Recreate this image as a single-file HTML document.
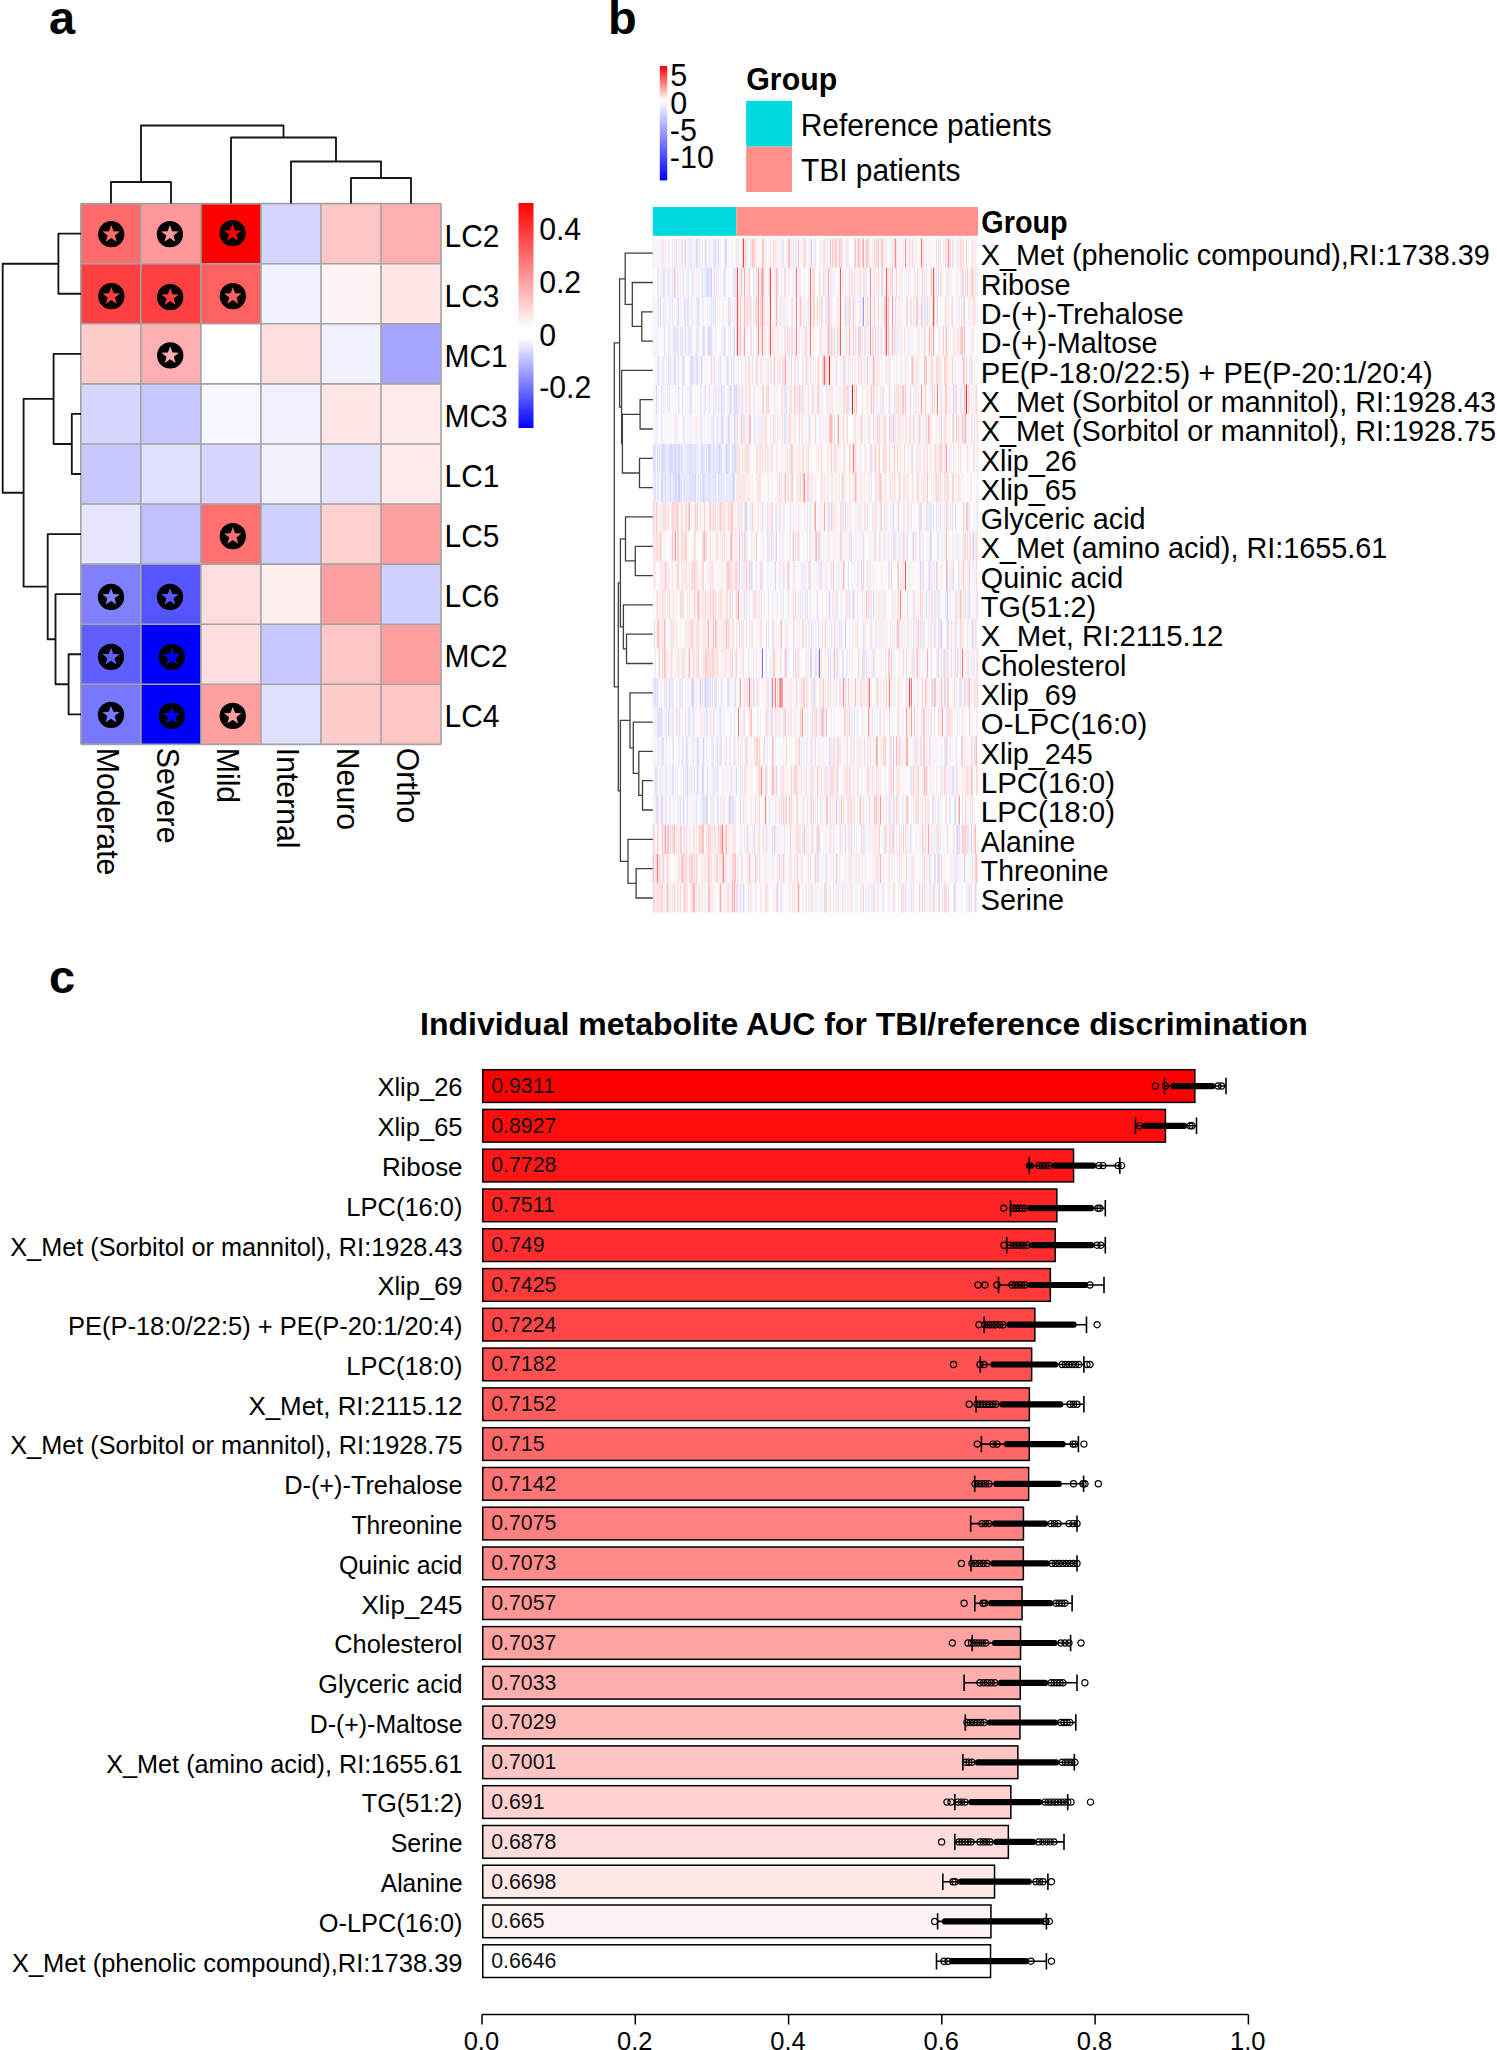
<!DOCTYPE html>
<html><head><meta charset="utf-8"><style>
html,body{margin:0;padding:0;background:#fff;width:1497px;height:2050px;overflow:hidden}
svg{display:block}
text{font-family:"Liberation Sans",sans-serif}
</style></head><body>
<svg width="1497" height="2050" viewBox="0 0 1497 2050">
<rect width="1497" height="2050" fill="#fff"/>
<rect x="80.85" y="203.65" width="60.03" height="60.08" fill="#FF6B6B"/>
<rect x="140.88" y="203.65" width="60.03" height="60.08" fill="#FF9999"/>
<rect x="200.91" y="203.65" width="60.03" height="60.08" fill="#FF0000"/>
<rect x="260.94" y="203.65" width="60.03" height="60.08" fill="#D5D5FF"/>
<rect x="320.97" y="203.65" width="60.03" height="60.08" fill="#FFC6C6"/>
<rect x="381.00" y="203.65" width="60.03" height="60.08" fill="#FFAFAF"/>
<rect x="80.85" y="263.73" width="60.03" height="60.08" fill="#FF4040"/>
<rect x="140.88" y="263.73" width="60.03" height="60.08" fill="#FF4040"/>
<rect x="200.91" y="263.73" width="60.03" height="60.08" fill="#FF6060"/>
<rect x="260.94" y="263.73" width="60.03" height="60.08" fill="#F0F0FF"/>
<rect x="320.97" y="263.73" width="60.03" height="60.08" fill="#FFF3F3"/>
<rect x="381.00" y="263.73" width="60.03" height="60.08" fill="#FFE5E5"/>
<rect x="80.85" y="323.81" width="60.03" height="60.08" fill="#FFCCCC"/>
<rect x="140.88" y="323.81" width="60.03" height="60.08" fill="#FFAFAF"/>
<rect x="200.91" y="323.81" width="60.03" height="60.08" fill="#FFFFFF"/>
<rect x="260.94" y="323.81" width="60.03" height="60.08" fill="#FFE0E0"/>
<rect x="320.97" y="323.81" width="60.03" height="60.08" fill="#F0F0FF"/>
<rect x="381.00" y="323.81" width="60.03" height="60.08" fill="#A5A5FF"/>
<rect x="80.85" y="383.89" width="60.03" height="60.08" fill="#D6D6FF"/>
<rect x="140.88" y="383.89" width="60.03" height="60.08" fill="#C8C8FF"/>
<rect x="200.91" y="383.89" width="60.03" height="60.08" fill="#F7F7FF"/>
<rect x="260.94" y="383.89" width="60.03" height="60.08" fill="#F0F0FF"/>
<rect x="320.97" y="383.89" width="60.03" height="60.08" fill="#FFE6E6"/>
<rect x="381.00" y="383.89" width="60.03" height="60.08" fill="#FFEBEB"/>
<rect x="80.85" y="443.97" width="60.03" height="60.08" fill="#C8C8FF"/>
<rect x="140.88" y="443.97" width="60.03" height="60.08" fill="#E0E0FF"/>
<rect x="200.91" y="443.97" width="60.03" height="60.08" fill="#D6D6FF"/>
<rect x="260.94" y="443.97" width="60.03" height="60.08" fill="#F2F2FF"/>
<rect x="320.97" y="443.97" width="60.03" height="60.08" fill="#E4E4FF"/>
<rect x="381.00" y="443.97" width="60.03" height="60.08" fill="#FFEBEB"/>
<rect x="80.85" y="504.05" width="60.03" height="60.08" fill="#E6E6FF"/>
<rect x="140.88" y="504.05" width="60.03" height="60.08" fill="#C0C0FF"/>
<rect x="200.91" y="504.05" width="60.03" height="60.08" fill="#FF7070"/>
<rect x="260.94" y="504.05" width="60.03" height="60.08" fill="#D0D0FF"/>
<rect x="320.97" y="504.05" width="60.03" height="60.08" fill="#FFD0D0"/>
<rect x="381.00" y="504.05" width="60.03" height="60.08" fill="#FFA0A0"/>
<rect x="80.85" y="564.13" width="60.03" height="60.08" fill="#8080FF"/>
<rect x="140.88" y="564.13" width="60.03" height="60.08" fill="#5555FF"/>
<rect x="200.91" y="564.13" width="60.03" height="60.08" fill="#FFDEDE"/>
<rect x="260.94" y="564.13" width="60.03" height="60.08" fill="#FFF0F0"/>
<rect x="320.97" y="564.13" width="60.03" height="60.08" fill="#FFA0A0"/>
<rect x="381.00" y="564.13" width="60.03" height="60.08" fill="#D0D0FF"/>
<rect x="80.85" y="624.21" width="60.03" height="60.08" fill="#5F5FFF"/>
<rect x="140.88" y="624.21" width="60.03" height="60.08" fill="#0000FF"/>
<rect x="200.91" y="624.21" width="60.03" height="60.08" fill="#FFDEDE"/>
<rect x="260.94" y="624.21" width="60.03" height="60.08" fill="#C8C8FF"/>
<rect x="320.97" y="624.21" width="60.03" height="60.08" fill="#FFC6C6"/>
<rect x="381.00" y="624.21" width="60.03" height="60.08" fill="#FFA0A0"/>
<rect x="80.85" y="684.29" width="60.03" height="60.08" fill="#7878FF"/>
<rect x="140.88" y="684.29" width="60.03" height="60.08" fill="#0000FF"/>
<rect x="200.91" y="684.29" width="60.03" height="60.08" fill="#FFA0A0"/>
<rect x="260.94" y="684.29" width="60.03" height="60.08" fill="#E0E0FF"/>
<rect x="320.97" y="684.29" width="60.03" height="60.08" fill="#FFCCCC"/>
<rect x="381.00" y="684.29" width="60.03" height="60.08" fill="#FFC6C6"/>
<path d="M80.85 203.65V744.37M140.88 203.65V744.37M200.91 203.65V744.37M260.94 203.65V744.37M320.97 203.65V744.37M381.00 203.65V744.37M441.03 203.65V744.37M80.85 203.65H441.03M80.85 263.73H441.03M80.85 323.81H441.03M80.85 383.89H441.03M80.85 443.97H441.03M80.85 504.05H441.03M80.85 564.13H441.03M80.85 624.21H441.03M80.85 684.29H441.03M80.85 744.37H441.03" stroke="#a3a3a3" stroke-width="1.6" fill="none"/>
<circle cx="111.25" cy="234.20" r="13.15" fill="#000"/>
<polygon points="111.25,225.10 113.48,231.23 120.00,231.46 114.86,235.47 116.66,241.74 111.25,238.10 105.84,241.74 107.64,235.47 102.50,231.46 109.02,231.23" fill="#FF6B6B"/>
<circle cx="169.88" cy="234.15" r="13.15" fill="#000"/>
<polygon points="169.88,225.05 172.11,231.18 178.63,231.41 173.49,235.42 175.29,241.69 169.88,238.05 164.47,241.69 166.27,235.42 161.13,231.41 167.65,231.18" fill="#FF9999"/>
<circle cx="232.61" cy="233.15" r="13.15" fill="#000"/>
<polygon points="232.61,224.05 234.84,230.18 241.36,230.41 236.22,234.42 238.02,240.69 232.61,237.05 227.20,240.69 229.00,234.42 223.86,230.41 230.38,230.18" fill="#FF0000"/>
<circle cx="111.35" cy="296.13" r="13.15" fill="#000"/>
<polygon points="111.35,287.03 113.58,293.16 120.10,293.39 114.96,297.40 116.76,303.67 111.35,300.03 105.94,303.67 107.74,297.40 102.60,293.39 109.12,293.16" fill="#FF4040"/>
<circle cx="170.18" cy="297.13" r="13.15" fill="#000"/>
<polygon points="170.18,288.03 172.41,294.16 178.93,294.39 173.79,298.40 175.59,304.67 170.18,301.03 164.77,304.67 166.57,298.40 161.43,294.39 167.95,294.16" fill="#FF4040"/>
<circle cx="232.86" cy="296.13" r="13.15" fill="#000"/>
<polygon points="232.86,287.03 235.09,293.16 241.61,293.39 236.47,297.40 238.27,303.67 232.86,300.03 227.45,303.67 229.25,297.40 224.11,293.39 230.63,293.16" fill="#FF6060"/>
<circle cx="170.18" cy="355.41" r="13.15" fill="#000"/>
<polygon points="170.18,346.31 172.41,352.44 178.93,352.67 173.79,356.68 175.59,362.95 170.18,359.31 164.77,362.95 166.57,356.68 161.43,352.67 167.95,352.44" fill="#FFAFAF"/>
<circle cx="232.81" cy="536.15" r="13.15" fill="#000"/>
<polygon points="232.81,527.05 235.04,533.18 241.56,533.41 236.42,537.42 238.22,543.69 232.81,540.05 227.40,543.69 229.20,537.42 224.06,533.41 230.58,533.18" fill="#FF7070"/>
<circle cx="111.00" cy="596.98" r="13.15" fill="#000"/>
<polygon points="111.00,587.88 113.23,594.01 119.75,594.24 114.61,598.25 116.41,604.52 111.00,600.88 105.59,604.52 107.39,598.25 102.25,594.24 108.77,594.01" fill="#8080FF"/>
<circle cx="169.98" cy="596.98" r="13.15" fill="#000"/>
<polygon points="169.98,587.88 172.21,594.01 178.73,594.24 173.59,598.25 175.39,604.52 169.98,600.88 164.57,604.52 166.37,598.25 161.23,594.24 167.75,594.01" fill="#5555FF"/>
<circle cx="111.00" cy="656.86" r="13.15" fill="#000"/>
<polygon points="111.00,647.76 113.23,653.89 119.75,654.12 114.61,658.13 116.41,664.40 111.00,660.76 105.59,664.40 107.39,658.13 102.25,654.12 108.77,653.89" fill="#5F5FFF"/>
<circle cx="171.78" cy="656.86" r="13.15" fill="#000"/>
<polygon points="171.78,647.76 174.01,653.89 180.53,654.12 175.39,658.13 177.19,664.40 171.78,660.76 166.37,664.40 168.17,658.13 163.03,654.12 169.55,653.89" fill="#0000FF"/>
<circle cx="111.00" cy="714.84" r="13.15" fill="#000"/>
<polygon points="111.00,705.74 113.23,711.87 119.75,712.10 114.61,716.11 116.41,722.38 111.00,718.74 105.59,722.38 107.39,716.11 102.25,712.10 108.77,711.87" fill="#7878FF"/>
<circle cx="171.78" cy="715.89" r="13.15" fill="#000"/>
<polygon points="171.78,706.79 174.01,712.92 180.53,713.15 175.39,717.16 177.19,723.43 171.78,719.79 166.37,723.43 168.17,717.16 163.03,713.15 169.55,712.92" fill="#0000FF"/>
<circle cx="232.76" cy="715.89" r="13.15" fill="#000"/>
<polygon points="232.76,706.79 234.99,712.92 241.51,713.15 236.37,717.16 238.17,723.43 232.76,719.79 227.35,723.43 229.15,717.16 224.01,713.15 230.53,712.92" fill="#FFA0A0"/>
<path d="M111 203.6V182H171V203.6M351 203.6V178H411V203.6M291 203.6V161.5H381V178M231 203.6V137.5H336V161.5M141 182V125.5H283.5V137.5" stroke="#151515" stroke-width="1.85" stroke-linejoin="round" fill="none"/>
<path d="M81 233.69H58.4V293.77H81M81 413.93H71.8V474.01H81M81 353.85H53.6V443.97H71.8M81 654.25H68.6V714.3299999999999H81M81 594.1700000000001H55.5V684.29H68.6M81 534.0899999999999H47.7V639.23H55.5M53.6 398.91H23.6V586.66H47.7M58.4 263.73H2.7V492.78499999999997H23.6" stroke="#151515" stroke-width="1.85" stroke-linejoin="round" fill="none"/>
<text transform="translate(444.60,246.79) scale(1.0,1.075)" font-size="29.9">LC2</text>
<text transform="translate(444.60,306.87) scale(1.0,1.075)" font-size="29.9">LC3</text>
<text transform="translate(444.60,366.95) scale(1.0,1.075)" font-size="29.9">MC1</text>
<text transform="translate(444.60,427.03) scale(1.0,1.075)" font-size="29.9">MC3</text>
<text transform="translate(444.60,487.11) scale(1.0,1.075)" font-size="29.9">LC1</text>
<text transform="translate(444.60,547.19) scale(1.0,1.075)" font-size="29.9">LC5</text>
<text transform="translate(444.60,607.27) scale(1.0,1.075)" font-size="29.9">LC6</text>
<text transform="translate(444.60,667.35) scale(1.0,1.075)" font-size="29.9">MC2</text>
<text transform="translate(444.60,727.43) scale(1.0,1.075)" font-size="29.9">LC4</text>
<text transform="translate(96.80,747.80) rotate(90) scale(1.0,1.06)" font-size="30.2">Moderate</text>
<text transform="translate(156.80,747.80) rotate(90) scale(1.0,1.06)" font-size="30.2">Severe</text>
<text transform="translate(216.80,747.80) rotate(90) scale(1.0,1.06)" font-size="30.2">Mild</text>
<text transform="translate(276.80,747.80) rotate(90) scale(1.0,1.06)" font-size="30.2">Internal</text>
<text transform="translate(336.80,747.80) rotate(90) scale(1.0,1.06)" font-size="30.2">Neuro</text>
<text transform="translate(396.80,747.80) rotate(90) scale(1.0,1.06)" font-size="30.2">Ortho</text>
<defs><linearGradient id="cba" x1="0" y1="0" x2="0" y2="1"><stop offset="0" stop-color="#FF0000"/><stop offset="0.555" stop-color="#FFFFFF"/><stop offset="0.6" stop-color="#FFFFFF"/><stop offset="1" stop-color="#0000FF"/></linearGradient><linearGradient id="cbb" x1="0" y1="0" x2="0" y2="1"><stop offset="0" stop-color="#FF0000"/><stop offset="0.3" stop-color="#FFFFFF"/><stop offset="1" stop-color="#0000FF"/></linearGradient></defs>
<rect x="518.5" y="203" width="15" height="225" fill="url(#cba)"/>
<text transform="translate(539.20,240.00) scale(1.0,1.03)" font-size="30.2">0.4</text>
<text transform="translate(539.20,293.00) scale(1.0,1.03)" font-size="30.2">0.2</text>
<text transform="translate(539.20,345.60) scale(1.0,1.03)" font-size="30.2">0</text>
<text transform="translate(539.20,398.00) scale(1.0,1.03)" font-size="30.2">-0.2</text>
<text x="49" y="34.3" font-size="47" font-weight="bold" font-family="Liberation Sans, sans-serif">a</text>
<text x="608" y="34.3" font-size="47" font-weight="bold" font-family="Liberation Sans, sans-serif">b</text>
<text x="49" y="993.3" font-size="47" font-weight="bold" font-family="Liberation Sans, sans-serif">c</text>
<rect x="659.8" y="66" width="7.4" height="114.4" fill="url(#cbb)"/>
<text x="670.2" y="86" font-size="30.5" font-family="Liberation Sans, sans-serif">5</text>
<text x="670.2" y="113.6" font-size="30.5" font-family="Liberation Sans, sans-serif">0</text>
<text x="669.8" y="140.8" font-size="30.5" font-family="Liberation Sans, sans-serif">-5</text>
<text x="669.8" y="168.2" font-size="30.5" font-family="Liberation Sans, sans-serif">-10</text>
<text transform="translate(746.30,89.90) scale(1.0,1.03)" font-size="30.3" font-weight="bold">Group</text>
<rect x="746.2" y="100.8" width="45.8" height="45.8" fill="#00D9E0"/>
<rect x="746.2" y="146.6" width="45.8" height="45.4" fill="#FF918A"/>
<text transform="translate(800.70,135.90) scale(1.0,1.06)" font-size="29.9">Reference patients</text>
<text transform="translate(801.00,181.30) scale(1.0,1.06)" font-size="29.9">TBI patients</text>
<rect x="652.8" y="207" width="83.5" height="28.8" fill="#00D9E0"/>
<rect x="736.3" y="207" width="241.70000000000005" height="28.8" fill="#FF918A"/>
<text transform="translate(981.30,233.30) scale(1.0,1.06)" font-size="28.8" font-weight="bold">Group</text>
<rect x="652.8" y="238.5" width="325.20000000000005" height="674.13" fill="#FFFFFF"/>
<path fill="#EBEBFF" d="M652.8 238.5h1.00v29.31h-1.00zM656.8 238.5h1.00v29.31h-1.00zM664.8 238.5h1.00v29.31h-1.00zM667.8 238.5h1.00v29.31h-1.00zM668.8 238.5h1.00v29.31h-1.00zM673.8 238.5h1.00v29.31h-1.00zM674.8 238.5h1.00v29.31h-1.00zM678.8 238.5h1.00v29.31h-1.00zM683.8 238.5h1.00v29.31h-1.00zM685.8 238.5h1.00v29.31h-1.00zM688.8 238.5h1.00v29.31h-1.00zM690.8 238.5h1.00v29.31h-1.00zM691.8 238.5h1.00v29.31h-1.00zM693.8 238.5h1.00v29.31h-1.00zM708.8 238.5h1.00v29.31h-1.00zM709.8 238.5h1.00v29.31h-1.00zM712.8 238.5h1.00v29.31h-1.00zM715.8 238.5h1.00v29.31h-1.00zM719.8 238.5h1.00v29.31h-1.00zM723.8 238.5h1.00v29.31h-1.00zM727.8 238.5h1.00v29.31h-1.00zM738.9 238.5h1.00v29.31h-1.00zM745.9 238.5h1.00v29.31h-1.00zM764.9 238.5h1.00v29.31h-1.00zM779.9 238.5h1.00v29.31h-1.00zM808.9 238.5h1.00v29.31h-1.00zM809.9 238.5h1.00v29.31h-1.00zM818.9 238.5h1.00v29.31h-1.00zM846.9 238.5h1.00v29.31h-1.00zM847.9 238.5h1.00v29.31h-1.00zM871.9 238.5h1.00v29.31h-1.00zM882.9 238.5h1.00v29.31h-1.00zM884.9 238.5h1.00v29.31h-1.00zM899.0 238.5h1.00v29.31h-1.00zM903.0 238.5h1.00v29.31h-1.00zM913.0 238.5h1.00v29.31h-1.00zM923.0 238.5h1.00v29.31h-1.00zM943.0 238.5h1.00v29.31h-1.00zM973.0 238.5h1.00v29.31h-1.00zM656.8 267.8h1.00v29.31h-1.00zM659.8 267.8h1.00v29.31h-1.00zM661.8 267.8h1.00v29.31h-1.00zM664.8 267.8h1.00v29.31h-1.00zM667.8 267.8h1.00v29.31h-1.00zM677.8 267.8h1.00v29.31h-1.00zM679.8 267.8h1.00v29.31h-1.00zM686.8 267.8h1.00v29.31h-1.00zM695.8 267.8h1.00v29.31h-1.00zM697.8 267.8h1.00v29.31h-1.00zM699.8 267.8h1.00v29.31h-1.00zM703.8 267.8h1.00v29.31h-1.00zM704.8 267.8h1.00v29.31h-1.00zM708.8 267.8h1.00v29.31h-1.00zM712.8 267.8h1.00v29.31h-1.00zM717.8 267.8h1.00v29.31h-1.00zM719.8 267.8h1.00v29.31h-1.00zM722.8 267.8h1.00v29.31h-1.00zM733.8 267.8h1.00v29.31h-1.00zM735.9 267.8h1.00v29.31h-1.00zM738.9 267.8h1.00v29.31h-1.00zM745.9 267.8h1.00v29.31h-1.00zM752.9 267.8h1.00v29.31h-1.00zM753.9 267.8h1.00v29.31h-1.00zM774.9 267.8h1.00v29.31h-1.00zM777.9 267.8h1.00v29.31h-1.00zM780.9 267.8h1.00v29.31h-1.00zM792.9 267.8h1.00v29.31h-1.00zM798.9 267.8h1.00v29.31h-1.00zM799.9 267.8h1.00v29.31h-1.00zM807.9 267.8h1.00v29.31h-1.00zM826.9 267.8h1.00v29.31h-1.00zM829.9 267.8h1.00v29.31h-1.00zM830.9 267.8h1.00v29.31h-1.00zM832.9 267.8h1.00v29.31h-1.00zM870.9 267.8h1.00v29.31h-1.00zM872.9 267.8h1.00v29.31h-1.00zM914.0 267.8h1.00v29.31h-1.00zM926.0 267.8h1.00v29.31h-1.00zM947.0 267.8h1.00v29.31h-1.00zM977.0 267.8h1.00v29.31h-1.00zM652.8 297.1h1.00v29.31h-1.00zM656.8 297.1h1.00v29.31h-1.00zM662.8 297.1h1.00v29.31h-1.00zM663.8 297.1h1.00v29.31h-1.00zM664.8 297.1h1.00v29.31h-1.00zM675.8 297.1h1.00v29.31h-1.00zM679.8 297.1h1.00v29.31h-1.00zM681.8 297.1h1.00v29.31h-1.00zM683.8 297.1h1.00v29.31h-1.00zM690.8 297.1h1.00v29.31h-1.00zM693.8 297.1h1.00v29.31h-1.00zM695.8 297.1h1.00v29.31h-1.00zM698.8 297.1h1.00v29.31h-1.00zM701.8 297.1h1.00v29.31h-1.00zM702.8 297.1h1.00v29.31h-1.00zM706.8 297.1h1.00v29.31h-1.00zM708.8 297.1h1.00v29.31h-1.00zM713.8 297.1h1.00v29.31h-1.00zM722.8 297.1h1.00v29.31h-1.00zM731.8 297.1h1.00v29.31h-1.00zM733.8 297.1h1.00v29.31h-1.00zM734.9 297.1h1.00v29.31h-1.00zM735.9 297.1h1.00v29.31h-1.00zM750.9 297.1h1.00v29.31h-1.00zM756.9 297.1h1.00v29.31h-1.00zM764.9 297.1h1.00v29.31h-1.00zM781.9 297.1h1.00v29.31h-1.00zM783.9 297.1h1.00v29.31h-1.00zM790.9 297.1h1.00v29.31h-1.00zM798.9 297.1h1.00v29.31h-1.00zM802.9 297.1h1.00v29.31h-1.00zM805.9 297.1h1.00v29.31h-1.00zM819.9 297.1h1.00v29.31h-1.00zM825.9 297.1h1.00v29.31h-1.00zM826.9 297.1h1.00v29.31h-1.00zM829.9 297.1h1.00v29.31h-1.00zM830.9 297.1h1.00v29.31h-1.00zM846.9 297.1h1.00v29.31h-1.00zM847.9 297.1h1.00v29.31h-1.00zM854.9 297.1h1.00v29.31h-1.00zM861.9 297.1h1.00v29.31h-1.00zM865.9 297.1h1.00v29.31h-1.00zM867.9 297.1h1.00v29.31h-1.00zM880.9 297.1h1.00v29.31h-1.00zM892.9 297.1h1.00v29.31h-1.00zM914.0 297.1h1.00v29.31h-1.00zM925.0 297.1h1.00v29.31h-1.00zM926.0 297.1h1.00v29.31h-1.00zM936.0 297.1h1.00v29.31h-1.00zM951.0 297.1h1.00v29.31h-1.00zM957.0 297.1h1.00v29.31h-1.00zM969.0 297.1h1.00v29.31h-1.00zM652.8 326.4h1.00v29.31h-1.00zM668.8 326.4h1.00v29.31h-1.00zM675.8 326.4h1.00v29.31h-1.00zM676.8 326.4h1.00v29.31h-1.00zM680.8 326.4h1.00v29.31h-1.00zM683.8 326.4h1.00v29.31h-1.00zM684.8 326.4h1.00v29.31h-1.00zM685.8 326.4h1.00v29.31h-1.00zM688.8 326.4h1.00v29.31h-1.00zM689.8 326.4h1.00v29.31h-1.00zM697.8 326.4h1.00v29.31h-1.00zM706.8 326.4h1.00v29.31h-1.00zM712.8 326.4h1.00v29.31h-1.00zM714.8 326.4h1.00v29.31h-1.00zM721.8 326.4h1.00v29.31h-1.00zM722.8 326.4h1.00v29.31h-1.00zM732.8 326.4h1.00v29.31h-1.00zM735.9 326.4h1.00v29.31h-1.00zM752.9 326.4h1.00v29.31h-1.00zM756.9 326.4h1.00v29.31h-1.00zM762.9 326.4h1.00v29.31h-1.00zM764.9 326.4h1.00v29.31h-1.00zM783.9 326.4h1.00v29.31h-1.00zM797.9 326.4h1.00v29.31h-1.00zM798.9 326.4h1.00v29.31h-1.00zM801.9 326.4h1.00v29.31h-1.00zM819.9 326.4h1.00v29.31h-1.00zM829.9 326.4h1.00v29.31h-1.00zM865.9 326.4h1.00v29.31h-1.00zM867.9 326.4h1.00v29.31h-1.00zM876.9 326.4h1.00v29.31h-1.00zM888.9 326.4h1.00v29.31h-1.00zM894.9 326.4h1.00v29.31h-1.00zM895.9 326.4h1.00v29.31h-1.00zM897.0 326.4h1.00v29.31h-1.00zM898.0 326.4h1.00v29.31h-1.00zM908.0 326.4h1.00v29.31h-1.00zM919.0 326.4h1.00v29.31h-1.00zM939.0 326.4h1.00v29.31h-1.00zM947.0 326.4h1.00v29.31h-1.00zM963.0 326.4h1.00v29.31h-1.00zM970.0 326.4h1.00v29.31h-1.00zM656.8 355.7h1.00v29.31h-1.00zM658.8 355.7h1.00v29.31h-1.00zM663.8 355.7h1.00v29.31h-1.00zM665.8 355.7h1.00v29.31h-1.00zM668.8 355.7h1.00v29.31h-1.00zM669.8 355.7h1.00v29.31h-1.00zM670.8 355.7h1.00v29.31h-1.00zM672.8 355.7h1.00v29.31h-1.00zM675.8 355.7h1.00v29.31h-1.00zM692.8 355.7h1.00v29.31h-1.00zM693.8 355.7h1.00v29.31h-1.00zM694.8 355.7h1.00v29.31h-1.00zM698.8 355.7h1.00v29.31h-1.00zM704.8 355.7h1.00v29.31h-1.00zM711.8 355.7h1.00v29.31h-1.00zM717.8 355.7h1.00v29.31h-1.00zM722.8 355.7h1.00v29.31h-1.00zM733.8 355.7h1.00v29.31h-1.00zM735.9 355.7h1.00v29.31h-1.00zM740.9 355.7h1.00v29.31h-1.00zM787.9 355.7h1.00v29.31h-1.00zM793.9 355.7h1.00v29.31h-1.00zM797.9 355.7h1.00v29.31h-1.00zM804.9 355.7h1.00v29.31h-1.00zM851.9 355.7h1.00v29.31h-1.00zM863.9 355.7h1.00v29.31h-1.00zM895.9 355.7h1.00v29.31h-1.00zM901.0 355.7h1.00v29.31h-1.00zM918.0 355.7h1.00v29.31h-1.00zM969.0 355.7h1.00v29.31h-1.00zM652.8 385.0h1.00v29.31h-1.00zM657.8 385.0h1.00v29.31h-1.00zM660.8 385.0h1.00v29.31h-1.00zM661.8 385.0h1.00v29.31h-1.00zM662.8 385.0h1.00v29.31h-1.00zM664.8 385.0h1.00v29.31h-1.00zM666.8 385.0h1.00v29.31h-1.00zM674.8 385.0h1.00v29.31h-1.00zM678.8 385.0h1.00v29.31h-1.00zM684.8 385.0h1.00v29.31h-1.00zM686.8 385.0h1.00v29.31h-1.00zM699.8 385.0h1.00v29.31h-1.00zM700.8 385.0h1.00v29.31h-1.00zM703.8 385.0h1.00v29.31h-1.00zM709.8 385.0h1.00v29.31h-1.00zM715.8 385.0h1.00v29.31h-1.00zM718.8 385.0h1.00v29.31h-1.00zM722.8 385.0h1.00v29.31h-1.00zM726.8 385.0h1.00v29.31h-1.00zM732.8 385.0h1.00v29.31h-1.00zM738.9 385.0h1.00v29.31h-1.00zM741.9 385.0h1.00v29.31h-1.00zM742.9 385.0h1.00v29.31h-1.00zM752.9 385.0h1.00v29.31h-1.00zM784.9 385.0h1.00v29.31h-1.00zM803.9 385.0h1.00v29.31h-1.00zM810.9 385.0h1.00v29.31h-1.00zM818.9 385.0h1.00v29.31h-1.00zM820.9 385.0h1.00v29.31h-1.00zM827.9 385.0h1.00v29.31h-1.00zM835.9 385.0h1.00v29.31h-1.00zM875.9 385.0h1.00v29.31h-1.00zM881.9 385.0h1.00v29.31h-1.00zM887.9 385.0h1.00v29.31h-1.00zM889.9 385.0h1.00v29.31h-1.00zM913.0 385.0h1.00v29.31h-1.00zM930.0 385.0h1.00v29.31h-1.00zM954.0 385.0h1.00v29.31h-1.00zM955.0 385.0h1.00v29.31h-1.00zM660.8 414.4h1.00v29.31h-1.00zM661.8 414.4h1.00v29.31h-1.00zM665.8 414.4h1.00v29.31h-1.00zM674.8 414.4h1.00v29.31h-1.00zM675.8 414.4h1.00v29.31h-1.00zM681.8 414.4h1.00v29.31h-1.00zM689.8 414.4h1.00v29.31h-1.00zM691.8 414.4h1.00v29.31h-1.00zM695.8 414.4h1.00v29.31h-1.00zM699.8 414.4h1.00v29.31h-1.00zM703.8 414.4h1.00v29.31h-1.00zM706.8 414.4h1.00v29.31h-1.00zM709.8 414.4h1.00v29.31h-1.00zM712.8 414.4h1.00v29.31h-1.00zM713.8 414.4h1.00v29.31h-1.00zM715.8 414.4h1.00v29.31h-1.00zM717.8 414.4h1.00v29.31h-1.00zM726.8 414.4h1.00v29.31h-1.00zM735.9 414.4h1.00v29.31h-1.00zM745.9 414.4h1.00v29.31h-1.00zM754.9 414.4h1.00v29.31h-1.00zM757.9 414.4h1.00v29.31h-1.00zM758.9 414.4h1.00v29.31h-1.00zM760.9 414.4h1.00v29.31h-1.00zM761.9 414.4h1.00v29.31h-1.00zM786.9 414.4h1.00v29.31h-1.00zM809.9 414.4h1.00v29.31h-1.00zM818.9 414.4h1.00v29.31h-1.00zM826.9 414.4h1.00v29.31h-1.00zM827.9 414.4h1.00v29.31h-1.00zM845.9 414.4h1.00v29.31h-1.00zM863.9 414.4h1.00v29.31h-1.00zM889.9 414.4h1.00v29.31h-1.00zM893.9 414.4h1.00v29.31h-1.00zM894.9 414.4h1.00v29.31h-1.00zM918.0 414.4h1.00v29.31h-1.00zM939.0 414.4h1.00v29.31h-1.00zM961.0 414.4h1.00v29.31h-1.00zM966.0 414.4h1.00v29.31h-1.00zM657.8 443.7h1.00v29.31h-1.00zM659.8 443.7h1.00v29.31h-1.00zM673.8 443.7h1.00v29.31h-1.00zM675.8 443.7h1.00v29.31h-1.00zM679.8 443.7h1.00v29.31h-1.00zM682.8 443.7h1.00v29.31h-1.00zM692.8 443.7h1.00v29.31h-1.00zM695.8 443.7h1.00v29.31h-1.00zM697.8 443.7h1.00v29.31h-1.00zM699.8 443.7h1.00v29.31h-1.00zM710.8 443.7h1.00v29.31h-1.00zM711.8 443.7h1.00v29.31h-1.00zM714.8 443.7h1.00v29.31h-1.00zM716.8 443.7h1.00v29.31h-1.00zM722.8 443.7h1.00v29.31h-1.00zM724.8 443.7h1.00v29.31h-1.00zM732.8 443.7h1.00v29.31h-1.00zM789.9 443.7h1.00v29.31h-1.00zM917.0 443.7h1.00v29.31h-1.00zM949.0 443.7h1.00v29.31h-1.00zM954.0 443.7h1.00v29.31h-1.00zM663.8 473.0h1.00v29.31h-1.00zM668.8 473.0h1.00v29.31h-1.00zM670.8 473.0h1.00v29.31h-1.00zM671.8 473.0h1.00v29.31h-1.00zM679.8 473.0h1.00v29.31h-1.00zM682.8 473.0h1.00v29.31h-1.00zM685.8 473.0h1.00v29.31h-1.00zM687.8 473.0h1.00v29.31h-1.00zM700.8 473.0h1.00v29.31h-1.00zM704.8 473.0h1.00v29.31h-1.00zM706.8 473.0h1.00v29.31h-1.00zM710.8 473.0h1.00v29.31h-1.00zM711.8 473.0h1.00v29.31h-1.00zM713.8 473.0h1.00v29.31h-1.00zM715.8 473.0h1.00v29.31h-1.00zM719.8 473.0h1.00v29.31h-1.00zM721.8 473.0h1.00v29.31h-1.00zM722.8 473.0h1.00v29.31h-1.00zM723.8 473.0h1.00v29.31h-1.00zM726.8 473.0h1.00v29.31h-1.00zM727.8 473.0h1.00v29.31h-1.00zM729.8 473.0h1.00v29.31h-1.00zM730.8 473.0h1.00v29.31h-1.00zM735.9 473.0h1.00v29.31h-1.00zM767.9 473.0h1.00v29.31h-1.00zM789.9 473.0h1.00v29.31h-1.00zM809.9 473.0h1.00v29.31h-1.00zM824.9 473.0h1.00v29.31h-1.00zM970.0 473.0h1.00v29.31h-1.00zM977.0 473.0h1.00v29.31h-1.00zM692.8 502.3h1.00v29.31h-1.00zM736.9 502.3h1.00v29.31h-1.00zM741.9 502.3h1.00v29.31h-1.00zM749.9 502.3h1.00v29.31h-1.00zM774.9 502.3h1.00v29.31h-1.00zM782.9 502.3h1.00v29.31h-1.00zM783.9 502.3h1.00v29.31h-1.00zM789.9 502.3h1.00v29.31h-1.00zM803.9 502.3h1.00v29.31h-1.00zM816.9 502.3h1.00v29.31h-1.00zM820.9 502.3h1.00v29.31h-1.00zM826.9 502.3h1.00v29.31h-1.00zM828.9 502.3h1.00v29.31h-1.00zM829.9 502.3h1.00v29.31h-1.00zM841.9 502.3h1.00v29.31h-1.00zM846.9 502.3h1.00v29.31h-1.00zM850.9 502.3h1.00v29.31h-1.00zM854.9 502.3h1.00v29.31h-1.00zM857.9 502.3h1.00v29.31h-1.00zM858.9 502.3h1.00v29.31h-1.00zM891.9 502.3h1.00v29.31h-1.00zM907.0 502.3h1.00v29.31h-1.00zM923.0 502.3h1.00v29.31h-1.00zM927.0 502.3h1.00v29.31h-1.00zM928.0 502.3h1.00v29.31h-1.00zM929.0 502.3h1.00v29.31h-1.00zM931.0 502.3h1.00v29.31h-1.00zM944.0 502.3h1.00v29.31h-1.00zM950.0 502.3h1.00v29.31h-1.00zM673.8 531.6h1.00v29.31h-1.00zM675.8 531.6h1.00v29.31h-1.00zM717.8 531.6h1.00v29.31h-1.00zM736.9 531.6h1.00v29.31h-1.00zM750.9 531.6h1.00v29.31h-1.00zM767.9 531.6h1.00v29.31h-1.00zM768.9 531.6h1.00v29.31h-1.00zM772.9 531.6h1.00v29.31h-1.00zM780.9 531.6h1.00v29.31h-1.00zM782.9 531.6h1.00v29.31h-1.00zM788.9 531.6h1.00v29.31h-1.00zM791.9 531.6h1.00v29.31h-1.00zM816.9 531.6h1.00v29.31h-1.00zM822.9 531.6h1.00v29.31h-1.00zM849.9 531.6h1.00v29.31h-1.00zM852.9 531.6h1.00v29.31h-1.00zM854.9 531.6h1.00v29.31h-1.00zM882.9 531.6h1.00v29.31h-1.00zM883.9 531.6h1.00v29.31h-1.00zM887.9 531.6h1.00v29.31h-1.00zM890.9 531.6h1.00v29.31h-1.00zM898.0 531.6h1.00v29.31h-1.00zM899.0 531.6h1.00v29.31h-1.00zM906.0 531.6h1.00v29.31h-1.00zM916.0 531.6h1.00v29.31h-1.00zM920.0 531.6h1.00v29.31h-1.00zM923.0 531.6h1.00v29.31h-1.00zM937.0 531.6h1.00v29.31h-1.00zM945.0 531.6h1.00v29.31h-1.00zM957.0 531.6h1.00v29.31h-1.00zM964.0 531.6h1.00v29.31h-1.00zM970.0 531.6h1.00v29.31h-1.00zM972.0 531.6h1.00v29.31h-1.00zM975.0 531.6h1.00v29.31h-1.00zM660.8 560.9h1.00v29.31h-1.00zM662.8 560.9h1.00v29.31h-1.00zM710.8 560.9h1.00v29.31h-1.00zM736.9 560.9h1.00v29.31h-1.00zM737.9 560.9h1.00v29.31h-1.00zM741.9 560.9h1.00v29.31h-1.00zM742.9 560.9h1.00v29.31h-1.00zM766.9 560.9h1.00v29.31h-1.00zM783.9 560.9h1.00v29.31h-1.00zM792.9 560.9h1.00v29.31h-1.00zM800.9 560.9h1.00v29.31h-1.00zM802.9 560.9h1.00v29.31h-1.00zM804.9 560.9h1.00v29.31h-1.00zM819.9 560.9h1.00v29.31h-1.00zM826.9 560.9h1.00v29.31h-1.00zM835.9 560.9h1.00v29.31h-1.00zM850.9 560.9h1.00v29.31h-1.00zM856.9 560.9h1.00v29.31h-1.00zM868.9 560.9h1.00v29.31h-1.00zM901.0 560.9h1.00v29.31h-1.00zM909.0 560.9h1.00v29.31h-1.00zM922.0 560.9h1.00v29.31h-1.00zM930.0 560.9h1.00v29.31h-1.00zM931.0 560.9h1.00v29.31h-1.00zM934.0 560.9h1.00v29.31h-1.00zM951.0 560.9h1.00v29.31h-1.00zM952.0 560.9h1.00v29.31h-1.00zM658.8 590.2h1.00v29.31h-1.00zM666.8 590.2h1.00v29.31h-1.00zM734.9 590.2h1.00v29.31h-1.00zM740.9 590.2h1.00v29.31h-1.00zM744.9 590.2h1.00v29.31h-1.00zM748.9 590.2h1.00v29.31h-1.00zM758.9 590.2h1.00v29.31h-1.00zM772.9 590.2h1.00v29.31h-1.00zM776.9 590.2h1.00v29.31h-1.00zM780.9 590.2h1.00v29.31h-1.00zM797.9 590.2h1.00v29.31h-1.00zM809.9 590.2h1.00v29.31h-1.00zM827.9 590.2h1.00v29.31h-1.00zM829.9 590.2h1.00v29.31h-1.00zM832.9 590.2h1.00v29.31h-1.00zM834.9 590.2h1.00v29.31h-1.00zM836.9 590.2h1.00v29.31h-1.00zM840.9 590.2h1.00v29.31h-1.00zM844.9 590.2h1.00v29.31h-1.00zM856.9 590.2h1.00v29.31h-1.00zM875.9 590.2h1.00v29.31h-1.00zM892.9 590.2h1.00v29.31h-1.00zM913.0 590.2h1.00v29.31h-1.00zM928.0 590.2h1.00v29.31h-1.00zM932.0 590.2h1.00v29.31h-1.00zM934.0 590.2h1.00v29.31h-1.00zM936.0 590.2h1.00v29.31h-1.00zM946.0 590.2h1.00v29.31h-1.00zM964.0 590.2h1.00v29.31h-1.00zM967.0 590.2h1.00v29.31h-1.00zM970.0 590.2h1.00v29.31h-1.00zM976.0 590.2h1.00v29.31h-1.00zM668.8 619.5h1.00v29.31h-1.00zM703.8 619.5h1.00v29.31h-1.00zM748.9 619.5h1.00v29.31h-1.00zM750.9 619.5h1.00v29.31h-1.00zM786.9 619.5h1.00v29.31h-1.00zM796.9 619.5h1.00v29.31h-1.00zM807.9 619.5h1.00v29.31h-1.00zM808.9 619.5h1.00v29.31h-1.00zM812.9 619.5h1.00v29.31h-1.00zM814.9 619.5h1.00v29.31h-1.00zM828.9 619.5h1.00v29.31h-1.00zM834.9 619.5h1.00v29.31h-1.00zM836.9 619.5h1.00v29.31h-1.00zM848.9 619.5h1.00v29.31h-1.00zM869.9 619.5h1.00v29.31h-1.00zM874.9 619.5h1.00v29.31h-1.00zM875.9 619.5h1.00v29.31h-1.00zM879.9 619.5h1.00v29.31h-1.00zM883.9 619.5h1.00v29.31h-1.00zM891.9 619.5h1.00v29.31h-1.00zM895.9 619.5h1.00v29.31h-1.00zM902.0 619.5h1.00v29.31h-1.00zM907.0 619.5h1.00v29.31h-1.00zM913.0 619.5h1.00v29.31h-1.00zM921.0 619.5h1.00v29.31h-1.00zM922.0 619.5h1.00v29.31h-1.00zM924.0 619.5h1.00v29.31h-1.00zM928.0 619.5h1.00v29.31h-1.00zM935.0 619.5h1.00v29.31h-1.00zM942.0 619.5h1.00v29.31h-1.00zM946.0 619.5h1.00v29.31h-1.00zM956.0 619.5h1.00v29.31h-1.00zM967.0 619.5h1.00v29.31h-1.00zM971.0 619.5h1.00v29.31h-1.00zM976.0 619.5h1.00v29.31h-1.00zM678.8 648.8h1.00v29.31h-1.00zM734.9 648.8h1.00v29.31h-1.00zM769.9 648.8h1.00v29.31h-1.00zM783.9 648.8h1.00v29.31h-1.00zM786.9 648.8h1.00v29.31h-1.00zM798.9 648.8h1.00v29.31h-1.00zM807.9 648.8h1.00v29.31h-1.00zM817.9 648.8h1.00v29.31h-1.00zM832.9 648.8h1.00v29.31h-1.00zM837.9 648.8h1.00v29.31h-1.00zM842.9 648.8h1.00v29.31h-1.00zM845.9 648.8h1.00v29.31h-1.00zM846.9 648.8h1.00v29.31h-1.00zM848.9 648.8h1.00v29.31h-1.00zM871.9 648.8h1.00v29.31h-1.00zM893.9 648.8h1.00v29.31h-1.00zM922.0 648.8h1.00v29.31h-1.00zM946.0 648.8h1.00v29.31h-1.00zM948.0 648.8h1.00v29.31h-1.00zM954.0 648.8h1.00v29.31h-1.00zM963.0 648.8h1.00v29.31h-1.00zM966.0 648.8h1.00v29.31h-1.00zM971.0 648.8h1.00v29.31h-1.00zM976.0 648.8h1.00v29.31h-1.00zM653.8 678.1h1.00v29.31h-1.00zM655.8 678.1h1.00v29.31h-1.00zM663.8 678.1h1.00v29.31h-1.00zM664.8 678.1h1.00v29.31h-1.00zM669.8 678.1h1.00v29.31h-1.00zM670.8 678.1h1.00v29.31h-1.00zM672.8 678.1h1.00v29.31h-1.00zM675.8 678.1h1.00v29.31h-1.00zM680.8 678.1h1.00v29.31h-1.00zM684.8 678.1h1.00v29.31h-1.00zM686.8 678.1h1.00v29.31h-1.00zM690.8 678.1h1.00v29.31h-1.00zM693.8 678.1h1.00v29.31h-1.00zM695.8 678.1h1.00v29.31h-1.00zM703.8 678.1h1.00v29.31h-1.00zM707.8 678.1h1.00v29.31h-1.00zM717.8 678.1h1.00v29.31h-1.00zM731.8 678.1h1.00v29.31h-1.00zM733.8 678.1h1.00v29.31h-1.00zM755.9 678.1h1.00v29.31h-1.00zM772.9 678.1h1.00v29.31h-1.00zM799.9 678.1h1.00v29.31h-1.00zM810.9 678.1h1.00v29.31h-1.00zM843.9 678.1h1.00v29.31h-1.00zM850.9 678.1h1.00v29.31h-1.00zM859.9 678.1h1.00v29.31h-1.00zM892.9 678.1h1.00v29.31h-1.00zM894.9 678.1h1.00v29.31h-1.00zM906.0 678.1h1.00v29.31h-1.00zM908.0 678.1h1.00v29.31h-1.00zM914.0 678.1h1.00v29.31h-1.00zM942.0 678.1h1.00v29.31h-1.00zM971.0 678.1h1.00v29.31h-1.00zM652.8 707.5h1.00v29.31h-1.00zM654.8 707.5h1.00v29.31h-1.00zM655.8 707.5h1.00v29.31h-1.00zM656.8 707.5h1.00v29.31h-1.00zM657.8 707.5h1.00v29.31h-1.00zM659.8 707.5h1.00v29.31h-1.00zM663.8 707.5h1.00v29.31h-1.00zM670.8 707.5h1.00v29.31h-1.00zM675.8 707.5h1.00v29.31h-1.00zM676.8 707.5h1.00v29.31h-1.00zM677.8 707.5h1.00v29.31h-1.00zM681.8 707.5h1.00v29.31h-1.00zM684.8 707.5h1.00v29.31h-1.00zM687.8 707.5h1.00v29.31h-1.00zM691.8 707.5h1.00v29.31h-1.00zM693.8 707.5h1.00v29.31h-1.00zM708.8 707.5h1.00v29.31h-1.00zM712.8 707.5h1.00v29.31h-1.00zM718.8 707.5h1.00v29.31h-1.00zM721.8 707.5h1.00v29.31h-1.00zM723.8 707.5h1.00v29.31h-1.00zM729.8 707.5h1.00v29.31h-1.00zM739.9 707.5h1.00v29.31h-1.00zM742.9 707.5h1.00v29.31h-1.00zM757.9 707.5h1.00v29.31h-1.00zM769.9 707.5h1.00v29.31h-1.00zM770.9 707.5h1.00v29.31h-1.00zM777.9 707.5h1.00v29.31h-1.00zM783.9 707.5h1.00v29.31h-1.00zM804.9 707.5h1.00v29.31h-1.00zM806.9 707.5h1.00v29.31h-1.00zM817.9 707.5h1.00v29.31h-1.00zM827.9 707.5h1.00v29.31h-1.00zM833.9 707.5h1.00v29.31h-1.00zM850.9 707.5h1.00v29.31h-1.00zM856.9 707.5h1.00v29.31h-1.00zM873.9 707.5h1.00v29.31h-1.00zM875.9 707.5h1.00v29.31h-1.00zM878.9 707.5h1.00v29.31h-1.00zM902.0 707.5h1.00v29.31h-1.00zM922.0 707.5h1.00v29.31h-1.00zM928.0 707.5h1.00v29.31h-1.00zM939.0 707.5h1.00v29.31h-1.00zM946.0 707.5h1.00v29.31h-1.00zM977.0 707.5h1.00v29.31h-1.00zM652.8 736.8h1.00v29.31h-1.00zM654.8 736.8h1.00v29.31h-1.00zM656.8 736.8h1.00v29.31h-1.00zM659.8 736.8h1.00v29.31h-1.00zM677.8 736.8h1.00v29.31h-1.00zM678.8 736.8h1.00v29.31h-1.00zM682.8 736.8h1.00v29.31h-1.00zM690.8 736.8h1.00v29.31h-1.00zM694.8 736.8h1.00v29.31h-1.00zM698.8 736.8h1.00v29.31h-1.00zM703.8 736.8h1.00v29.31h-1.00zM705.8 736.8h1.00v29.31h-1.00zM710.8 736.8h1.00v29.31h-1.00zM711.8 736.8h1.00v29.31h-1.00zM718.8 736.8h1.00v29.31h-1.00zM724.8 736.8h1.00v29.31h-1.00zM728.8 736.8h1.00v29.31h-1.00zM732.8 736.8h1.00v29.31h-1.00zM734.9 736.8h1.00v29.31h-1.00zM739.9 736.8h1.00v29.31h-1.00zM766.9 736.8h1.00v29.31h-1.00zM774.9 736.8h1.00v29.31h-1.00zM802.9 736.8h1.00v29.31h-1.00zM805.9 736.8h1.00v29.31h-1.00zM806.9 736.8h1.00v29.31h-1.00zM810.9 736.8h1.00v29.31h-1.00zM811.9 736.8h1.00v29.31h-1.00zM818.9 736.8h1.00v29.31h-1.00zM822.9 736.8h1.00v29.31h-1.00zM830.9 736.8h1.00v29.31h-1.00zM838.9 736.8h1.00v29.31h-1.00zM843.9 736.8h1.00v29.31h-1.00zM852.9 736.8h1.00v29.31h-1.00zM867.9 736.8h1.00v29.31h-1.00zM900.0 736.8h1.00v29.31h-1.00zM914.0 736.8h1.00v29.31h-1.00zM930.0 736.8h1.00v29.31h-1.00zM941.0 736.8h1.00v29.31h-1.00zM944.0 736.8h1.00v29.31h-1.00zM950.0 736.8h1.00v29.31h-1.00zM656.8 766.1h1.00v29.31h-1.00zM661.8 766.1h1.00v29.31h-1.00zM664.8 766.1h1.00v29.31h-1.00zM665.8 766.1h1.00v29.31h-1.00zM666.8 766.1h1.00v29.31h-1.00zM669.8 766.1h1.00v29.31h-1.00zM674.8 766.1h1.00v29.31h-1.00zM688.8 766.1h1.00v29.31h-1.00zM695.8 766.1h1.00v29.31h-1.00zM717.8 766.1h1.00v29.31h-1.00zM721.8 766.1h1.00v29.31h-1.00zM726.8 766.1h1.00v29.31h-1.00zM741.9 766.1h1.00v29.31h-1.00zM746.9 766.1h1.00v29.31h-1.00zM766.9 766.1h1.00v29.31h-1.00zM810.9 766.1h1.00v29.31h-1.00zM826.9 766.1h1.00v29.31h-1.00zM888.9 766.1h1.00v29.31h-1.00zM889.9 766.1h1.00v29.31h-1.00zM910.0 766.1h1.00v29.31h-1.00zM914.0 766.1h1.00v29.31h-1.00zM922.0 766.1h1.00v29.31h-1.00zM927.0 766.1h1.00v29.31h-1.00zM936.0 766.1h1.00v29.31h-1.00zM945.0 766.1h1.00v29.31h-1.00zM949.0 766.1h1.00v29.31h-1.00zM951.0 766.1h1.00v29.31h-1.00zM955.0 766.1h1.00v29.31h-1.00zM652.8 795.4h1.00v29.31h-1.00zM654.8 795.4h1.00v29.31h-1.00zM662.8 795.4h1.00v29.31h-1.00zM664.8 795.4h1.00v29.31h-1.00zM668.8 795.4h1.00v29.31h-1.00zM669.8 795.4h1.00v29.31h-1.00zM672.8 795.4h1.00v29.31h-1.00zM676.8 795.4h1.00v29.31h-1.00zM677.8 795.4h1.00v29.31h-1.00zM693.8 795.4h1.00v29.31h-1.00zM713.8 795.4h1.00v29.31h-1.00zM721.8 795.4h1.00v29.31h-1.00zM733.8 795.4h1.00v29.31h-1.00zM734.9 795.4h1.00v29.31h-1.00zM783.9 795.4h1.00v29.31h-1.00zM820.9 795.4h1.00v29.31h-1.00zM838.9 795.4h1.00v29.31h-1.00zM852.9 795.4h1.00v29.31h-1.00zM865.9 795.4h1.00v29.31h-1.00zM889.9 795.4h1.00v29.31h-1.00zM893.9 795.4h1.00v29.31h-1.00zM903.0 795.4h1.00v29.31h-1.00zM911.0 795.4h1.00v29.31h-1.00zM914.0 795.4h1.00v29.31h-1.00zM933.0 795.4h1.00v29.31h-1.00zM935.0 795.4h1.00v29.31h-1.00zM937.0 795.4h1.00v29.31h-1.00zM938.0 795.4h1.00v29.31h-1.00zM940.0 795.4h1.00v29.31h-1.00zM971.0 795.4h1.00v29.31h-1.00zM662.8 824.7h1.00v29.31h-1.00zM663.8 824.7h1.00v29.31h-1.00zM686.8 824.7h1.00v29.31h-1.00zM745.9 824.7h1.00v29.31h-1.00zM747.9 824.7h1.00v29.31h-1.00zM751.9 824.7h1.00v29.31h-1.00zM766.9 824.7h1.00v29.31h-1.00zM772.9 824.7h1.00v29.31h-1.00zM774.9 824.7h1.00v29.31h-1.00zM775.9 824.7h1.00v29.31h-1.00zM777.9 824.7h1.00v29.31h-1.00zM799.9 824.7h1.00v29.31h-1.00zM802.9 824.7h1.00v29.31h-1.00zM808.9 824.7h1.00v29.31h-1.00zM815.9 824.7h1.00v29.31h-1.00zM825.9 824.7h1.00v29.31h-1.00zM841.9 824.7h1.00v29.31h-1.00zM847.9 824.7h1.00v29.31h-1.00zM848.9 824.7h1.00v29.31h-1.00zM853.9 824.7h1.00v29.31h-1.00zM855.9 824.7h1.00v29.31h-1.00zM863.9 824.7h1.00v29.31h-1.00zM864.9 824.7h1.00v29.31h-1.00zM866.9 824.7h1.00v29.31h-1.00zM871.9 824.7h1.00v29.31h-1.00zM908.0 824.7h1.00v29.31h-1.00zM911.0 824.7h1.00v29.31h-1.00zM920.0 824.7h1.00v29.31h-1.00zM932.0 824.7h1.00v29.31h-1.00zM934.0 824.7h1.00v29.31h-1.00zM937.0 824.7h1.00v29.31h-1.00zM954.0 824.7h1.00v29.31h-1.00zM973.0 824.7h1.00v29.31h-1.00zM977.0 824.7h1.00v29.31h-1.00zM653.8 854.0h1.00v29.31h-1.00zM663.8 854.0h1.00v29.31h-1.00zM686.8 854.0h1.00v29.31h-1.00zM694.8 854.0h1.00v29.31h-1.00zM709.8 854.0h1.00v29.31h-1.00zM729.8 854.0h1.00v29.31h-1.00zM736.9 854.0h1.00v29.31h-1.00zM747.9 854.0h1.00v29.31h-1.00zM771.9 854.0h1.00v29.31h-1.00zM780.9 854.0h1.00v29.31h-1.00zM790.9 854.0h1.00v29.31h-1.00zM795.9 854.0h1.00v29.31h-1.00zM801.9 854.0h1.00v29.31h-1.00zM813.9 854.0h1.00v29.31h-1.00zM815.9 854.0h1.00v29.31h-1.00zM821.9 854.0h1.00v29.31h-1.00zM824.9 854.0h1.00v29.31h-1.00zM836.9 854.0h1.00v29.31h-1.00zM838.9 854.0h1.00v29.31h-1.00zM852.9 854.0h1.00v29.31h-1.00zM855.9 854.0h1.00v29.31h-1.00zM857.9 854.0h1.00v29.31h-1.00zM858.9 854.0h1.00v29.31h-1.00zM869.9 854.0h1.00v29.31h-1.00zM877.9 854.0h1.00v29.31h-1.00zM887.9 854.0h1.00v29.31h-1.00zM897.0 854.0h1.00v29.31h-1.00zM911.0 854.0h1.00v29.31h-1.00zM923.0 854.0h1.00v29.31h-1.00zM951.0 854.0h1.00v29.31h-1.00zM956.0 854.0h1.00v29.31h-1.00zM957.0 854.0h1.00v29.31h-1.00zM663.8 883.3h1.00v29.31h-1.00zM697.8 883.3h1.00v29.31h-1.00zM703.8 883.3h1.00v29.31h-1.00zM712.8 883.3h1.00v29.31h-1.00zM726.8 883.3h1.00v29.31h-1.00zM777.9 883.3h1.00v29.31h-1.00zM802.9 883.3h1.00v29.31h-1.00zM805.9 883.3h1.00v29.31h-1.00zM807.9 883.3h1.00v29.31h-1.00zM808.9 883.3h1.00v29.31h-1.00zM814.9 883.3h1.00v29.31h-1.00zM836.9 883.3h1.00v29.31h-1.00zM846.9 883.3h1.00v29.31h-1.00zM851.9 883.3h1.00v29.31h-1.00zM859.9 883.3h1.00v29.31h-1.00zM860.9 883.3h1.00v29.31h-1.00zM864.9 883.3h1.00v29.31h-1.00zM869.9 883.3h1.00v29.31h-1.00zM870.9 883.3h1.00v29.31h-1.00zM888.9 883.3h1.00v29.31h-1.00zM925.0 883.3h1.00v29.31h-1.00zM929.0 883.3h1.00v29.31h-1.00zM938.0 883.3h1.00v29.31h-1.00zM946.0 883.3h1.00v29.31h-1.00zM953.0 883.3h1.00v29.31h-1.00zM955.0 883.3h1.00v29.31h-1.00zM961.0 883.3h1.00v29.31h-1.00zM968.0 883.3h1.00v29.31h-1.00zM974.0 883.3h1.00v29.31h-1.00zM976.0 883.3h1.00v29.31h-1.00z"/>
<path fill="#F5F5FF" d="M653.8 238.5h1.00v29.31h-1.00zM654.8 238.5h1.00v29.31h-1.00zM657.8 238.5h1.00v29.31h-1.00zM658.8 238.5h1.00v29.31h-1.00zM659.8 238.5h1.00v29.31h-1.00zM663.8 238.5h1.00v29.31h-1.00zM665.8 238.5h1.00v29.31h-1.00zM669.8 238.5h1.00v29.31h-1.00zM679.8 238.5h1.00v29.31h-1.00zM680.8 238.5h1.00v29.31h-1.00zM692.8 238.5h1.00v29.31h-1.00zM700.8 238.5h1.00v29.31h-1.00zM710.8 238.5h1.00v29.31h-1.00zM711.8 238.5h1.00v29.31h-1.00zM716.8 238.5h1.00v29.31h-1.00zM718.8 238.5h1.00v29.31h-1.00zM726.8 238.5h1.00v29.31h-1.00zM730.8 238.5h1.00v29.31h-1.00zM734.9 238.5h1.00v29.31h-1.00zM736.9 238.5h1.00v29.31h-1.00zM756.9 238.5h1.00v29.31h-1.00zM757.9 238.5h1.00v29.31h-1.00zM765.9 238.5h1.00v29.31h-1.00zM780.9 238.5h1.00v29.31h-1.00zM791.9 238.5h1.00v29.31h-1.00zM806.9 238.5h1.00v29.31h-1.00zM813.9 238.5h1.00v29.31h-1.00zM825.9 238.5h1.00v29.31h-1.00zM827.9 238.5h1.00v29.31h-1.00zM830.9 238.5h1.00v29.31h-1.00zM836.9 238.5h1.00v29.31h-1.00zM842.9 238.5h1.00v29.31h-1.00zM851.9 238.5h1.00v29.31h-1.00zM855.9 238.5h1.00v29.31h-1.00zM860.9 238.5h1.00v29.31h-1.00zM863.9 238.5h1.00v29.31h-1.00zM888.9 238.5h1.00v29.31h-1.00zM892.9 238.5h1.00v29.31h-1.00zM897.0 238.5h1.00v29.31h-1.00zM906.0 238.5h1.00v29.31h-1.00zM907.0 238.5h1.00v29.31h-1.00zM910.0 238.5h1.00v29.31h-1.00zM911.0 238.5h1.00v29.31h-1.00zM914.0 238.5h1.00v29.31h-1.00zM924.0 238.5h1.00v29.31h-1.00zM925.0 238.5h1.00v29.31h-1.00zM929.0 238.5h1.00v29.31h-1.00zM934.0 238.5h1.00v29.31h-1.00zM944.0 238.5h1.00v29.31h-1.00zM946.0 238.5h1.00v29.31h-1.00zM958.0 238.5h1.00v29.31h-1.00zM968.0 238.5h1.00v29.31h-1.00zM976.0 238.5h1.00v29.31h-1.00zM652.8 267.8h1.00v29.31h-1.00zM658.8 267.8h1.00v29.31h-1.00zM665.8 267.8h1.00v29.31h-1.00zM669.8 267.8h1.00v29.31h-1.00zM670.8 267.8h1.00v29.31h-1.00zM672.8 267.8h1.00v29.31h-1.00zM675.8 267.8h1.00v29.31h-1.00zM683.8 267.8h1.00v29.31h-1.00zM685.8 267.8h1.00v29.31h-1.00zM694.8 267.8h1.00v29.31h-1.00zM700.8 267.8h1.00v29.31h-1.00zM702.8 267.8h1.00v29.31h-1.00zM714.8 267.8h1.00v29.31h-1.00zM720.8 267.8h1.00v29.31h-1.00zM725.8 267.8h1.00v29.31h-1.00zM727.8 267.8h1.00v29.31h-1.00zM728.8 267.8h1.00v29.31h-1.00zM744.9 267.8h1.00v29.31h-1.00zM746.9 267.8h1.00v29.31h-1.00zM756.9 267.8h1.00v29.31h-1.00zM758.9 267.8h1.00v29.31h-1.00zM763.9 267.8h1.00v29.31h-1.00zM764.9 267.8h1.00v29.31h-1.00zM765.9 267.8h1.00v29.31h-1.00zM771.9 267.8h1.00v29.31h-1.00zM772.9 267.8h1.00v29.31h-1.00zM790.9 267.8h1.00v29.31h-1.00zM793.9 267.8h1.00v29.31h-1.00zM797.9 267.8h1.00v29.31h-1.00zM802.9 267.8h1.00v29.31h-1.00zM804.9 267.8h1.00v29.31h-1.00zM819.9 267.8h1.00v29.31h-1.00zM821.9 267.8h1.00v29.31h-1.00zM831.9 267.8h1.00v29.31h-1.00zM833.9 267.8h1.00v29.31h-1.00zM836.9 267.8h1.00v29.31h-1.00zM846.9 267.8h1.00v29.31h-1.00zM849.9 267.8h1.00v29.31h-1.00zM850.9 267.8h1.00v29.31h-1.00zM854.9 267.8h1.00v29.31h-1.00zM855.9 267.8h1.00v29.31h-1.00zM861.9 267.8h1.00v29.31h-1.00zM866.9 267.8h1.00v29.31h-1.00zM890.9 267.8h1.00v29.31h-1.00zM894.9 267.8h1.00v29.31h-1.00zM904.0 267.8h1.00v29.31h-1.00zM905.0 267.8h1.00v29.31h-1.00zM909.0 267.8h1.00v29.31h-1.00zM919.0 267.8h1.00v29.31h-1.00zM921.0 267.8h1.00v29.31h-1.00zM925.0 267.8h1.00v29.31h-1.00zM927.0 267.8h1.00v29.31h-1.00zM932.0 267.8h1.00v29.31h-1.00zM935.0 267.8h1.00v29.31h-1.00zM939.0 267.8h1.00v29.31h-1.00zM945.0 267.8h1.00v29.31h-1.00zM951.0 267.8h1.00v29.31h-1.00zM953.0 267.8h1.00v29.31h-1.00zM957.0 267.8h1.00v29.31h-1.00zM964.0 267.8h1.00v29.31h-1.00zM969.0 267.8h1.00v29.31h-1.00zM976.0 267.8h1.00v29.31h-1.00zM653.8 297.1h1.00v29.31h-1.00zM654.8 297.1h1.00v29.31h-1.00zM655.8 297.1h1.00v29.31h-1.00zM660.8 297.1h1.00v29.31h-1.00zM661.8 297.1h1.00v29.31h-1.00zM667.8 297.1h1.00v29.31h-1.00zM669.8 297.1h1.00v29.31h-1.00zM670.8 297.1h1.00v29.31h-1.00zM672.8 297.1h1.00v29.31h-1.00zM673.8 297.1h1.00v29.31h-1.00zM678.8 297.1h1.00v29.31h-1.00zM688.8 297.1h1.00v29.31h-1.00zM689.8 297.1h1.00v29.31h-1.00zM700.8 297.1h1.00v29.31h-1.00zM704.8 297.1h1.00v29.31h-1.00zM709.8 297.1h1.00v29.31h-1.00zM711.8 297.1h1.00v29.31h-1.00zM715.8 297.1h1.00v29.31h-1.00zM724.8 297.1h1.00v29.31h-1.00zM725.8 297.1h1.00v29.31h-1.00zM742.9 297.1h1.00v29.31h-1.00zM770.9 297.1h1.00v29.31h-1.00zM772.9 297.1h1.00v29.31h-1.00zM774.9 297.1h1.00v29.31h-1.00zM777.9 297.1h1.00v29.31h-1.00zM778.9 297.1h1.00v29.31h-1.00zM792.9 297.1h1.00v29.31h-1.00zM793.9 297.1h1.00v29.31h-1.00zM811.9 297.1h1.00v29.31h-1.00zM831.9 297.1h1.00v29.31h-1.00zM835.9 297.1h1.00v29.31h-1.00zM838.9 297.1h1.00v29.31h-1.00zM851.9 297.1h1.00v29.31h-1.00zM853.9 297.1h1.00v29.31h-1.00zM856.9 297.1h1.00v29.31h-1.00zM857.9 297.1h1.00v29.31h-1.00zM870.9 297.1h1.00v29.31h-1.00zM872.9 297.1h1.00v29.31h-1.00zM874.9 297.1h1.00v29.31h-1.00zM875.9 297.1h1.00v29.31h-1.00zM879.9 297.1h1.00v29.31h-1.00zM881.9 297.1h1.00v29.31h-1.00zM902.0 297.1h1.00v29.31h-1.00zM915.0 297.1h1.00v29.31h-1.00zM940.0 297.1h1.00v29.31h-1.00zM954.0 297.1h1.00v29.31h-1.00zM956.0 297.1h1.00v29.31h-1.00zM966.0 297.1h1.00v29.31h-1.00zM970.0 297.1h1.00v29.31h-1.00zM976.0 297.1h1.00v29.31h-1.00zM977.0 297.1h1.00v29.31h-1.00zM653.8 326.4h1.00v29.31h-1.00zM654.8 326.4h1.00v29.31h-1.00zM655.8 326.4h1.00v29.31h-1.00zM656.8 326.4h1.00v29.31h-1.00zM658.8 326.4h1.00v29.31h-1.00zM661.8 326.4h1.00v29.31h-1.00zM664.8 326.4h1.00v29.31h-1.00zM670.8 326.4h1.00v29.31h-1.00zM671.8 326.4h1.00v29.31h-1.00zM691.8 326.4h1.00v29.31h-1.00zM692.8 326.4h1.00v29.31h-1.00zM694.8 326.4h1.00v29.31h-1.00zM699.8 326.4h1.00v29.31h-1.00zM701.8 326.4h1.00v29.31h-1.00zM705.8 326.4h1.00v29.31h-1.00zM711.8 326.4h1.00v29.31h-1.00zM715.8 326.4h1.00v29.31h-1.00zM718.8 326.4h1.00v29.31h-1.00zM728.8 326.4h1.00v29.31h-1.00zM731.8 326.4h1.00v29.31h-1.00zM734.9 326.4h1.00v29.31h-1.00zM742.9 326.4h1.00v29.31h-1.00zM744.9 326.4h1.00v29.31h-1.00zM746.9 326.4h1.00v29.31h-1.00zM748.9 326.4h1.00v29.31h-1.00zM751.9 326.4h1.00v29.31h-1.00zM781.9 326.4h1.00v29.31h-1.00zM799.9 326.4h1.00v29.31h-1.00zM802.9 326.4h1.00v29.31h-1.00zM808.9 326.4h1.00v29.31h-1.00zM813.9 326.4h1.00v29.31h-1.00zM832.9 326.4h1.00v29.31h-1.00zM834.9 326.4h1.00v29.31h-1.00zM835.9 326.4h1.00v29.31h-1.00zM838.9 326.4h1.00v29.31h-1.00zM841.9 326.4h1.00v29.31h-1.00zM842.9 326.4h1.00v29.31h-1.00zM850.9 326.4h1.00v29.31h-1.00zM851.9 326.4h1.00v29.31h-1.00zM878.9 326.4h1.00v29.31h-1.00zM889.9 326.4h1.00v29.31h-1.00zM890.9 326.4h1.00v29.31h-1.00zM892.9 326.4h1.00v29.31h-1.00zM910.0 326.4h1.00v29.31h-1.00zM911.0 326.4h1.00v29.31h-1.00zM912.0 326.4h1.00v29.31h-1.00zM914.0 326.4h1.00v29.31h-1.00zM926.0 326.4h1.00v29.31h-1.00zM927.0 326.4h1.00v29.31h-1.00zM935.0 326.4h1.00v29.31h-1.00zM937.0 326.4h1.00v29.31h-1.00zM966.0 326.4h1.00v29.31h-1.00zM968.0 326.4h1.00v29.31h-1.00zM977.0 326.4h1.00v29.31h-1.00zM653.8 355.7h1.00v29.31h-1.00zM655.8 355.7h1.00v29.31h-1.00zM660.8 355.7h1.00v29.31h-1.00zM661.8 355.7h1.00v29.31h-1.00zM664.8 355.7h1.00v29.31h-1.00zM680.8 355.7h1.00v29.31h-1.00zM684.8 355.7h1.00v29.31h-1.00zM686.8 355.7h1.00v29.31h-1.00zM688.8 355.7h1.00v29.31h-1.00zM707.8 355.7h1.00v29.31h-1.00zM709.8 355.7h1.00v29.31h-1.00zM715.8 355.7h1.00v29.31h-1.00zM718.8 355.7h1.00v29.31h-1.00zM734.9 355.7h1.00v29.31h-1.00zM738.9 355.7h1.00v29.31h-1.00zM741.9 355.7h1.00v29.31h-1.00zM742.9 355.7h1.00v29.31h-1.00zM757.9 355.7h1.00v29.31h-1.00zM764.9 355.7h1.00v29.31h-1.00zM766.9 355.7h1.00v29.31h-1.00zM775.9 355.7h1.00v29.31h-1.00zM777.9 355.7h1.00v29.31h-1.00zM780.9 355.7h1.00v29.31h-1.00zM786.9 355.7h1.00v29.31h-1.00zM798.9 355.7h1.00v29.31h-1.00zM807.9 355.7h1.00v29.31h-1.00zM808.9 355.7h1.00v29.31h-1.00zM811.9 355.7h1.00v29.31h-1.00zM813.9 355.7h1.00v29.31h-1.00zM820.9 355.7h1.00v29.31h-1.00zM833.9 355.7h1.00v29.31h-1.00zM836.9 355.7h1.00v29.31h-1.00zM841.9 355.7h1.00v29.31h-1.00zM848.9 355.7h1.00v29.31h-1.00zM858.9 355.7h1.00v29.31h-1.00zM865.9 355.7h1.00v29.31h-1.00zM867.9 355.7h1.00v29.31h-1.00zM871.9 355.7h1.00v29.31h-1.00zM886.9 355.7h1.00v29.31h-1.00zM892.9 355.7h1.00v29.31h-1.00zM897.0 355.7h1.00v29.31h-1.00zM902.0 355.7h1.00v29.31h-1.00zM906.0 355.7h1.00v29.31h-1.00zM908.0 355.7h1.00v29.31h-1.00zM914.0 355.7h1.00v29.31h-1.00zM923.0 355.7h1.00v29.31h-1.00zM935.0 355.7h1.00v29.31h-1.00zM941.0 355.7h1.00v29.31h-1.00zM942.0 355.7h1.00v29.31h-1.00zM953.0 355.7h1.00v29.31h-1.00zM954.0 355.7h1.00v29.31h-1.00zM960.0 355.7h1.00v29.31h-1.00zM961.0 355.7h1.00v29.31h-1.00zM967.0 355.7h1.00v29.31h-1.00zM656.8 385.0h1.00v29.31h-1.00zM659.8 385.0h1.00v29.31h-1.00zM663.8 385.0h1.00v29.31h-1.00zM670.8 385.0h1.00v29.31h-1.00zM672.8 385.0h1.00v29.31h-1.00zM675.8 385.0h1.00v29.31h-1.00zM682.8 385.0h1.00v29.31h-1.00zM687.8 385.0h1.00v29.31h-1.00zM688.8 385.0h1.00v29.31h-1.00zM696.8 385.0h1.00v29.31h-1.00zM698.8 385.0h1.00v29.31h-1.00zM701.8 385.0h1.00v29.31h-1.00zM706.8 385.0h1.00v29.31h-1.00zM713.8 385.0h1.00v29.31h-1.00zM716.8 385.0h1.00v29.31h-1.00zM719.8 385.0h1.00v29.31h-1.00zM725.8 385.0h1.00v29.31h-1.00zM727.8 385.0h1.00v29.31h-1.00zM731.8 385.0h1.00v29.31h-1.00zM743.9 385.0h1.00v29.31h-1.00zM757.9 385.0h1.00v29.31h-1.00zM758.9 385.0h1.00v29.31h-1.00zM771.9 385.0h1.00v29.31h-1.00zM775.9 385.0h1.00v29.31h-1.00zM776.9 385.0h1.00v29.31h-1.00zM777.9 385.0h1.00v29.31h-1.00zM786.9 385.0h1.00v29.31h-1.00zM787.9 385.0h1.00v29.31h-1.00zM795.9 385.0h1.00v29.31h-1.00zM797.9 385.0h1.00v29.31h-1.00zM800.9 385.0h1.00v29.31h-1.00zM804.9 385.0h1.00v29.31h-1.00zM806.9 385.0h1.00v29.31h-1.00zM819.9 385.0h1.00v29.31h-1.00zM821.9 385.0h1.00v29.31h-1.00zM824.9 385.0h1.00v29.31h-1.00zM834.9 385.0h1.00v29.31h-1.00zM840.9 385.0h1.00v29.31h-1.00zM841.9 385.0h1.00v29.31h-1.00zM848.9 385.0h1.00v29.31h-1.00zM871.9 385.0h1.00v29.31h-1.00zM877.9 385.0h1.00v29.31h-1.00zM880.9 385.0h1.00v29.31h-1.00zM901.0 385.0h1.00v29.31h-1.00zM906.0 385.0h1.00v29.31h-1.00zM907.0 385.0h1.00v29.31h-1.00zM908.0 385.0h1.00v29.31h-1.00zM911.0 385.0h1.00v29.31h-1.00zM916.0 385.0h1.00v29.31h-1.00zM920.0 385.0h1.00v29.31h-1.00zM931.0 385.0h1.00v29.31h-1.00zM938.0 385.0h1.00v29.31h-1.00zM943.0 385.0h1.00v29.31h-1.00zM951.0 385.0h1.00v29.31h-1.00zM952.0 385.0h1.00v29.31h-1.00zM957.0 385.0h1.00v29.31h-1.00zM972.0 385.0h1.00v29.31h-1.00zM977.0 385.0h1.00v29.31h-1.00zM653.8 414.4h1.00v29.31h-1.00zM654.8 414.4h1.00v29.31h-1.00zM656.8 414.4h1.00v29.31h-1.00zM657.8 414.4h1.00v29.31h-1.00zM659.8 414.4h1.00v29.31h-1.00zM663.8 414.4h1.00v29.31h-1.00zM670.8 414.4h1.00v29.31h-1.00zM677.8 414.4h1.00v29.31h-1.00zM682.8 414.4h1.00v29.31h-1.00zM685.8 414.4h1.00v29.31h-1.00zM686.8 414.4h1.00v29.31h-1.00zM687.8 414.4h1.00v29.31h-1.00zM688.8 414.4h1.00v29.31h-1.00zM702.8 414.4h1.00v29.31h-1.00zM704.8 414.4h1.00v29.31h-1.00zM707.8 414.4h1.00v29.31h-1.00zM710.8 414.4h1.00v29.31h-1.00zM718.8 414.4h1.00v29.31h-1.00zM719.8 414.4h1.00v29.31h-1.00zM723.8 414.4h1.00v29.31h-1.00zM725.8 414.4h1.00v29.31h-1.00zM729.8 414.4h1.00v29.31h-1.00zM732.8 414.4h1.00v29.31h-1.00zM738.9 414.4h1.00v29.31h-1.00zM739.9 414.4h1.00v29.31h-1.00zM744.9 414.4h1.00v29.31h-1.00zM746.9 414.4h1.00v29.31h-1.00zM747.9 414.4h1.00v29.31h-1.00zM752.9 414.4h1.00v29.31h-1.00zM755.9 414.4h1.00v29.31h-1.00zM768.9 414.4h1.00v29.31h-1.00zM777.9 414.4h1.00v29.31h-1.00zM782.9 414.4h1.00v29.31h-1.00zM785.9 414.4h1.00v29.31h-1.00zM791.9 414.4h1.00v29.31h-1.00zM803.9 414.4h1.00v29.31h-1.00zM815.9 414.4h1.00v29.31h-1.00zM820.9 414.4h1.00v29.31h-1.00zM821.9 414.4h1.00v29.31h-1.00zM825.9 414.4h1.00v29.31h-1.00zM835.9 414.4h1.00v29.31h-1.00zM855.9 414.4h1.00v29.31h-1.00zM856.9 414.4h1.00v29.31h-1.00zM857.9 414.4h1.00v29.31h-1.00zM858.9 414.4h1.00v29.31h-1.00zM865.9 414.4h1.00v29.31h-1.00zM866.9 414.4h1.00v29.31h-1.00zM875.9 414.4h1.00v29.31h-1.00zM908.0 414.4h1.00v29.31h-1.00zM917.0 414.4h1.00v29.31h-1.00zM921.0 414.4h1.00v29.31h-1.00zM922.0 414.4h1.00v29.31h-1.00zM927.0 414.4h1.00v29.31h-1.00zM932.0 414.4h1.00v29.31h-1.00zM938.0 414.4h1.00v29.31h-1.00zM943.0 414.4h1.00v29.31h-1.00zM947.0 414.4h1.00v29.31h-1.00zM950.0 414.4h1.00v29.31h-1.00zM954.0 414.4h1.00v29.31h-1.00zM955.0 414.4h1.00v29.31h-1.00zM957.0 414.4h1.00v29.31h-1.00zM967.0 414.4h1.00v29.31h-1.00zM666.8 443.7h1.00v29.31h-1.00zM683.8 443.7h1.00v29.31h-1.00zM685.8 443.7h1.00v29.31h-1.00zM704.8 443.7h1.00v29.31h-1.00zM706.8 443.7h1.00v29.31h-1.00zM721.8 443.7h1.00v29.31h-1.00zM723.8 443.7h1.00v29.31h-1.00zM729.8 443.7h1.00v29.31h-1.00zM750.9 443.7h1.00v29.31h-1.00zM752.9 443.7h1.00v29.31h-1.00zM754.9 443.7h1.00v29.31h-1.00zM760.9 443.7h1.00v29.31h-1.00zM763.9 443.7h1.00v29.31h-1.00zM769.9 443.7h1.00v29.31h-1.00zM777.9 443.7h1.00v29.31h-1.00zM803.9 443.7h1.00v29.31h-1.00zM809.9 443.7h1.00v29.31h-1.00zM810.9 443.7h1.00v29.31h-1.00zM819.9 443.7h1.00v29.31h-1.00zM839.9 443.7h1.00v29.31h-1.00zM840.9 443.7h1.00v29.31h-1.00zM844.9 443.7h1.00v29.31h-1.00zM909.0 443.7h1.00v29.31h-1.00zM914.0 443.7h1.00v29.31h-1.00zM921.0 443.7h1.00v29.31h-1.00zM963.0 443.7h1.00v29.31h-1.00zM970.0 443.7h1.00v29.31h-1.00zM976.0 443.7h1.00v29.31h-1.00zM653.8 473.0h1.00v29.31h-1.00zM659.8 473.0h1.00v29.31h-1.00zM666.8 473.0h1.00v29.31h-1.00zM681.8 473.0h1.00v29.31h-1.00zM695.8 473.0h1.00v29.31h-1.00zM696.8 473.0h1.00v29.31h-1.00zM698.8 473.0h1.00v29.31h-1.00zM716.8 473.0h1.00v29.31h-1.00zM724.8 473.0h1.00v29.31h-1.00zM734.9 473.0h1.00v29.31h-1.00zM752.9 473.0h1.00v29.31h-1.00zM763.9 473.0h1.00v29.31h-1.00zM774.9 473.0h1.00v29.31h-1.00zM779.9 473.0h1.00v29.31h-1.00zM812.9 473.0h1.00v29.31h-1.00zM815.9 473.0h1.00v29.31h-1.00zM818.9 473.0h1.00v29.31h-1.00zM829.9 473.0h1.00v29.31h-1.00zM835.9 473.0h1.00v29.31h-1.00zM851.9 473.0h1.00v29.31h-1.00zM856.9 473.0h1.00v29.31h-1.00zM862.9 473.0h1.00v29.31h-1.00zM887.9 473.0h1.00v29.31h-1.00zM888.9 473.0h1.00v29.31h-1.00zM895.9 473.0h1.00v29.31h-1.00zM934.0 473.0h1.00v29.31h-1.00zM954.0 473.0h1.00v29.31h-1.00zM962.0 473.0h1.00v29.31h-1.00zM976.0 473.0h1.00v29.31h-1.00zM657.8 502.3h1.00v29.31h-1.00zM658.8 502.3h1.00v29.31h-1.00zM669.8 502.3h1.00v29.31h-1.00zM670.8 502.3h1.00v29.31h-1.00zM678.8 502.3h1.00v29.31h-1.00zM695.8 502.3h1.00v29.31h-1.00zM707.8 502.3h1.00v29.31h-1.00zM724.8 502.3h1.00v29.31h-1.00zM747.9 502.3h1.00v29.31h-1.00zM750.9 502.3h1.00v29.31h-1.00zM763.9 502.3h1.00v29.31h-1.00zM764.9 502.3h1.00v29.31h-1.00zM765.9 502.3h1.00v29.31h-1.00zM772.9 502.3h1.00v29.31h-1.00zM776.9 502.3h1.00v29.31h-1.00zM777.9 502.3h1.00v29.31h-1.00zM781.9 502.3h1.00v29.31h-1.00zM785.9 502.3h1.00v29.31h-1.00zM788.9 502.3h1.00v29.31h-1.00zM790.9 502.3h1.00v29.31h-1.00zM791.9 502.3h1.00v29.31h-1.00zM794.9 502.3h1.00v29.31h-1.00zM798.9 502.3h1.00v29.31h-1.00zM804.9 502.3h1.00v29.31h-1.00zM805.9 502.3h1.00v29.31h-1.00zM808.9 502.3h1.00v29.31h-1.00zM822.9 502.3h1.00v29.31h-1.00zM843.9 502.3h1.00v29.31h-1.00zM845.9 502.3h1.00v29.31h-1.00zM847.9 502.3h1.00v29.31h-1.00zM853.9 502.3h1.00v29.31h-1.00zM856.9 502.3h1.00v29.31h-1.00zM862.9 502.3h1.00v29.31h-1.00zM865.9 502.3h1.00v29.31h-1.00zM867.9 502.3h1.00v29.31h-1.00zM878.9 502.3h1.00v29.31h-1.00zM890.9 502.3h1.00v29.31h-1.00zM894.9 502.3h1.00v29.31h-1.00zM895.9 502.3h1.00v29.31h-1.00zM902.0 502.3h1.00v29.31h-1.00zM909.0 502.3h1.00v29.31h-1.00zM915.0 502.3h1.00v29.31h-1.00zM918.0 502.3h1.00v29.31h-1.00zM937.0 502.3h1.00v29.31h-1.00zM939.0 502.3h1.00v29.31h-1.00zM941.0 502.3h1.00v29.31h-1.00zM945.0 502.3h1.00v29.31h-1.00zM951.0 502.3h1.00v29.31h-1.00zM953.0 502.3h1.00v29.31h-1.00zM956.0 502.3h1.00v29.31h-1.00zM957.0 502.3h1.00v29.31h-1.00zM959.0 502.3h1.00v29.31h-1.00zM964.0 502.3h1.00v29.31h-1.00zM974.0 502.3h1.00v29.31h-1.00zM975.0 502.3h1.00v29.31h-1.00zM976.0 502.3h1.00v29.31h-1.00zM662.8 531.6h1.00v29.31h-1.00zM663.8 531.6h1.00v29.31h-1.00zM664.8 531.6h1.00v29.31h-1.00zM669.8 531.6h1.00v29.31h-1.00zM678.8 531.6h1.00v29.31h-1.00zM687.8 531.6h1.00v29.31h-1.00zM691.8 531.6h1.00v29.31h-1.00zM704.8 531.6h1.00v29.31h-1.00zM707.8 531.6h1.00v29.31h-1.00zM708.8 531.6h1.00v29.31h-1.00zM724.8 531.6h1.00v29.31h-1.00zM739.9 531.6h1.00v29.31h-1.00zM742.9 531.6h1.00v29.31h-1.00zM751.9 531.6h1.00v29.31h-1.00zM759.9 531.6h1.00v29.31h-1.00zM760.9 531.6h1.00v29.31h-1.00zM761.9 531.6h1.00v29.31h-1.00zM765.9 531.6h1.00v29.31h-1.00zM769.9 531.6h1.00v29.31h-1.00zM774.9 531.6h1.00v29.31h-1.00zM781.9 531.6h1.00v29.31h-1.00zM783.9 531.6h1.00v29.31h-1.00zM785.9 531.6h1.00v29.31h-1.00zM787.9 531.6h1.00v29.31h-1.00zM793.9 531.6h1.00v29.31h-1.00zM802.9 531.6h1.00v29.31h-1.00zM803.9 531.6h1.00v29.31h-1.00zM805.9 531.6h1.00v29.31h-1.00zM808.9 531.6h1.00v29.31h-1.00zM812.9 531.6h1.00v29.31h-1.00zM813.9 531.6h1.00v29.31h-1.00zM820.9 531.6h1.00v29.31h-1.00zM823.9 531.6h1.00v29.31h-1.00zM826.9 531.6h1.00v29.31h-1.00zM836.9 531.6h1.00v29.31h-1.00zM837.9 531.6h1.00v29.31h-1.00zM838.9 531.6h1.00v29.31h-1.00zM841.9 531.6h1.00v29.31h-1.00zM842.9 531.6h1.00v29.31h-1.00zM846.9 531.6h1.00v29.31h-1.00zM855.9 531.6h1.00v29.31h-1.00zM856.9 531.6h1.00v29.31h-1.00zM857.9 531.6h1.00v29.31h-1.00zM858.9 531.6h1.00v29.31h-1.00zM861.9 531.6h1.00v29.31h-1.00zM867.9 531.6h1.00v29.31h-1.00zM868.9 531.6h1.00v29.31h-1.00zM870.9 531.6h1.00v29.31h-1.00zM871.9 531.6h1.00v29.31h-1.00zM885.9 531.6h1.00v29.31h-1.00zM886.9 531.6h1.00v29.31h-1.00zM888.9 531.6h1.00v29.31h-1.00zM900.0 531.6h1.00v29.31h-1.00zM902.0 531.6h1.00v29.31h-1.00zM905.0 531.6h1.00v29.31h-1.00zM910.0 531.6h1.00v29.31h-1.00zM921.0 531.6h1.00v29.31h-1.00zM927.0 531.6h1.00v29.31h-1.00zM928.0 531.6h1.00v29.31h-1.00zM936.0 531.6h1.00v29.31h-1.00zM950.0 531.6h1.00v29.31h-1.00zM953.0 531.6h1.00v29.31h-1.00zM954.0 531.6h1.00v29.31h-1.00zM955.0 531.6h1.00v29.31h-1.00zM958.0 531.6h1.00v29.31h-1.00zM960.0 531.6h1.00v29.31h-1.00zM971.0 531.6h1.00v29.31h-1.00zM974.0 531.6h1.00v29.31h-1.00zM657.8 560.9h1.00v29.31h-1.00zM672.8 560.9h1.00v29.31h-1.00zM678.8 560.9h1.00v29.31h-1.00zM704.8 560.9h1.00v29.31h-1.00zM708.8 560.9h1.00v29.31h-1.00zM714.8 560.9h1.00v29.31h-1.00zM719.8 560.9h1.00v29.31h-1.00zM739.9 560.9h1.00v29.31h-1.00zM744.9 560.9h1.00v29.31h-1.00zM746.9 560.9h1.00v29.31h-1.00zM747.9 560.9h1.00v29.31h-1.00zM756.9 560.9h1.00v29.31h-1.00zM758.9 560.9h1.00v29.31h-1.00zM762.9 560.9h1.00v29.31h-1.00zM764.9 560.9h1.00v29.31h-1.00zM767.9 560.9h1.00v29.31h-1.00zM768.9 560.9h1.00v29.31h-1.00zM769.9 560.9h1.00v29.31h-1.00zM770.9 560.9h1.00v29.31h-1.00zM773.9 560.9h1.00v29.31h-1.00zM775.9 560.9h1.00v29.31h-1.00zM777.9 560.9h1.00v29.31h-1.00zM779.9 560.9h1.00v29.31h-1.00zM785.9 560.9h1.00v29.31h-1.00zM791.9 560.9h1.00v29.31h-1.00zM798.9 560.9h1.00v29.31h-1.00zM799.9 560.9h1.00v29.31h-1.00zM805.9 560.9h1.00v29.31h-1.00zM806.9 560.9h1.00v29.31h-1.00zM810.9 560.9h1.00v29.31h-1.00zM813.9 560.9h1.00v29.31h-1.00zM814.9 560.9h1.00v29.31h-1.00zM815.9 560.9h1.00v29.31h-1.00zM816.9 560.9h1.00v29.31h-1.00zM821.9 560.9h1.00v29.31h-1.00zM822.9 560.9h1.00v29.31h-1.00zM828.9 560.9h1.00v29.31h-1.00zM846.9 560.9h1.00v29.31h-1.00zM852.9 560.9h1.00v29.31h-1.00zM854.9 560.9h1.00v29.31h-1.00zM858.9 560.9h1.00v29.31h-1.00zM863.9 560.9h1.00v29.31h-1.00zM865.9 560.9h1.00v29.31h-1.00zM871.9 560.9h1.00v29.31h-1.00zM874.9 560.9h1.00v29.31h-1.00zM884.9 560.9h1.00v29.31h-1.00zM902.0 560.9h1.00v29.31h-1.00zM911.0 560.9h1.00v29.31h-1.00zM913.0 560.9h1.00v29.31h-1.00zM919.0 560.9h1.00v29.31h-1.00zM927.0 560.9h1.00v29.31h-1.00zM932.0 560.9h1.00v29.31h-1.00zM938.0 560.9h1.00v29.31h-1.00zM940.0 560.9h1.00v29.31h-1.00zM943.0 560.9h1.00v29.31h-1.00zM950.0 560.9h1.00v29.31h-1.00zM955.0 560.9h1.00v29.31h-1.00zM970.0 560.9h1.00v29.31h-1.00zM972.0 560.9h1.00v29.31h-1.00zM974.0 560.9h1.00v29.31h-1.00zM652.8 590.2h1.00v29.31h-1.00zM665.8 590.2h1.00v29.31h-1.00zM669.8 590.2h1.00v29.31h-1.00zM684.8 590.2h1.00v29.31h-1.00zM689.8 590.2h1.00v29.31h-1.00zM699.8 590.2h1.00v29.31h-1.00zM703.8 590.2h1.00v29.31h-1.00zM705.8 590.2h1.00v29.31h-1.00zM706.8 590.2h1.00v29.31h-1.00zM736.9 590.2h1.00v29.31h-1.00zM739.9 590.2h1.00v29.31h-1.00zM746.9 590.2h1.00v29.31h-1.00zM747.9 590.2h1.00v29.31h-1.00zM752.9 590.2h1.00v29.31h-1.00zM759.9 590.2h1.00v29.31h-1.00zM761.9 590.2h1.00v29.31h-1.00zM774.9 590.2h1.00v29.31h-1.00zM775.9 590.2h1.00v29.31h-1.00zM779.9 590.2h1.00v29.31h-1.00zM781.9 590.2h1.00v29.31h-1.00zM785.9 590.2h1.00v29.31h-1.00zM788.9 590.2h1.00v29.31h-1.00zM791.9 590.2h1.00v29.31h-1.00zM798.9 590.2h1.00v29.31h-1.00zM800.9 590.2h1.00v29.31h-1.00zM803.9 590.2h1.00v29.31h-1.00zM805.9 590.2h1.00v29.31h-1.00zM808.9 590.2h1.00v29.31h-1.00zM810.9 590.2h1.00v29.31h-1.00zM812.9 590.2h1.00v29.31h-1.00zM818.9 590.2h1.00v29.31h-1.00zM824.9 590.2h1.00v29.31h-1.00zM839.9 590.2h1.00v29.31h-1.00zM842.9 590.2h1.00v29.31h-1.00zM847.9 590.2h1.00v29.31h-1.00zM849.9 590.2h1.00v29.31h-1.00zM855.9 590.2h1.00v29.31h-1.00zM858.9 590.2h1.00v29.31h-1.00zM859.9 590.2h1.00v29.31h-1.00zM862.9 590.2h1.00v29.31h-1.00zM866.9 590.2h1.00v29.31h-1.00zM868.9 590.2h1.00v29.31h-1.00zM869.9 590.2h1.00v29.31h-1.00zM874.9 590.2h1.00v29.31h-1.00zM879.9 590.2h1.00v29.31h-1.00zM905.0 590.2h1.00v29.31h-1.00zM906.0 590.2h1.00v29.31h-1.00zM908.0 590.2h1.00v29.31h-1.00zM917.0 590.2h1.00v29.31h-1.00zM921.0 590.2h1.00v29.31h-1.00zM923.0 590.2h1.00v29.31h-1.00zM924.0 590.2h1.00v29.31h-1.00zM925.0 590.2h1.00v29.31h-1.00zM927.0 590.2h1.00v29.31h-1.00zM933.0 590.2h1.00v29.31h-1.00zM937.0 590.2h1.00v29.31h-1.00zM940.0 590.2h1.00v29.31h-1.00zM942.0 590.2h1.00v29.31h-1.00zM944.0 590.2h1.00v29.31h-1.00zM948.0 590.2h1.00v29.31h-1.00zM949.0 590.2h1.00v29.31h-1.00zM950.0 590.2h1.00v29.31h-1.00zM953.0 590.2h1.00v29.31h-1.00zM954.0 590.2h1.00v29.31h-1.00zM966.0 590.2h1.00v29.31h-1.00zM975.0 590.2h1.00v29.31h-1.00zM655.8 619.5h1.00v29.31h-1.00zM662.8 619.5h1.00v29.31h-1.00zM674.8 619.5h1.00v29.31h-1.00zM679.8 619.5h1.00v29.31h-1.00zM687.8 619.5h1.00v29.31h-1.00zM694.8 619.5h1.00v29.31h-1.00zM705.8 619.5h1.00v29.31h-1.00zM730.8 619.5h1.00v29.31h-1.00zM743.9 619.5h1.00v29.31h-1.00zM746.9 619.5h1.00v29.31h-1.00zM752.9 619.5h1.00v29.31h-1.00zM755.9 619.5h1.00v29.31h-1.00zM762.9 619.5h1.00v29.31h-1.00zM773.9 619.5h1.00v29.31h-1.00zM774.9 619.5h1.00v29.31h-1.00zM778.9 619.5h1.00v29.31h-1.00zM783.9 619.5h1.00v29.31h-1.00zM785.9 619.5h1.00v29.31h-1.00zM787.9 619.5h1.00v29.31h-1.00zM791.9 619.5h1.00v29.31h-1.00zM794.9 619.5h1.00v29.31h-1.00zM795.9 619.5h1.00v29.31h-1.00zM800.9 619.5h1.00v29.31h-1.00zM803.9 619.5h1.00v29.31h-1.00zM804.9 619.5h1.00v29.31h-1.00zM809.9 619.5h1.00v29.31h-1.00zM813.9 619.5h1.00v29.31h-1.00zM815.9 619.5h1.00v29.31h-1.00zM818.9 619.5h1.00v29.31h-1.00zM819.9 619.5h1.00v29.31h-1.00zM820.9 619.5h1.00v29.31h-1.00zM822.9 619.5h1.00v29.31h-1.00zM827.9 619.5h1.00v29.31h-1.00zM835.9 619.5h1.00v29.31h-1.00zM837.9 619.5h1.00v29.31h-1.00zM841.9 619.5h1.00v29.31h-1.00zM842.9 619.5h1.00v29.31h-1.00zM845.9 619.5h1.00v29.31h-1.00zM855.9 619.5h1.00v29.31h-1.00zM868.9 619.5h1.00v29.31h-1.00zM871.9 619.5h1.00v29.31h-1.00zM873.9 619.5h1.00v29.31h-1.00zM882.9 619.5h1.00v29.31h-1.00zM884.9 619.5h1.00v29.31h-1.00zM888.9 619.5h1.00v29.31h-1.00zM892.9 619.5h1.00v29.31h-1.00zM903.0 619.5h1.00v29.31h-1.00zM910.0 619.5h1.00v29.31h-1.00zM915.0 619.5h1.00v29.31h-1.00zM919.0 619.5h1.00v29.31h-1.00zM926.0 619.5h1.00v29.31h-1.00zM932.0 619.5h1.00v29.31h-1.00zM933.0 619.5h1.00v29.31h-1.00zM936.0 619.5h1.00v29.31h-1.00zM954.0 619.5h1.00v29.31h-1.00zM957.0 619.5h1.00v29.31h-1.00zM958.0 619.5h1.00v29.31h-1.00zM959.0 619.5h1.00v29.31h-1.00zM969.0 619.5h1.00v29.31h-1.00zM652.8 648.8h1.00v29.31h-1.00zM666.8 648.8h1.00v29.31h-1.00zM669.8 648.8h1.00v29.31h-1.00zM684.8 648.8h1.00v29.31h-1.00zM685.8 648.8h1.00v29.31h-1.00zM689.8 648.8h1.00v29.31h-1.00zM700.8 648.8h1.00v29.31h-1.00zM703.8 648.8h1.00v29.31h-1.00zM719.8 648.8h1.00v29.31h-1.00zM726.8 648.8h1.00v29.31h-1.00zM733.8 648.8h1.00v29.31h-1.00zM736.9 648.8h1.00v29.31h-1.00zM737.9 648.8h1.00v29.31h-1.00zM743.9 648.8h1.00v29.31h-1.00zM748.9 648.8h1.00v29.31h-1.00zM750.9 648.8h1.00v29.31h-1.00zM753.9 648.8h1.00v29.31h-1.00zM756.9 648.8h1.00v29.31h-1.00zM758.9 648.8h1.00v29.31h-1.00zM768.9 648.8h1.00v29.31h-1.00zM781.9 648.8h1.00v29.31h-1.00zM787.9 648.8h1.00v29.31h-1.00zM813.9 648.8h1.00v29.31h-1.00zM816.9 648.8h1.00v29.31h-1.00zM823.9 648.8h1.00v29.31h-1.00zM825.9 648.8h1.00v29.31h-1.00zM828.9 648.8h1.00v29.31h-1.00zM830.9 648.8h1.00v29.31h-1.00zM834.9 648.8h1.00v29.31h-1.00zM838.9 648.8h1.00v29.31h-1.00zM840.9 648.8h1.00v29.31h-1.00zM843.9 648.8h1.00v29.31h-1.00zM850.9 648.8h1.00v29.31h-1.00zM852.9 648.8h1.00v29.31h-1.00zM855.9 648.8h1.00v29.31h-1.00zM864.9 648.8h1.00v29.31h-1.00zM866.9 648.8h1.00v29.31h-1.00zM869.9 648.8h1.00v29.31h-1.00zM874.9 648.8h1.00v29.31h-1.00zM881.9 648.8h1.00v29.31h-1.00zM882.9 648.8h1.00v29.31h-1.00zM889.9 648.8h1.00v29.31h-1.00zM891.9 648.8h1.00v29.31h-1.00zM892.9 648.8h1.00v29.31h-1.00zM900.0 648.8h1.00v29.31h-1.00zM902.0 648.8h1.00v29.31h-1.00zM908.0 648.8h1.00v29.31h-1.00zM909.0 648.8h1.00v29.31h-1.00zM915.0 648.8h1.00v29.31h-1.00zM924.0 648.8h1.00v29.31h-1.00zM926.0 648.8h1.00v29.31h-1.00zM928.0 648.8h1.00v29.31h-1.00zM939.0 648.8h1.00v29.31h-1.00zM940.0 648.8h1.00v29.31h-1.00zM942.0 648.8h1.00v29.31h-1.00zM950.0 648.8h1.00v29.31h-1.00zM959.0 648.8h1.00v29.31h-1.00zM969.0 648.8h1.00v29.31h-1.00zM970.0 648.8h1.00v29.31h-1.00zM975.0 648.8h1.00v29.31h-1.00zM657.8 678.1h1.00v29.31h-1.00zM660.8 678.1h1.00v29.31h-1.00zM661.8 678.1h1.00v29.31h-1.00zM662.8 678.1h1.00v29.31h-1.00zM666.8 678.1h1.00v29.31h-1.00zM667.8 678.1h1.00v29.31h-1.00zM676.8 678.1h1.00v29.31h-1.00zM687.8 678.1h1.00v29.31h-1.00zM689.8 678.1h1.00v29.31h-1.00zM696.8 678.1h1.00v29.31h-1.00zM700.8 678.1h1.00v29.31h-1.00zM702.8 678.1h1.00v29.31h-1.00zM712.8 678.1h1.00v29.31h-1.00zM719.8 678.1h1.00v29.31h-1.00zM721.8 678.1h1.00v29.31h-1.00zM722.8 678.1h1.00v29.31h-1.00zM723.8 678.1h1.00v29.31h-1.00zM729.8 678.1h1.00v29.31h-1.00zM735.9 678.1h1.00v29.31h-1.00zM737.9 678.1h1.00v29.31h-1.00zM740.9 678.1h1.00v29.31h-1.00zM763.9 678.1h1.00v29.31h-1.00zM765.9 678.1h1.00v29.31h-1.00zM768.9 678.1h1.00v29.31h-1.00zM773.9 678.1h1.00v29.31h-1.00zM777.9 678.1h1.00v29.31h-1.00zM783.9 678.1h1.00v29.31h-1.00zM784.9 678.1h1.00v29.31h-1.00zM785.9 678.1h1.00v29.31h-1.00zM792.9 678.1h1.00v29.31h-1.00zM793.9 678.1h1.00v29.31h-1.00zM798.9 678.1h1.00v29.31h-1.00zM807.9 678.1h1.00v29.31h-1.00zM809.9 678.1h1.00v29.31h-1.00zM820.9 678.1h1.00v29.31h-1.00zM825.9 678.1h1.00v29.31h-1.00zM828.9 678.1h1.00v29.31h-1.00zM830.9 678.1h1.00v29.31h-1.00zM833.9 678.1h1.00v29.31h-1.00zM841.9 678.1h1.00v29.31h-1.00zM846.9 678.1h1.00v29.31h-1.00zM852.9 678.1h1.00v29.31h-1.00zM857.9 678.1h1.00v29.31h-1.00zM864.9 678.1h1.00v29.31h-1.00zM869.9 678.1h1.00v29.31h-1.00zM889.9 678.1h1.00v29.31h-1.00zM891.9 678.1h1.00v29.31h-1.00zM901.0 678.1h1.00v29.31h-1.00zM907.0 678.1h1.00v29.31h-1.00zM915.0 678.1h1.00v29.31h-1.00zM937.0 678.1h1.00v29.31h-1.00zM955.0 678.1h1.00v29.31h-1.00zM962.0 678.1h1.00v29.31h-1.00zM664.8 707.5h1.00v29.31h-1.00zM679.8 707.5h1.00v29.31h-1.00zM683.8 707.5h1.00v29.31h-1.00zM686.8 707.5h1.00v29.31h-1.00zM689.8 707.5h1.00v29.31h-1.00zM690.8 707.5h1.00v29.31h-1.00zM695.8 707.5h1.00v29.31h-1.00zM702.8 707.5h1.00v29.31h-1.00zM715.8 707.5h1.00v29.31h-1.00zM716.8 707.5h1.00v29.31h-1.00zM717.8 707.5h1.00v29.31h-1.00zM720.8 707.5h1.00v29.31h-1.00zM724.8 707.5h1.00v29.31h-1.00zM726.8 707.5h1.00v29.31h-1.00zM728.8 707.5h1.00v29.31h-1.00zM731.8 707.5h1.00v29.31h-1.00zM740.9 707.5h1.00v29.31h-1.00zM744.9 707.5h1.00v29.31h-1.00zM751.9 707.5h1.00v29.31h-1.00zM755.9 707.5h1.00v29.31h-1.00zM756.9 707.5h1.00v29.31h-1.00zM763.9 707.5h1.00v29.31h-1.00zM764.9 707.5h1.00v29.31h-1.00zM768.9 707.5h1.00v29.31h-1.00zM773.9 707.5h1.00v29.31h-1.00zM780.9 707.5h1.00v29.31h-1.00zM791.9 707.5h1.00v29.31h-1.00zM795.9 707.5h1.00v29.31h-1.00zM796.9 707.5h1.00v29.31h-1.00zM810.9 707.5h1.00v29.31h-1.00zM812.9 707.5h1.00v29.31h-1.00zM816.9 707.5h1.00v29.31h-1.00zM837.9 707.5h1.00v29.31h-1.00zM840.9 707.5h1.00v29.31h-1.00zM847.9 707.5h1.00v29.31h-1.00zM855.9 707.5h1.00v29.31h-1.00zM858.9 707.5h1.00v29.31h-1.00zM860.9 707.5h1.00v29.31h-1.00zM862.9 707.5h1.00v29.31h-1.00zM863.9 707.5h1.00v29.31h-1.00zM864.9 707.5h1.00v29.31h-1.00zM870.9 707.5h1.00v29.31h-1.00zM872.9 707.5h1.00v29.31h-1.00zM874.9 707.5h1.00v29.31h-1.00zM876.9 707.5h1.00v29.31h-1.00zM881.9 707.5h1.00v29.31h-1.00zM882.9 707.5h1.00v29.31h-1.00zM886.9 707.5h1.00v29.31h-1.00zM893.9 707.5h1.00v29.31h-1.00zM899.0 707.5h1.00v29.31h-1.00zM903.0 707.5h1.00v29.31h-1.00zM905.0 707.5h1.00v29.31h-1.00zM908.0 707.5h1.00v29.31h-1.00zM912.0 707.5h1.00v29.31h-1.00zM927.0 707.5h1.00v29.31h-1.00zM944.0 707.5h1.00v29.31h-1.00zM945.0 707.5h1.00v29.31h-1.00zM954.0 707.5h1.00v29.31h-1.00zM956.0 707.5h1.00v29.31h-1.00zM958.0 707.5h1.00v29.31h-1.00zM959.0 707.5h1.00v29.31h-1.00zM965.0 707.5h1.00v29.31h-1.00zM655.8 736.8h1.00v29.31h-1.00zM663.8 736.8h1.00v29.31h-1.00zM666.8 736.8h1.00v29.31h-1.00zM668.8 736.8h1.00v29.31h-1.00zM669.8 736.8h1.00v29.31h-1.00zM671.8 736.8h1.00v29.31h-1.00zM680.8 736.8h1.00v29.31h-1.00zM683.8 736.8h1.00v29.31h-1.00zM684.8 736.8h1.00v29.31h-1.00zM689.8 736.8h1.00v29.31h-1.00zM691.8 736.8h1.00v29.31h-1.00zM695.8 736.8h1.00v29.31h-1.00zM699.8 736.8h1.00v29.31h-1.00zM706.8 736.8h1.00v29.31h-1.00zM707.8 736.8h1.00v29.31h-1.00zM708.8 736.8h1.00v29.31h-1.00zM715.8 736.8h1.00v29.31h-1.00zM717.8 736.8h1.00v29.31h-1.00zM722.8 736.8h1.00v29.31h-1.00zM727.8 736.8h1.00v29.31h-1.00zM738.9 736.8h1.00v29.31h-1.00zM740.9 736.8h1.00v29.31h-1.00zM748.9 736.8h1.00v29.31h-1.00zM751.9 736.8h1.00v29.31h-1.00zM759.9 736.8h1.00v29.31h-1.00zM765.9 736.8h1.00v29.31h-1.00zM776.9 736.8h1.00v29.31h-1.00zM778.9 736.8h1.00v29.31h-1.00zM781.9 736.8h1.00v29.31h-1.00zM786.9 736.8h1.00v29.31h-1.00zM788.9 736.8h1.00v29.31h-1.00zM791.9 736.8h1.00v29.31h-1.00zM799.9 736.8h1.00v29.31h-1.00zM812.9 736.8h1.00v29.31h-1.00zM823.9 736.8h1.00v29.31h-1.00zM825.9 736.8h1.00v29.31h-1.00zM834.9 736.8h1.00v29.31h-1.00zM835.9 736.8h1.00v29.31h-1.00zM841.9 736.8h1.00v29.31h-1.00zM855.9 736.8h1.00v29.31h-1.00zM857.9 736.8h1.00v29.31h-1.00zM864.9 736.8h1.00v29.31h-1.00zM874.9 736.8h1.00v29.31h-1.00zM888.9 736.8h1.00v29.31h-1.00zM893.9 736.8h1.00v29.31h-1.00zM903.0 736.8h1.00v29.31h-1.00zM904.0 736.8h1.00v29.31h-1.00zM911.0 736.8h1.00v29.31h-1.00zM912.0 736.8h1.00v29.31h-1.00zM913.0 736.8h1.00v29.31h-1.00zM919.0 736.8h1.00v29.31h-1.00zM922.0 736.8h1.00v29.31h-1.00zM927.0 736.8h1.00v29.31h-1.00zM928.0 736.8h1.00v29.31h-1.00zM931.0 736.8h1.00v29.31h-1.00zM936.0 736.8h1.00v29.31h-1.00zM937.0 736.8h1.00v29.31h-1.00zM940.0 736.8h1.00v29.31h-1.00zM953.0 736.8h1.00v29.31h-1.00zM955.0 736.8h1.00v29.31h-1.00zM960.0 736.8h1.00v29.31h-1.00zM963.0 736.8h1.00v29.31h-1.00zM966.0 736.8h1.00v29.31h-1.00zM970.0 736.8h1.00v29.31h-1.00zM973.0 736.8h1.00v29.31h-1.00zM653.8 766.1h1.00v29.31h-1.00zM658.8 766.1h1.00v29.31h-1.00zM663.8 766.1h1.00v29.31h-1.00zM667.8 766.1h1.00v29.31h-1.00zM668.8 766.1h1.00v29.31h-1.00zM679.8 766.1h1.00v29.31h-1.00zM680.8 766.1h1.00v29.31h-1.00zM683.8 766.1h1.00v29.31h-1.00zM689.8 766.1h1.00v29.31h-1.00zM694.8 766.1h1.00v29.31h-1.00zM698.8 766.1h1.00v29.31h-1.00zM703.8 766.1h1.00v29.31h-1.00zM705.8 766.1h1.00v29.31h-1.00zM708.8 766.1h1.00v29.31h-1.00zM709.8 766.1h1.00v29.31h-1.00zM711.8 766.1h1.00v29.31h-1.00zM713.8 766.1h1.00v29.31h-1.00zM715.8 766.1h1.00v29.31h-1.00zM718.8 766.1h1.00v29.31h-1.00zM720.8 766.1h1.00v29.31h-1.00zM722.8 766.1h1.00v29.31h-1.00zM723.8 766.1h1.00v29.31h-1.00zM727.8 766.1h1.00v29.31h-1.00zM729.8 766.1h1.00v29.31h-1.00zM732.8 766.1h1.00v29.31h-1.00zM733.8 766.1h1.00v29.31h-1.00zM734.9 766.1h1.00v29.31h-1.00zM738.9 766.1h1.00v29.31h-1.00zM751.9 766.1h1.00v29.31h-1.00zM763.9 766.1h1.00v29.31h-1.00zM769.9 766.1h1.00v29.31h-1.00zM777.9 766.1h1.00v29.31h-1.00zM783.9 766.1h1.00v29.31h-1.00zM786.9 766.1h1.00v29.31h-1.00zM797.9 766.1h1.00v29.31h-1.00zM799.9 766.1h1.00v29.31h-1.00zM801.9 766.1h1.00v29.31h-1.00zM807.9 766.1h1.00v29.31h-1.00zM821.9 766.1h1.00v29.31h-1.00zM840.9 766.1h1.00v29.31h-1.00zM847.9 766.1h1.00v29.31h-1.00zM851.9 766.1h1.00v29.31h-1.00zM855.9 766.1h1.00v29.31h-1.00zM864.9 766.1h1.00v29.31h-1.00zM868.9 766.1h1.00v29.31h-1.00zM870.9 766.1h1.00v29.31h-1.00zM872.9 766.1h1.00v29.31h-1.00zM878.9 766.1h1.00v29.31h-1.00zM883.9 766.1h1.00v29.31h-1.00zM884.9 766.1h1.00v29.31h-1.00zM885.9 766.1h1.00v29.31h-1.00zM893.9 766.1h1.00v29.31h-1.00zM903.0 766.1h1.00v29.31h-1.00zM905.0 766.1h1.00v29.31h-1.00zM909.0 766.1h1.00v29.31h-1.00zM920.0 766.1h1.00v29.31h-1.00zM937.0 766.1h1.00v29.31h-1.00zM950.0 766.1h1.00v29.31h-1.00zM959.0 766.1h1.00v29.31h-1.00zM960.0 766.1h1.00v29.31h-1.00zM969.0 766.1h1.00v29.31h-1.00zM970.0 766.1h1.00v29.31h-1.00zM974.0 766.1h1.00v29.31h-1.00zM659.8 795.4h1.00v29.31h-1.00zM663.8 795.4h1.00v29.31h-1.00zM667.8 795.4h1.00v29.31h-1.00zM671.8 795.4h1.00v29.31h-1.00zM674.8 795.4h1.00v29.31h-1.00zM678.8 795.4h1.00v29.31h-1.00zM683.8 795.4h1.00v29.31h-1.00zM684.8 795.4h1.00v29.31h-1.00zM685.8 795.4h1.00v29.31h-1.00zM690.8 795.4h1.00v29.31h-1.00zM694.8 795.4h1.00v29.31h-1.00zM696.8 795.4h1.00v29.31h-1.00zM698.8 795.4h1.00v29.31h-1.00zM700.8 795.4h1.00v29.31h-1.00zM708.8 795.4h1.00v29.31h-1.00zM711.8 795.4h1.00v29.31h-1.00zM715.8 795.4h1.00v29.31h-1.00zM720.8 795.4h1.00v29.31h-1.00zM724.8 795.4h1.00v29.31h-1.00zM725.8 795.4h1.00v29.31h-1.00zM737.9 795.4h1.00v29.31h-1.00zM738.9 795.4h1.00v29.31h-1.00zM743.9 795.4h1.00v29.31h-1.00zM745.9 795.4h1.00v29.31h-1.00zM751.9 795.4h1.00v29.31h-1.00zM752.9 795.4h1.00v29.31h-1.00zM767.9 795.4h1.00v29.31h-1.00zM786.9 795.4h1.00v29.31h-1.00zM789.9 795.4h1.00v29.31h-1.00zM791.9 795.4h1.00v29.31h-1.00zM799.9 795.4h1.00v29.31h-1.00zM801.9 795.4h1.00v29.31h-1.00zM805.9 795.4h1.00v29.31h-1.00zM811.9 795.4h1.00v29.31h-1.00zM822.9 795.4h1.00v29.31h-1.00zM823.9 795.4h1.00v29.31h-1.00zM830.9 795.4h1.00v29.31h-1.00zM832.9 795.4h1.00v29.31h-1.00zM834.9 795.4h1.00v29.31h-1.00zM836.9 795.4h1.00v29.31h-1.00zM844.9 795.4h1.00v29.31h-1.00zM851.9 795.4h1.00v29.31h-1.00zM854.9 795.4h1.00v29.31h-1.00zM861.9 795.4h1.00v29.31h-1.00zM863.9 795.4h1.00v29.31h-1.00zM864.9 795.4h1.00v29.31h-1.00zM867.9 795.4h1.00v29.31h-1.00zM870.9 795.4h1.00v29.31h-1.00zM871.9 795.4h1.00v29.31h-1.00zM884.9 795.4h1.00v29.31h-1.00zM887.9 795.4h1.00v29.31h-1.00zM897.0 795.4h1.00v29.31h-1.00zM899.0 795.4h1.00v29.31h-1.00zM901.0 795.4h1.00v29.31h-1.00zM919.0 795.4h1.00v29.31h-1.00zM921.0 795.4h1.00v29.31h-1.00zM934.0 795.4h1.00v29.31h-1.00zM951.0 795.4h1.00v29.31h-1.00zM956.0 795.4h1.00v29.31h-1.00zM964.0 795.4h1.00v29.31h-1.00zM654.8 824.7h1.00v29.31h-1.00zM668.8 824.7h1.00v29.31h-1.00zM670.8 824.7h1.00v29.31h-1.00zM674.8 824.7h1.00v29.31h-1.00zM678.8 824.7h1.00v29.31h-1.00zM684.8 824.7h1.00v29.31h-1.00zM703.8 824.7h1.00v29.31h-1.00zM712.8 824.7h1.00v29.31h-1.00zM736.9 824.7h1.00v29.31h-1.00zM738.9 824.7h1.00v29.31h-1.00zM744.9 824.7h1.00v29.31h-1.00zM752.9 824.7h1.00v29.31h-1.00zM754.9 824.7h1.00v29.31h-1.00zM755.9 824.7h1.00v29.31h-1.00zM761.9 824.7h1.00v29.31h-1.00zM767.9 824.7h1.00v29.31h-1.00zM768.9 824.7h1.00v29.31h-1.00zM770.9 824.7h1.00v29.31h-1.00zM778.9 824.7h1.00v29.31h-1.00zM780.9 824.7h1.00v29.31h-1.00zM782.9 824.7h1.00v29.31h-1.00zM785.9 824.7h1.00v29.31h-1.00zM786.9 824.7h1.00v29.31h-1.00zM790.9 824.7h1.00v29.31h-1.00zM791.9 824.7h1.00v29.31h-1.00zM792.9 824.7h1.00v29.31h-1.00zM793.9 824.7h1.00v29.31h-1.00zM800.9 824.7h1.00v29.31h-1.00zM804.9 824.7h1.00v29.31h-1.00zM806.9 824.7h1.00v29.31h-1.00zM807.9 824.7h1.00v29.31h-1.00zM814.9 824.7h1.00v29.31h-1.00zM822.9 824.7h1.00v29.31h-1.00zM823.9 824.7h1.00v29.31h-1.00zM826.9 824.7h1.00v29.31h-1.00zM830.9 824.7h1.00v29.31h-1.00zM831.9 824.7h1.00v29.31h-1.00zM833.9 824.7h1.00v29.31h-1.00zM834.9 824.7h1.00v29.31h-1.00zM838.9 824.7h1.00v29.31h-1.00zM843.9 824.7h1.00v29.31h-1.00zM846.9 824.7h1.00v29.31h-1.00zM851.9 824.7h1.00v29.31h-1.00zM852.9 824.7h1.00v29.31h-1.00zM857.9 824.7h1.00v29.31h-1.00zM869.9 824.7h1.00v29.31h-1.00zM870.9 824.7h1.00v29.31h-1.00zM882.9 824.7h1.00v29.31h-1.00zM897.0 824.7h1.00v29.31h-1.00zM900.0 824.7h1.00v29.31h-1.00zM907.0 824.7h1.00v29.31h-1.00zM915.0 824.7h1.00v29.31h-1.00zM929.0 824.7h1.00v29.31h-1.00zM942.0 824.7h1.00v29.31h-1.00zM943.0 824.7h1.00v29.31h-1.00zM944.0 824.7h1.00v29.31h-1.00zM952.0 824.7h1.00v29.31h-1.00zM955.0 824.7h1.00v29.31h-1.00zM960.0 824.7h1.00v29.31h-1.00zM969.0 824.7h1.00v29.31h-1.00zM674.8 854.0h1.00v29.31h-1.00zM712.8 854.0h1.00v29.31h-1.00zM728.8 854.0h1.00v29.31h-1.00zM730.8 854.0h1.00v29.31h-1.00zM738.9 854.0h1.00v29.31h-1.00zM751.9 854.0h1.00v29.31h-1.00zM762.9 854.0h1.00v29.31h-1.00zM766.9 854.0h1.00v29.31h-1.00zM768.9 854.0h1.00v29.31h-1.00zM769.9 854.0h1.00v29.31h-1.00zM770.9 854.0h1.00v29.31h-1.00zM784.9 854.0h1.00v29.31h-1.00zM791.9 854.0h1.00v29.31h-1.00zM799.9 854.0h1.00v29.31h-1.00zM826.9 854.0h1.00v29.31h-1.00zM831.9 854.0h1.00v29.31h-1.00zM834.9 854.0h1.00v29.31h-1.00zM839.9 854.0h1.00v29.31h-1.00zM841.9 854.0h1.00v29.31h-1.00zM847.9 854.0h1.00v29.31h-1.00zM864.9 854.0h1.00v29.31h-1.00zM867.9 854.0h1.00v29.31h-1.00zM878.9 854.0h1.00v29.31h-1.00zM880.9 854.0h1.00v29.31h-1.00zM881.9 854.0h1.00v29.31h-1.00zM882.9 854.0h1.00v29.31h-1.00zM883.9 854.0h1.00v29.31h-1.00zM889.9 854.0h1.00v29.31h-1.00zM894.9 854.0h1.00v29.31h-1.00zM900.0 854.0h1.00v29.31h-1.00zM902.0 854.0h1.00v29.31h-1.00zM909.0 854.0h1.00v29.31h-1.00zM910.0 854.0h1.00v29.31h-1.00zM914.0 854.0h1.00v29.31h-1.00zM921.0 854.0h1.00v29.31h-1.00zM928.0 854.0h1.00v29.31h-1.00zM942.0 854.0h1.00v29.31h-1.00zM945.0 854.0h1.00v29.31h-1.00zM952.0 854.0h1.00v29.31h-1.00zM954.0 854.0h1.00v29.31h-1.00zM958.0 854.0h1.00v29.31h-1.00zM959.0 854.0h1.00v29.31h-1.00zM960.0 854.0h1.00v29.31h-1.00zM961.0 854.0h1.00v29.31h-1.00zM967.0 854.0h1.00v29.31h-1.00zM969.0 854.0h1.00v29.31h-1.00zM664.8 883.3h1.00v29.31h-1.00zM668.8 883.3h1.00v29.31h-1.00zM672.8 883.3h1.00v29.31h-1.00zM681.8 883.3h1.00v29.31h-1.00zM699.8 883.3h1.00v29.31h-1.00zM700.8 883.3h1.00v29.31h-1.00zM714.8 883.3h1.00v29.31h-1.00zM715.8 883.3h1.00v29.31h-1.00zM722.8 883.3h1.00v29.31h-1.00zM723.8 883.3h1.00v29.31h-1.00zM734.9 883.3h1.00v29.31h-1.00zM737.9 883.3h1.00v29.31h-1.00zM738.9 883.3h1.00v29.31h-1.00zM740.9 883.3h1.00v29.31h-1.00zM741.9 883.3h1.00v29.31h-1.00zM743.9 883.3h1.00v29.31h-1.00zM744.9 883.3h1.00v29.31h-1.00zM746.9 883.3h1.00v29.31h-1.00zM751.9 883.3h1.00v29.31h-1.00zM753.9 883.3h1.00v29.31h-1.00zM755.9 883.3h1.00v29.31h-1.00zM756.9 883.3h1.00v29.31h-1.00zM763.9 883.3h1.00v29.31h-1.00zM767.9 883.3h1.00v29.31h-1.00zM769.9 883.3h1.00v29.31h-1.00zM771.9 883.3h1.00v29.31h-1.00zM778.9 883.3h1.00v29.31h-1.00zM779.9 883.3h1.00v29.31h-1.00zM781.9 883.3h1.00v29.31h-1.00zM783.9 883.3h1.00v29.31h-1.00zM785.9 883.3h1.00v29.31h-1.00zM800.9 883.3h1.00v29.31h-1.00zM815.9 883.3h1.00v29.31h-1.00zM818.9 883.3h1.00v29.31h-1.00zM819.9 883.3h1.00v29.31h-1.00zM821.9 883.3h1.00v29.31h-1.00zM827.9 883.3h1.00v29.31h-1.00zM833.9 883.3h1.00v29.31h-1.00zM834.9 883.3h1.00v29.31h-1.00zM845.9 883.3h1.00v29.31h-1.00zM853.9 883.3h1.00v29.31h-1.00zM855.9 883.3h1.00v29.31h-1.00zM856.9 883.3h1.00v29.31h-1.00zM857.9 883.3h1.00v29.31h-1.00zM865.9 883.3h1.00v29.31h-1.00zM866.9 883.3h1.00v29.31h-1.00zM868.9 883.3h1.00v29.31h-1.00zM871.9 883.3h1.00v29.31h-1.00zM876.9 883.3h1.00v29.31h-1.00zM879.9 883.3h1.00v29.31h-1.00zM880.9 883.3h1.00v29.31h-1.00zM881.9 883.3h1.00v29.31h-1.00zM889.9 883.3h1.00v29.31h-1.00zM891.9 883.3h1.00v29.31h-1.00zM894.9 883.3h1.00v29.31h-1.00zM899.0 883.3h1.00v29.31h-1.00zM900.0 883.3h1.00v29.31h-1.00zM904.0 883.3h1.00v29.31h-1.00zM907.0 883.3h1.00v29.31h-1.00zM909.0 883.3h1.00v29.31h-1.00zM910.0 883.3h1.00v29.31h-1.00zM918.0 883.3h1.00v29.31h-1.00zM921.0 883.3h1.00v29.31h-1.00zM926.0 883.3h1.00v29.31h-1.00zM927.0 883.3h1.00v29.31h-1.00zM928.0 883.3h1.00v29.31h-1.00zM932.0 883.3h1.00v29.31h-1.00zM935.0 883.3h1.00v29.31h-1.00zM936.0 883.3h1.00v29.31h-1.00zM943.0 883.3h1.00v29.31h-1.00zM947.0 883.3h1.00v29.31h-1.00zM957.0 883.3h1.00v29.31h-1.00zM965.0 883.3h1.00v29.31h-1.00z"/>
<path fill="#FFF5F5" d="M655.8 238.5h1.00v29.31h-1.00zM661.8 238.5h1.00v29.31h-1.00zM666.8 238.5h1.00v29.31h-1.00zM672.8 238.5h1.00v29.31h-1.00zM676.8 238.5h1.00v29.31h-1.00zM694.8 238.5h1.00v29.31h-1.00zM697.8 238.5h1.00v29.31h-1.00zM707.8 238.5h1.00v29.31h-1.00zM732.8 238.5h1.00v29.31h-1.00zM743.9 238.5h1.00v29.31h-1.00zM758.9 238.5h1.00v29.31h-1.00zM767.9 238.5h1.00v29.31h-1.00zM770.9 238.5h1.00v29.31h-1.00zM771.9 238.5h1.00v29.31h-1.00zM773.9 238.5h1.00v29.31h-1.00zM777.9 238.5h1.00v29.31h-1.00zM778.9 238.5h1.00v29.31h-1.00zM783.9 238.5h1.00v29.31h-1.00zM784.9 238.5h1.00v29.31h-1.00zM794.9 238.5h1.00v29.31h-1.00zM799.9 238.5h1.00v29.31h-1.00zM800.9 238.5h1.00v29.31h-1.00zM801.9 238.5h1.00v29.31h-1.00zM805.9 238.5h1.00v29.31h-1.00zM807.9 238.5h1.00v29.31h-1.00zM811.9 238.5h1.00v29.31h-1.00zM815.9 238.5h1.00v29.31h-1.00zM820.9 238.5h1.00v29.31h-1.00zM821.9 238.5h1.00v29.31h-1.00zM844.9 238.5h1.00v29.31h-1.00zM848.9 238.5h1.00v29.31h-1.00zM870.9 238.5h1.00v29.31h-1.00zM878.9 238.5h1.00v29.31h-1.00zM886.9 238.5h1.00v29.31h-1.00zM890.9 238.5h1.00v29.31h-1.00zM898.0 238.5h1.00v29.31h-1.00zM900.0 238.5h1.00v29.31h-1.00zM901.0 238.5h1.00v29.31h-1.00zM904.0 238.5h1.00v29.31h-1.00zM908.0 238.5h1.00v29.31h-1.00zM915.0 238.5h1.00v29.31h-1.00zM919.0 238.5h1.00v29.31h-1.00zM927.0 238.5h1.00v29.31h-1.00zM928.0 238.5h1.00v29.31h-1.00zM930.0 238.5h1.00v29.31h-1.00zM942.0 238.5h1.00v29.31h-1.00zM956.0 238.5h1.00v29.31h-1.00zM970.0 238.5h1.00v29.31h-1.00zM974.0 238.5h1.00v29.31h-1.00zM653.8 267.8h1.00v29.31h-1.00zM678.8 267.8h1.00v29.31h-1.00zM680.8 267.8h1.00v29.31h-1.00zM684.8 267.8h1.00v29.31h-1.00zM693.8 267.8h1.00v29.31h-1.00zM696.8 267.8h1.00v29.31h-1.00zM718.8 267.8h1.00v29.31h-1.00zM731.8 267.8h1.00v29.31h-1.00zM737.9 267.8h1.00v29.31h-1.00zM749.9 267.8h1.00v29.31h-1.00zM766.9 267.8h1.00v29.31h-1.00zM778.9 267.8h1.00v29.31h-1.00zM779.9 267.8h1.00v29.31h-1.00zM782.9 267.8h1.00v29.31h-1.00zM785.9 267.8h1.00v29.31h-1.00zM800.9 267.8h1.00v29.31h-1.00zM803.9 267.8h1.00v29.31h-1.00zM806.9 267.8h1.00v29.31h-1.00zM808.9 267.8h1.00v29.31h-1.00zM810.9 267.8h1.00v29.31h-1.00zM814.9 267.8h1.00v29.31h-1.00zM820.9 267.8h1.00v29.31h-1.00zM838.9 267.8h1.00v29.31h-1.00zM842.9 267.8h1.00v29.31h-1.00zM845.9 267.8h1.00v29.31h-1.00zM858.9 267.8h1.00v29.31h-1.00zM860.9 267.8h1.00v29.31h-1.00zM871.9 267.8h1.00v29.31h-1.00zM878.9 267.8h1.00v29.31h-1.00zM882.9 267.8h1.00v29.31h-1.00zM893.9 267.8h1.00v29.31h-1.00zM900.0 267.8h1.00v29.31h-1.00zM913.0 267.8h1.00v29.31h-1.00zM915.0 267.8h1.00v29.31h-1.00zM918.0 267.8h1.00v29.31h-1.00zM920.0 267.8h1.00v29.31h-1.00zM930.0 267.8h1.00v29.31h-1.00zM955.0 267.8h1.00v29.31h-1.00zM956.0 267.8h1.00v29.31h-1.00zM968.0 267.8h1.00v29.31h-1.00zM974.0 267.8h1.00v29.31h-1.00zM658.8 297.1h1.00v29.31h-1.00zM666.8 297.1h1.00v29.31h-1.00zM674.8 297.1h1.00v29.31h-1.00zM694.8 297.1h1.00v29.31h-1.00zM705.8 297.1h1.00v29.31h-1.00zM707.8 297.1h1.00v29.31h-1.00zM730.8 297.1h1.00v29.31h-1.00zM738.9 297.1h1.00v29.31h-1.00zM740.9 297.1h1.00v29.31h-1.00zM753.9 297.1h1.00v29.31h-1.00zM758.9 297.1h1.00v29.31h-1.00zM765.9 297.1h1.00v29.31h-1.00zM767.9 297.1h1.00v29.31h-1.00zM768.9 297.1h1.00v29.31h-1.00zM780.9 297.1h1.00v29.31h-1.00zM794.9 297.1h1.00v29.31h-1.00zM797.9 297.1h1.00v29.31h-1.00zM804.9 297.1h1.00v29.31h-1.00zM806.9 297.1h1.00v29.31h-1.00zM815.9 297.1h1.00v29.31h-1.00zM822.9 297.1h1.00v29.31h-1.00zM832.9 297.1h1.00v29.31h-1.00zM834.9 297.1h1.00v29.31h-1.00zM837.9 297.1h1.00v29.31h-1.00zM855.9 297.1h1.00v29.31h-1.00zM895.9 297.1h1.00v29.31h-1.00zM900.0 297.1h1.00v29.31h-1.00zM901.0 297.1h1.00v29.31h-1.00zM903.0 297.1h1.00v29.31h-1.00zM904.0 297.1h1.00v29.31h-1.00zM909.0 297.1h1.00v29.31h-1.00zM912.0 297.1h1.00v29.31h-1.00zM920.0 297.1h1.00v29.31h-1.00zM923.0 297.1h1.00v29.31h-1.00zM928.0 297.1h1.00v29.31h-1.00zM941.0 297.1h1.00v29.31h-1.00zM942.0 297.1h1.00v29.31h-1.00zM944.0 297.1h1.00v29.31h-1.00zM950.0 297.1h1.00v29.31h-1.00zM953.0 297.1h1.00v29.31h-1.00zM972.0 297.1h1.00v29.31h-1.00zM686.8 326.4h1.00v29.31h-1.00zM698.8 326.4h1.00v29.31h-1.00zM713.8 326.4h1.00v29.31h-1.00zM716.8 326.4h1.00v29.31h-1.00zM759.9 326.4h1.00v29.31h-1.00zM765.9 326.4h1.00v29.31h-1.00zM766.9 326.4h1.00v29.31h-1.00zM768.9 326.4h1.00v29.31h-1.00zM770.9 326.4h1.00v29.31h-1.00zM772.9 326.4h1.00v29.31h-1.00zM778.9 326.4h1.00v29.31h-1.00zM785.9 326.4h1.00v29.31h-1.00zM806.9 326.4h1.00v29.31h-1.00zM810.9 326.4h1.00v29.31h-1.00zM811.9 326.4h1.00v29.31h-1.00zM814.9 326.4h1.00v29.31h-1.00zM822.9 326.4h1.00v29.31h-1.00zM824.9 326.4h1.00v29.31h-1.00zM843.9 326.4h1.00v29.31h-1.00zM844.9 326.4h1.00v29.31h-1.00zM846.9 326.4h1.00v29.31h-1.00zM847.9 326.4h1.00v29.31h-1.00zM853.9 326.4h1.00v29.31h-1.00zM855.9 326.4h1.00v29.31h-1.00zM860.9 326.4h1.00v29.31h-1.00zM870.9 326.4h1.00v29.31h-1.00zM875.9 326.4h1.00v29.31h-1.00zM899.0 326.4h1.00v29.31h-1.00zM906.0 326.4h1.00v29.31h-1.00zM913.0 326.4h1.00v29.31h-1.00zM918.0 326.4h1.00v29.31h-1.00zM923.0 326.4h1.00v29.31h-1.00zM925.0 326.4h1.00v29.31h-1.00zM930.0 326.4h1.00v29.31h-1.00zM934.0 326.4h1.00v29.31h-1.00zM940.0 326.4h1.00v29.31h-1.00zM941.0 326.4h1.00v29.31h-1.00zM952.0 326.4h1.00v29.31h-1.00zM953.0 326.4h1.00v29.31h-1.00zM965.0 326.4h1.00v29.31h-1.00zM654.8 355.7h1.00v29.31h-1.00zM659.8 355.7h1.00v29.31h-1.00zM666.8 355.7h1.00v29.31h-1.00zM671.8 355.7h1.00v29.31h-1.00zM676.8 355.7h1.00v29.31h-1.00zM703.8 355.7h1.00v29.31h-1.00zM705.8 355.7h1.00v29.31h-1.00zM706.8 355.7h1.00v29.31h-1.00zM712.8 355.7h1.00v29.31h-1.00zM714.8 355.7h1.00v29.31h-1.00zM720.8 355.7h1.00v29.31h-1.00zM721.8 355.7h1.00v29.31h-1.00zM723.8 355.7h1.00v29.31h-1.00zM749.9 355.7h1.00v29.31h-1.00zM750.9 355.7h1.00v29.31h-1.00zM752.9 355.7h1.00v29.31h-1.00zM753.9 355.7h1.00v29.31h-1.00zM779.9 355.7h1.00v29.31h-1.00zM785.9 355.7h1.00v29.31h-1.00zM788.9 355.7h1.00v29.31h-1.00zM791.9 355.7h1.00v29.31h-1.00zM799.9 355.7h1.00v29.31h-1.00zM818.9 355.7h1.00v29.31h-1.00zM829.9 355.7h1.00v29.31h-1.00zM831.9 355.7h1.00v29.31h-1.00zM832.9 355.7h1.00v29.31h-1.00zM834.9 355.7h1.00v29.31h-1.00zM839.9 355.7h1.00v29.31h-1.00zM840.9 355.7h1.00v29.31h-1.00zM845.9 355.7h1.00v29.31h-1.00zM846.9 355.7h1.00v29.31h-1.00zM852.9 355.7h1.00v29.31h-1.00zM853.9 355.7h1.00v29.31h-1.00zM856.9 355.7h1.00v29.31h-1.00zM869.9 355.7h1.00v29.31h-1.00zM880.9 355.7h1.00v29.31h-1.00zM881.9 355.7h1.00v29.31h-1.00zM884.9 355.7h1.00v29.31h-1.00zM887.9 355.7h1.00v29.31h-1.00zM889.9 355.7h1.00v29.31h-1.00zM891.9 355.7h1.00v29.31h-1.00zM893.9 355.7h1.00v29.31h-1.00zM894.9 355.7h1.00v29.31h-1.00zM899.0 355.7h1.00v29.31h-1.00zM900.0 355.7h1.00v29.31h-1.00zM904.0 355.7h1.00v29.31h-1.00zM915.0 355.7h1.00v29.31h-1.00zM919.0 355.7h1.00v29.31h-1.00zM920.0 355.7h1.00v29.31h-1.00zM929.0 355.7h1.00v29.31h-1.00zM934.0 355.7h1.00v29.31h-1.00zM938.0 355.7h1.00v29.31h-1.00zM948.0 355.7h1.00v29.31h-1.00zM951.0 355.7h1.00v29.31h-1.00zM968.0 355.7h1.00v29.31h-1.00zM975.0 355.7h1.00v29.31h-1.00zM976.0 355.7h1.00v29.31h-1.00zM977.0 355.7h1.00v29.31h-1.00zM653.8 385.0h1.00v29.31h-1.00zM665.8 385.0h1.00v29.31h-1.00zM669.8 385.0h1.00v29.31h-1.00zM671.8 385.0h1.00v29.31h-1.00zM697.8 385.0h1.00v29.31h-1.00zM702.8 385.0h1.00v29.31h-1.00zM710.8 385.0h1.00v29.31h-1.00zM744.9 385.0h1.00v29.31h-1.00zM754.9 385.0h1.00v29.31h-1.00zM755.9 385.0h1.00v29.31h-1.00zM756.9 385.0h1.00v29.31h-1.00zM759.9 385.0h1.00v29.31h-1.00zM760.9 385.0h1.00v29.31h-1.00zM763.9 385.0h1.00v29.31h-1.00zM768.9 385.0h1.00v29.31h-1.00zM774.9 385.0h1.00v29.31h-1.00zM779.9 385.0h1.00v29.31h-1.00zM782.9 385.0h1.00v29.31h-1.00zM791.9 385.0h1.00v29.31h-1.00zM792.9 385.0h1.00v29.31h-1.00zM805.9 385.0h1.00v29.31h-1.00zM808.9 385.0h1.00v29.31h-1.00zM814.9 385.0h1.00v29.31h-1.00zM815.9 385.0h1.00v29.31h-1.00zM822.9 385.0h1.00v29.31h-1.00zM833.9 385.0h1.00v29.31h-1.00zM837.9 385.0h1.00v29.31h-1.00zM844.9 385.0h1.00v29.31h-1.00zM854.9 385.0h1.00v29.31h-1.00zM862.9 385.0h1.00v29.31h-1.00zM863.9 385.0h1.00v29.31h-1.00zM867.9 385.0h1.00v29.31h-1.00zM868.9 385.0h1.00v29.31h-1.00zM869.9 385.0h1.00v29.31h-1.00zM874.9 385.0h1.00v29.31h-1.00zM878.9 385.0h1.00v29.31h-1.00zM884.9 385.0h1.00v29.31h-1.00zM890.9 385.0h1.00v29.31h-1.00zM899.0 385.0h1.00v29.31h-1.00zM909.0 385.0h1.00v29.31h-1.00zM914.0 385.0h1.00v29.31h-1.00zM922.0 385.0h1.00v29.31h-1.00zM927.0 385.0h1.00v29.31h-1.00zM928.0 385.0h1.00v29.31h-1.00zM929.0 385.0h1.00v29.31h-1.00zM935.0 385.0h1.00v29.31h-1.00zM944.0 385.0h1.00v29.31h-1.00zM949.0 385.0h1.00v29.31h-1.00zM959.0 385.0h1.00v29.31h-1.00zM963.0 385.0h1.00v29.31h-1.00zM967.0 385.0h1.00v29.31h-1.00zM652.8 414.4h1.00v29.31h-1.00zM662.8 414.4h1.00v29.31h-1.00zM664.8 414.4h1.00v29.31h-1.00zM669.8 414.4h1.00v29.31h-1.00zM684.8 414.4h1.00v29.31h-1.00zM692.8 414.4h1.00v29.31h-1.00zM697.8 414.4h1.00v29.31h-1.00zM698.8 414.4h1.00v29.31h-1.00zM701.8 414.4h1.00v29.31h-1.00zM724.8 414.4h1.00v29.31h-1.00zM731.8 414.4h1.00v29.31h-1.00zM741.9 414.4h1.00v29.31h-1.00zM763.9 414.4h1.00v29.31h-1.00zM766.9 414.4h1.00v29.31h-1.00zM778.9 414.4h1.00v29.31h-1.00zM793.9 414.4h1.00v29.31h-1.00zM799.9 414.4h1.00v29.31h-1.00zM804.9 414.4h1.00v29.31h-1.00zM811.9 414.4h1.00v29.31h-1.00zM822.9 414.4h1.00v29.31h-1.00zM823.9 414.4h1.00v29.31h-1.00zM838.9 414.4h1.00v29.31h-1.00zM843.9 414.4h1.00v29.31h-1.00zM853.9 414.4h1.00v29.31h-1.00zM862.9 414.4h1.00v29.31h-1.00zM873.9 414.4h1.00v29.31h-1.00zM880.9 414.4h1.00v29.31h-1.00zM885.9 414.4h1.00v29.31h-1.00zM897.0 414.4h1.00v29.31h-1.00zM902.0 414.4h1.00v29.31h-1.00zM907.0 414.4h1.00v29.31h-1.00zM912.0 414.4h1.00v29.31h-1.00zM915.0 414.4h1.00v29.31h-1.00zM916.0 414.4h1.00v29.31h-1.00zM925.0 414.4h1.00v29.31h-1.00zM931.0 414.4h1.00v29.31h-1.00zM934.0 414.4h1.00v29.31h-1.00zM935.0 414.4h1.00v29.31h-1.00zM948.0 414.4h1.00v29.31h-1.00zM960.0 414.4h1.00v29.31h-1.00zM975.0 414.4h1.00v29.31h-1.00zM976.0 414.4h1.00v29.31h-1.00zM740.9 443.7h1.00v29.31h-1.00zM742.9 443.7h1.00v29.31h-1.00zM773.9 443.7h1.00v29.31h-1.00zM779.9 443.7h1.00v29.31h-1.00zM781.9 443.7h1.00v29.31h-1.00zM783.9 443.7h1.00v29.31h-1.00zM785.9 443.7h1.00v29.31h-1.00zM792.9 443.7h1.00v29.31h-1.00zM793.9 443.7h1.00v29.31h-1.00zM794.9 443.7h1.00v29.31h-1.00zM796.9 443.7h1.00v29.31h-1.00zM797.9 443.7h1.00v29.31h-1.00zM799.9 443.7h1.00v29.31h-1.00zM806.9 443.7h1.00v29.31h-1.00zM812.9 443.7h1.00v29.31h-1.00zM815.9 443.7h1.00v29.31h-1.00zM816.9 443.7h1.00v29.31h-1.00zM818.9 443.7h1.00v29.31h-1.00zM821.9 443.7h1.00v29.31h-1.00zM822.9 443.7h1.00v29.31h-1.00zM823.9 443.7h1.00v29.31h-1.00zM827.9 443.7h1.00v29.31h-1.00zM831.9 443.7h1.00v29.31h-1.00zM846.9 443.7h1.00v29.31h-1.00zM856.9 443.7h1.00v29.31h-1.00zM857.9 443.7h1.00v29.31h-1.00zM858.9 443.7h1.00v29.31h-1.00zM860.9 443.7h1.00v29.31h-1.00zM879.9 443.7h1.00v29.31h-1.00zM881.9 443.7h1.00v29.31h-1.00zM890.9 443.7h1.00v29.31h-1.00zM891.9 443.7h1.00v29.31h-1.00zM894.9 443.7h1.00v29.31h-1.00zM901.0 443.7h1.00v29.31h-1.00zM902.0 443.7h1.00v29.31h-1.00zM906.0 443.7h1.00v29.31h-1.00zM908.0 443.7h1.00v29.31h-1.00zM910.0 443.7h1.00v29.31h-1.00zM926.0 443.7h1.00v29.31h-1.00zM929.0 443.7h1.00v29.31h-1.00zM931.0 443.7h1.00v29.31h-1.00zM932.0 443.7h1.00v29.31h-1.00zM934.0 443.7h1.00v29.31h-1.00zM943.0 443.7h1.00v29.31h-1.00zM947.0 443.7h1.00v29.31h-1.00zM955.0 443.7h1.00v29.31h-1.00zM959.0 443.7h1.00v29.31h-1.00zM964.0 443.7h1.00v29.31h-1.00zM968.0 443.7h1.00v29.31h-1.00zM969.0 443.7h1.00v29.31h-1.00zM739.9 473.0h1.00v29.31h-1.00zM741.9 473.0h1.00v29.31h-1.00zM746.9 473.0h1.00v29.31h-1.00zM748.9 473.0h1.00v29.31h-1.00zM749.9 473.0h1.00v29.31h-1.00zM750.9 473.0h1.00v29.31h-1.00zM754.9 473.0h1.00v29.31h-1.00zM757.9 473.0h1.00v29.31h-1.00zM761.9 473.0h1.00v29.31h-1.00zM762.9 473.0h1.00v29.31h-1.00zM764.9 473.0h1.00v29.31h-1.00zM768.9 473.0h1.00v29.31h-1.00zM769.9 473.0h1.00v29.31h-1.00zM770.9 473.0h1.00v29.31h-1.00zM771.9 473.0h1.00v29.31h-1.00zM772.9 473.0h1.00v29.31h-1.00zM777.9 473.0h1.00v29.31h-1.00zM781.9 473.0h1.00v29.31h-1.00zM782.9 473.0h1.00v29.31h-1.00zM788.9 473.0h1.00v29.31h-1.00zM804.9 473.0h1.00v29.31h-1.00zM805.9 473.0h1.00v29.31h-1.00zM813.9 473.0h1.00v29.31h-1.00zM816.9 473.0h1.00v29.31h-1.00zM819.9 473.0h1.00v29.31h-1.00zM822.9 473.0h1.00v29.31h-1.00zM836.9 473.0h1.00v29.31h-1.00zM837.9 473.0h1.00v29.31h-1.00zM842.9 473.0h1.00v29.31h-1.00zM846.9 473.0h1.00v29.31h-1.00zM857.9 473.0h1.00v29.31h-1.00zM864.9 473.0h1.00v29.31h-1.00zM865.9 473.0h1.00v29.31h-1.00zM877.9 473.0h1.00v29.31h-1.00zM882.9 473.0h1.00v29.31h-1.00zM890.9 473.0h1.00v29.31h-1.00zM901.0 473.0h1.00v29.31h-1.00zM910.0 473.0h1.00v29.31h-1.00zM911.0 473.0h1.00v29.31h-1.00zM913.0 473.0h1.00v29.31h-1.00zM914.0 473.0h1.00v29.31h-1.00zM915.0 473.0h1.00v29.31h-1.00zM916.0 473.0h1.00v29.31h-1.00zM919.0 473.0h1.00v29.31h-1.00zM922.0 473.0h1.00v29.31h-1.00zM937.0 473.0h1.00v29.31h-1.00zM941.0 473.0h1.00v29.31h-1.00zM949.0 473.0h1.00v29.31h-1.00zM951.0 473.0h1.00v29.31h-1.00zM961.0 473.0h1.00v29.31h-1.00zM963.0 473.0h1.00v29.31h-1.00zM964.0 473.0h1.00v29.31h-1.00zM966.0 473.0h1.00v29.31h-1.00zM967.0 473.0h1.00v29.31h-1.00zM968.0 473.0h1.00v29.31h-1.00zM668.8 502.3h1.00v29.31h-1.00zM683.8 502.3h1.00v29.31h-1.00zM700.8 502.3h1.00v29.31h-1.00zM701.8 502.3h1.00v29.31h-1.00zM702.8 502.3h1.00v29.31h-1.00zM706.8 502.3h1.00v29.31h-1.00zM708.8 502.3h1.00v29.31h-1.00zM721.8 502.3h1.00v29.31h-1.00zM735.9 502.3h1.00v29.31h-1.00zM746.9 502.3h1.00v29.31h-1.00zM748.9 502.3h1.00v29.31h-1.00zM756.9 502.3h1.00v29.31h-1.00zM784.9 502.3h1.00v29.31h-1.00zM787.9 502.3h1.00v29.31h-1.00zM799.9 502.3h1.00v29.31h-1.00zM800.9 502.3h1.00v29.31h-1.00zM801.9 502.3h1.00v29.31h-1.00zM802.9 502.3h1.00v29.31h-1.00zM811.9 502.3h1.00v29.31h-1.00zM815.9 502.3h1.00v29.31h-1.00zM824.9 502.3h1.00v29.31h-1.00zM835.9 502.3h1.00v29.31h-1.00zM851.9 502.3h1.00v29.31h-1.00zM852.9 502.3h1.00v29.31h-1.00zM861.9 502.3h1.00v29.31h-1.00zM872.9 502.3h1.00v29.31h-1.00zM874.9 502.3h1.00v29.31h-1.00zM876.9 502.3h1.00v29.31h-1.00zM877.9 502.3h1.00v29.31h-1.00zM881.9 502.3h1.00v29.31h-1.00zM882.9 502.3h1.00v29.31h-1.00zM887.9 502.3h1.00v29.31h-1.00zM888.9 502.3h1.00v29.31h-1.00zM910.0 502.3h1.00v29.31h-1.00zM914.0 502.3h1.00v29.31h-1.00zM917.0 502.3h1.00v29.31h-1.00zM925.0 502.3h1.00v29.31h-1.00zM942.0 502.3h1.00v29.31h-1.00zM943.0 502.3h1.00v29.31h-1.00zM948.0 502.3h1.00v29.31h-1.00zM949.0 502.3h1.00v29.31h-1.00zM954.0 502.3h1.00v29.31h-1.00zM961.0 502.3h1.00v29.31h-1.00zM965.0 502.3h1.00v29.31h-1.00zM970.0 502.3h1.00v29.31h-1.00zM661.8 531.6h1.00v29.31h-1.00zM666.8 531.6h1.00v29.31h-1.00zM668.8 531.6h1.00v29.31h-1.00zM672.8 531.6h1.00v29.31h-1.00zM690.8 531.6h1.00v29.31h-1.00zM696.8 531.6h1.00v29.31h-1.00zM712.8 531.6h1.00v29.31h-1.00zM713.8 531.6h1.00v29.31h-1.00zM714.8 531.6h1.00v29.31h-1.00zM720.8 531.6h1.00v29.31h-1.00zM725.8 531.6h1.00v29.31h-1.00zM726.8 531.6h1.00v29.31h-1.00zM727.8 531.6h1.00v29.31h-1.00zM749.9 531.6h1.00v29.31h-1.00zM752.9 531.6h1.00v29.31h-1.00zM756.9 531.6h1.00v29.31h-1.00zM773.9 531.6h1.00v29.31h-1.00zM779.9 531.6h1.00v29.31h-1.00zM786.9 531.6h1.00v29.31h-1.00zM795.9 531.6h1.00v29.31h-1.00zM799.9 531.6h1.00v29.31h-1.00zM801.9 531.6h1.00v29.31h-1.00zM811.9 531.6h1.00v29.31h-1.00zM824.9 531.6h1.00v29.31h-1.00zM833.9 531.6h1.00v29.31h-1.00zM843.9 531.6h1.00v29.31h-1.00zM845.9 531.6h1.00v29.31h-1.00zM860.9 531.6h1.00v29.31h-1.00zM876.9 531.6h1.00v29.31h-1.00zM877.9 531.6h1.00v29.31h-1.00zM926.0 531.6h1.00v29.31h-1.00zM934.0 531.6h1.00v29.31h-1.00zM940.0 531.6h1.00v29.31h-1.00zM941.0 531.6h1.00v29.31h-1.00zM959.0 531.6h1.00v29.31h-1.00zM968.0 531.6h1.00v29.31h-1.00zM652.8 560.9h1.00v29.31h-1.00zM654.8 560.9h1.00v29.31h-1.00zM655.8 560.9h1.00v29.31h-1.00zM666.8 560.9h1.00v29.31h-1.00zM670.8 560.9h1.00v29.31h-1.00zM675.8 560.9h1.00v29.31h-1.00zM684.8 560.9h1.00v29.31h-1.00zM687.8 560.9h1.00v29.31h-1.00zM689.8 560.9h1.00v29.31h-1.00zM690.8 560.9h1.00v29.31h-1.00zM701.8 560.9h1.00v29.31h-1.00zM705.8 560.9h1.00v29.31h-1.00zM706.8 560.9h1.00v29.31h-1.00zM713.8 560.9h1.00v29.31h-1.00zM720.8 560.9h1.00v29.31h-1.00zM722.8 560.9h1.00v29.31h-1.00zM757.9 560.9h1.00v29.31h-1.00zM794.9 560.9h1.00v29.31h-1.00zM795.9 560.9h1.00v29.31h-1.00zM796.9 560.9h1.00v29.31h-1.00zM811.9 560.9h1.00v29.31h-1.00zM812.9 560.9h1.00v29.31h-1.00zM823.9 560.9h1.00v29.31h-1.00zM825.9 560.9h1.00v29.31h-1.00zM827.9 560.9h1.00v29.31h-1.00zM834.9 560.9h1.00v29.31h-1.00zM848.9 560.9h1.00v29.31h-1.00zM851.9 560.9h1.00v29.31h-1.00zM855.9 560.9h1.00v29.31h-1.00zM864.9 560.9h1.00v29.31h-1.00zM875.9 560.9h1.00v29.31h-1.00zM878.9 560.9h1.00v29.31h-1.00zM881.9 560.9h1.00v29.31h-1.00zM882.9 560.9h1.00v29.31h-1.00zM885.9 560.9h1.00v29.31h-1.00zM892.9 560.9h1.00v29.31h-1.00zM893.9 560.9h1.00v29.31h-1.00zM912.0 560.9h1.00v29.31h-1.00zM914.0 560.9h1.00v29.31h-1.00zM916.0 560.9h1.00v29.31h-1.00zM918.0 560.9h1.00v29.31h-1.00zM924.0 560.9h1.00v29.31h-1.00zM939.0 560.9h1.00v29.31h-1.00zM942.0 560.9h1.00v29.31h-1.00zM945.0 560.9h1.00v29.31h-1.00zM960.0 560.9h1.00v29.31h-1.00zM962.0 560.9h1.00v29.31h-1.00zM964.0 560.9h1.00v29.31h-1.00zM975.0 560.9h1.00v29.31h-1.00zM653.8 590.2h1.00v29.31h-1.00zM670.8 590.2h1.00v29.31h-1.00zM673.8 590.2h1.00v29.31h-1.00zM674.8 590.2h1.00v29.31h-1.00zM677.8 590.2h1.00v29.31h-1.00zM680.8 590.2h1.00v29.31h-1.00zM687.8 590.2h1.00v29.31h-1.00zM690.8 590.2h1.00v29.31h-1.00zM700.8 590.2h1.00v29.31h-1.00zM708.8 590.2h1.00v29.31h-1.00zM716.8 590.2h1.00v29.31h-1.00zM721.8 590.2h1.00v29.31h-1.00zM723.8 590.2h1.00v29.31h-1.00zM741.9 590.2h1.00v29.31h-1.00zM762.9 590.2h1.00v29.31h-1.00zM765.9 590.2h1.00v29.31h-1.00zM769.9 590.2h1.00v29.31h-1.00zM778.9 590.2h1.00v29.31h-1.00zM789.9 590.2h1.00v29.31h-1.00zM790.9 590.2h1.00v29.31h-1.00zM807.9 590.2h1.00v29.31h-1.00zM811.9 590.2h1.00v29.31h-1.00zM813.9 590.2h1.00v29.31h-1.00zM819.9 590.2h1.00v29.31h-1.00zM822.9 590.2h1.00v29.31h-1.00zM841.9 590.2h1.00v29.31h-1.00zM854.9 590.2h1.00v29.31h-1.00zM857.9 590.2h1.00v29.31h-1.00zM860.9 590.2h1.00v29.31h-1.00zM886.9 590.2h1.00v29.31h-1.00zM887.9 590.2h1.00v29.31h-1.00zM893.9 590.2h1.00v29.31h-1.00zM899.0 590.2h1.00v29.31h-1.00zM901.0 590.2h1.00v29.31h-1.00zM904.0 590.2h1.00v29.31h-1.00zM911.0 590.2h1.00v29.31h-1.00zM916.0 590.2h1.00v29.31h-1.00zM919.0 590.2h1.00v29.31h-1.00zM930.0 590.2h1.00v29.31h-1.00zM951.0 590.2h1.00v29.31h-1.00zM952.0 590.2h1.00v29.31h-1.00zM972.0 590.2h1.00v29.31h-1.00zM973.0 590.2h1.00v29.31h-1.00zM654.8 619.5h1.00v29.31h-1.00zM659.8 619.5h1.00v29.31h-1.00zM665.8 619.5h1.00v29.31h-1.00zM669.8 619.5h1.00v29.31h-1.00zM673.8 619.5h1.00v29.31h-1.00zM678.8 619.5h1.00v29.31h-1.00zM680.8 619.5h1.00v29.31h-1.00zM682.8 619.5h1.00v29.31h-1.00zM683.8 619.5h1.00v29.31h-1.00zM684.8 619.5h1.00v29.31h-1.00zM686.8 619.5h1.00v29.31h-1.00zM696.8 619.5h1.00v29.31h-1.00zM699.8 619.5h1.00v29.31h-1.00zM701.8 619.5h1.00v29.31h-1.00zM720.8 619.5h1.00v29.31h-1.00zM723.8 619.5h1.00v29.31h-1.00zM724.8 619.5h1.00v29.31h-1.00zM729.8 619.5h1.00v29.31h-1.00zM733.8 619.5h1.00v29.31h-1.00zM736.9 619.5h1.00v29.31h-1.00zM747.9 619.5h1.00v29.31h-1.00zM754.9 619.5h1.00v29.31h-1.00zM756.9 619.5h1.00v29.31h-1.00zM757.9 619.5h1.00v29.31h-1.00zM758.9 619.5h1.00v29.31h-1.00zM763.9 619.5h1.00v29.31h-1.00zM777.9 619.5h1.00v29.31h-1.00zM790.9 619.5h1.00v29.31h-1.00zM816.9 619.5h1.00v29.31h-1.00zM823.9 619.5h1.00v29.31h-1.00zM826.9 619.5h1.00v29.31h-1.00zM831.9 619.5h1.00v29.31h-1.00zM832.9 619.5h1.00v29.31h-1.00zM843.9 619.5h1.00v29.31h-1.00zM853.9 619.5h1.00v29.31h-1.00zM857.9 619.5h1.00v29.31h-1.00zM858.9 619.5h1.00v29.31h-1.00zM876.9 619.5h1.00v29.31h-1.00zM886.9 619.5h1.00v29.31h-1.00zM887.9 619.5h1.00v29.31h-1.00zM894.9 619.5h1.00v29.31h-1.00zM900.0 619.5h1.00v29.31h-1.00zM901.0 619.5h1.00v29.31h-1.00zM906.0 619.5h1.00v29.31h-1.00zM930.0 619.5h1.00v29.31h-1.00zM949.0 619.5h1.00v29.31h-1.00zM950.0 619.5h1.00v29.31h-1.00zM952.0 619.5h1.00v29.31h-1.00zM962.0 619.5h1.00v29.31h-1.00zM966.0 619.5h1.00v29.31h-1.00zM974.0 619.5h1.00v29.31h-1.00zM662.8 648.8h1.00v29.31h-1.00zM672.8 648.8h1.00v29.31h-1.00zM676.8 648.8h1.00v29.31h-1.00zM686.8 648.8h1.00v29.31h-1.00zM691.8 648.8h1.00v29.31h-1.00zM694.8 648.8h1.00v29.31h-1.00zM698.8 648.8h1.00v29.31h-1.00zM699.8 648.8h1.00v29.31h-1.00zM701.8 648.8h1.00v29.31h-1.00zM713.8 648.8h1.00v29.31h-1.00zM730.8 648.8h1.00v29.31h-1.00zM732.8 648.8h1.00v29.31h-1.00zM740.9 648.8h1.00v29.31h-1.00zM749.9 648.8h1.00v29.31h-1.00zM757.9 648.8h1.00v29.31h-1.00zM764.9 648.8h1.00v29.31h-1.00zM766.9 648.8h1.00v29.31h-1.00zM770.9 648.8h1.00v29.31h-1.00zM774.9 648.8h1.00v29.31h-1.00zM775.9 648.8h1.00v29.31h-1.00zM780.9 648.8h1.00v29.31h-1.00zM793.9 648.8h1.00v29.31h-1.00zM795.9 648.8h1.00v29.31h-1.00zM799.9 648.8h1.00v29.31h-1.00zM801.9 648.8h1.00v29.31h-1.00zM804.9 648.8h1.00v29.31h-1.00zM806.9 648.8h1.00v29.31h-1.00zM811.9 648.8h1.00v29.31h-1.00zM812.9 648.8h1.00v29.31h-1.00zM831.9 648.8h1.00v29.31h-1.00zM853.9 648.8h1.00v29.31h-1.00zM875.9 648.8h1.00v29.31h-1.00zM876.9 648.8h1.00v29.31h-1.00zM878.9 648.8h1.00v29.31h-1.00zM879.9 648.8h1.00v29.31h-1.00zM894.9 648.8h1.00v29.31h-1.00zM897.0 648.8h1.00v29.31h-1.00zM898.0 648.8h1.00v29.31h-1.00zM901.0 648.8h1.00v29.31h-1.00zM904.0 648.8h1.00v29.31h-1.00zM907.0 648.8h1.00v29.31h-1.00zM910.0 648.8h1.00v29.31h-1.00zM920.0 648.8h1.00v29.31h-1.00zM952.0 648.8h1.00v29.31h-1.00zM961.0 648.8h1.00v29.31h-1.00zM964.0 648.8h1.00v29.31h-1.00zM965.0 648.8h1.00v29.31h-1.00zM972.0 648.8h1.00v29.31h-1.00zM974.0 648.8h1.00v29.31h-1.00zM677.8 678.1h1.00v29.31h-1.00zM682.8 678.1h1.00v29.31h-1.00zM683.8 678.1h1.00v29.31h-1.00zM694.8 678.1h1.00v29.31h-1.00zM697.8 678.1h1.00v29.31h-1.00zM698.8 678.1h1.00v29.31h-1.00zM710.8 678.1h1.00v29.31h-1.00zM716.8 678.1h1.00v29.31h-1.00zM730.8 678.1h1.00v29.31h-1.00zM732.8 678.1h1.00v29.31h-1.00zM736.9 678.1h1.00v29.31h-1.00zM749.9 678.1h1.00v29.31h-1.00zM751.9 678.1h1.00v29.31h-1.00zM760.9 678.1h1.00v29.31h-1.00zM761.9 678.1h1.00v29.31h-1.00zM762.9 678.1h1.00v29.31h-1.00zM786.9 678.1h1.00v29.31h-1.00zM791.9 678.1h1.00v29.31h-1.00zM794.9 678.1h1.00v29.31h-1.00zM815.9 678.1h1.00v29.31h-1.00zM817.9 678.1h1.00v29.31h-1.00zM824.9 678.1h1.00v29.31h-1.00zM826.9 678.1h1.00v29.31h-1.00zM837.9 678.1h1.00v29.31h-1.00zM840.9 678.1h1.00v29.31h-1.00zM849.9 678.1h1.00v29.31h-1.00zM853.9 678.1h1.00v29.31h-1.00zM861.9 678.1h1.00v29.31h-1.00zM883.9 678.1h1.00v29.31h-1.00zM884.9 678.1h1.00v29.31h-1.00zM887.9 678.1h1.00v29.31h-1.00zM893.9 678.1h1.00v29.31h-1.00zM897.0 678.1h1.00v29.31h-1.00zM900.0 678.1h1.00v29.31h-1.00zM902.0 678.1h1.00v29.31h-1.00zM912.0 678.1h1.00v29.31h-1.00zM916.0 678.1h1.00v29.31h-1.00zM919.0 678.1h1.00v29.31h-1.00zM923.0 678.1h1.00v29.31h-1.00zM928.0 678.1h1.00v29.31h-1.00zM936.0 678.1h1.00v29.31h-1.00zM943.0 678.1h1.00v29.31h-1.00zM946.0 678.1h1.00v29.31h-1.00zM952.0 678.1h1.00v29.31h-1.00zM972.0 678.1h1.00v29.31h-1.00zM694.8 707.5h1.00v29.31h-1.00zM697.8 707.5h1.00v29.31h-1.00zM707.8 707.5h1.00v29.31h-1.00zM714.8 707.5h1.00v29.31h-1.00zM722.8 707.5h1.00v29.31h-1.00zM738.9 707.5h1.00v29.31h-1.00zM741.9 707.5h1.00v29.31h-1.00zM752.9 707.5h1.00v29.31h-1.00zM762.9 707.5h1.00v29.31h-1.00zM776.9 707.5h1.00v29.31h-1.00zM779.9 707.5h1.00v29.31h-1.00zM785.9 707.5h1.00v29.31h-1.00zM786.9 707.5h1.00v29.31h-1.00zM794.9 707.5h1.00v29.31h-1.00zM803.9 707.5h1.00v29.31h-1.00zM805.9 707.5h1.00v29.31h-1.00zM807.9 707.5h1.00v29.31h-1.00zM808.9 707.5h1.00v29.31h-1.00zM832.9 707.5h1.00v29.31h-1.00zM835.9 707.5h1.00v29.31h-1.00zM839.9 707.5h1.00v29.31h-1.00zM842.9 707.5h1.00v29.31h-1.00zM845.9 707.5h1.00v29.31h-1.00zM857.9 707.5h1.00v29.31h-1.00zM890.9 707.5h1.00v29.31h-1.00zM891.9 707.5h1.00v29.31h-1.00zM892.9 707.5h1.00v29.31h-1.00zM895.9 707.5h1.00v29.31h-1.00zM901.0 707.5h1.00v29.31h-1.00zM910.0 707.5h1.00v29.31h-1.00zM918.0 707.5h1.00v29.31h-1.00zM940.0 707.5h1.00v29.31h-1.00zM961.0 707.5h1.00v29.31h-1.00zM963.0 707.5h1.00v29.31h-1.00zM964.0 707.5h1.00v29.31h-1.00zM971.0 707.5h1.00v29.31h-1.00zM972.0 707.5h1.00v29.31h-1.00zM974.0 707.5h1.00v29.31h-1.00zM675.8 736.8h1.00v29.31h-1.00zM704.8 736.8h1.00v29.31h-1.00zM723.8 736.8h1.00v29.31h-1.00zM726.8 736.8h1.00v29.31h-1.00zM747.9 736.8h1.00v29.31h-1.00zM749.9 736.8h1.00v29.31h-1.00zM757.9 736.8h1.00v29.31h-1.00zM760.9 736.8h1.00v29.31h-1.00zM769.9 736.8h1.00v29.31h-1.00zM779.9 736.8h1.00v29.31h-1.00zM783.9 736.8h1.00v29.31h-1.00zM784.9 736.8h1.00v29.31h-1.00zM789.9 736.8h1.00v29.31h-1.00zM790.9 736.8h1.00v29.31h-1.00zM793.9 736.8h1.00v29.31h-1.00zM797.9 736.8h1.00v29.31h-1.00zM804.9 736.8h1.00v29.31h-1.00zM807.9 736.8h1.00v29.31h-1.00zM813.9 736.8h1.00v29.31h-1.00zM815.9 736.8h1.00v29.31h-1.00zM819.9 736.8h1.00v29.31h-1.00zM831.9 736.8h1.00v29.31h-1.00zM844.9 736.8h1.00v29.31h-1.00zM845.9 736.8h1.00v29.31h-1.00zM861.9 736.8h1.00v29.31h-1.00zM862.9 736.8h1.00v29.31h-1.00zM877.9 736.8h1.00v29.31h-1.00zM880.9 736.8h1.00v29.31h-1.00zM885.9 736.8h1.00v29.31h-1.00zM887.9 736.8h1.00v29.31h-1.00zM902.0 736.8h1.00v29.31h-1.00zM910.0 736.8h1.00v29.31h-1.00zM916.0 736.8h1.00v29.31h-1.00zM935.0 736.8h1.00v29.31h-1.00zM938.0 736.8h1.00v29.31h-1.00zM949.0 736.8h1.00v29.31h-1.00zM952.0 736.8h1.00v29.31h-1.00zM967.0 736.8h1.00v29.31h-1.00zM968.0 736.8h1.00v29.31h-1.00zM969.0 736.8h1.00v29.31h-1.00zM652.8 766.1h1.00v29.31h-1.00zM673.8 766.1h1.00v29.31h-1.00zM677.8 766.1h1.00v29.31h-1.00zM691.8 766.1h1.00v29.31h-1.00zM700.8 766.1h1.00v29.31h-1.00zM710.8 766.1h1.00v29.31h-1.00zM719.8 766.1h1.00v29.31h-1.00zM725.8 766.1h1.00v29.31h-1.00zM728.8 766.1h1.00v29.31h-1.00zM737.9 766.1h1.00v29.31h-1.00zM742.9 766.1h1.00v29.31h-1.00zM748.9 766.1h1.00v29.31h-1.00zM749.9 766.1h1.00v29.31h-1.00zM750.9 766.1h1.00v29.31h-1.00zM757.9 766.1h1.00v29.31h-1.00zM774.9 766.1h1.00v29.31h-1.00zM793.9 766.1h1.00v29.31h-1.00zM804.9 766.1h1.00v29.31h-1.00zM808.9 766.1h1.00v29.31h-1.00zM822.9 766.1h1.00v29.31h-1.00zM824.9 766.1h1.00v29.31h-1.00zM827.9 766.1h1.00v29.31h-1.00zM839.9 766.1h1.00v29.31h-1.00zM853.9 766.1h1.00v29.31h-1.00zM854.9 766.1h1.00v29.31h-1.00zM880.9 766.1h1.00v29.31h-1.00zM900.0 766.1h1.00v29.31h-1.00zM902.0 766.1h1.00v29.31h-1.00zM904.0 766.1h1.00v29.31h-1.00zM907.0 766.1h1.00v29.31h-1.00zM919.0 766.1h1.00v29.31h-1.00zM928.0 766.1h1.00v29.31h-1.00zM934.0 766.1h1.00v29.31h-1.00zM941.0 766.1h1.00v29.31h-1.00zM954.0 766.1h1.00v29.31h-1.00zM958.0 766.1h1.00v29.31h-1.00zM961.0 766.1h1.00v29.31h-1.00zM666.8 795.4h1.00v29.31h-1.00zM673.8 795.4h1.00v29.31h-1.00zM699.8 795.4h1.00v29.31h-1.00zM735.9 795.4h1.00v29.31h-1.00zM740.9 795.4h1.00v29.31h-1.00zM760.9 795.4h1.00v29.31h-1.00zM770.9 795.4h1.00v29.31h-1.00zM772.9 795.4h1.00v29.31h-1.00zM776.9 795.4h1.00v29.31h-1.00zM798.9 795.4h1.00v29.31h-1.00zM800.9 795.4h1.00v29.31h-1.00zM803.9 795.4h1.00v29.31h-1.00zM808.9 795.4h1.00v29.31h-1.00zM817.9 795.4h1.00v29.31h-1.00zM841.9 795.4h1.00v29.31h-1.00zM843.9 795.4h1.00v29.31h-1.00zM855.9 795.4h1.00v29.31h-1.00zM866.9 795.4h1.00v29.31h-1.00zM876.9 795.4h1.00v29.31h-1.00zM881.9 795.4h1.00v29.31h-1.00zM883.9 795.4h1.00v29.31h-1.00zM886.9 795.4h1.00v29.31h-1.00zM891.9 795.4h1.00v29.31h-1.00zM894.9 795.4h1.00v29.31h-1.00zM902.0 795.4h1.00v29.31h-1.00zM909.0 795.4h1.00v29.31h-1.00zM923.0 795.4h1.00v29.31h-1.00zM926.0 795.4h1.00v29.31h-1.00zM939.0 795.4h1.00v29.31h-1.00zM941.0 795.4h1.00v29.31h-1.00zM967.0 795.4h1.00v29.31h-1.00zM977.0 795.4h1.00v29.31h-1.00zM659.8 824.7h1.00v29.31h-1.00zM665.8 824.7h1.00v29.31h-1.00zM700.8 824.7h1.00v29.31h-1.00zM716.8 824.7h1.00v29.31h-1.00zM729.8 824.7h1.00v29.31h-1.00zM730.8 824.7h1.00v29.31h-1.00zM732.8 824.7h1.00v29.31h-1.00zM742.9 824.7h1.00v29.31h-1.00zM748.9 824.7h1.00v29.31h-1.00zM756.9 824.7h1.00v29.31h-1.00zM759.9 824.7h1.00v29.31h-1.00zM760.9 824.7h1.00v29.31h-1.00zM769.9 824.7h1.00v29.31h-1.00zM797.9 824.7h1.00v29.31h-1.00zM809.9 824.7h1.00v29.31h-1.00zM813.9 824.7h1.00v29.31h-1.00zM820.9 824.7h1.00v29.31h-1.00zM824.9 824.7h1.00v29.31h-1.00zM835.9 824.7h1.00v29.31h-1.00zM836.9 824.7h1.00v29.31h-1.00zM837.9 824.7h1.00v29.31h-1.00zM840.9 824.7h1.00v29.31h-1.00zM861.9 824.7h1.00v29.31h-1.00zM872.9 824.7h1.00v29.31h-1.00zM875.9 824.7h1.00v29.31h-1.00zM880.9 824.7h1.00v29.31h-1.00zM881.9 824.7h1.00v29.31h-1.00zM886.9 824.7h1.00v29.31h-1.00zM887.9 824.7h1.00v29.31h-1.00zM913.0 824.7h1.00v29.31h-1.00zM931.0 824.7h1.00v29.31h-1.00zM933.0 824.7h1.00v29.31h-1.00zM935.0 824.7h1.00v29.31h-1.00zM939.0 824.7h1.00v29.31h-1.00zM948.0 824.7h1.00v29.31h-1.00zM950.0 824.7h1.00v29.31h-1.00zM970.0 824.7h1.00v29.31h-1.00zM972.0 824.7h1.00v29.31h-1.00zM657.8 854.0h1.00v29.31h-1.00zM660.8 854.0h1.00v29.31h-1.00zM665.8 854.0h1.00v29.31h-1.00zM667.8 854.0h1.00v29.31h-1.00zM670.8 854.0h1.00v29.31h-1.00zM679.8 854.0h1.00v29.31h-1.00zM687.8 854.0h1.00v29.31h-1.00zM697.8 854.0h1.00v29.31h-1.00zM705.8 854.0h1.00v29.31h-1.00zM711.8 854.0h1.00v29.31h-1.00zM726.8 854.0h1.00v29.31h-1.00zM727.8 854.0h1.00v29.31h-1.00zM735.9 854.0h1.00v29.31h-1.00zM744.9 854.0h1.00v29.31h-1.00zM750.9 854.0h1.00v29.31h-1.00zM752.9 854.0h1.00v29.31h-1.00zM753.9 854.0h1.00v29.31h-1.00zM755.9 854.0h1.00v29.31h-1.00zM757.9 854.0h1.00v29.31h-1.00zM761.9 854.0h1.00v29.31h-1.00zM763.9 854.0h1.00v29.31h-1.00zM767.9 854.0h1.00v29.31h-1.00zM772.9 854.0h1.00v29.31h-1.00zM775.9 854.0h1.00v29.31h-1.00zM785.9 854.0h1.00v29.31h-1.00zM798.9 854.0h1.00v29.31h-1.00zM803.9 854.0h1.00v29.31h-1.00zM804.9 854.0h1.00v29.31h-1.00zM806.9 854.0h1.00v29.31h-1.00zM810.9 854.0h1.00v29.31h-1.00zM822.9 854.0h1.00v29.31h-1.00zM823.9 854.0h1.00v29.31h-1.00zM827.9 854.0h1.00v29.31h-1.00zM842.9 854.0h1.00v29.31h-1.00zM849.9 854.0h1.00v29.31h-1.00zM853.9 854.0h1.00v29.31h-1.00zM859.9 854.0h1.00v29.31h-1.00zM860.9 854.0h1.00v29.31h-1.00zM884.9 854.0h1.00v29.31h-1.00zM886.9 854.0h1.00v29.31h-1.00zM890.9 854.0h1.00v29.31h-1.00zM893.9 854.0h1.00v29.31h-1.00zM895.9 854.0h1.00v29.31h-1.00zM901.0 854.0h1.00v29.31h-1.00zM903.0 854.0h1.00v29.31h-1.00zM904.0 854.0h1.00v29.31h-1.00zM905.0 854.0h1.00v29.31h-1.00zM908.0 854.0h1.00v29.31h-1.00zM916.0 854.0h1.00v29.31h-1.00zM917.0 854.0h1.00v29.31h-1.00zM919.0 854.0h1.00v29.31h-1.00zM920.0 854.0h1.00v29.31h-1.00zM922.0 854.0h1.00v29.31h-1.00zM925.0 854.0h1.00v29.31h-1.00zM926.0 854.0h1.00v29.31h-1.00zM932.0 854.0h1.00v29.31h-1.00zM940.0 854.0h1.00v29.31h-1.00zM943.0 854.0h1.00v29.31h-1.00zM948.0 854.0h1.00v29.31h-1.00zM949.0 854.0h1.00v29.31h-1.00zM950.0 854.0h1.00v29.31h-1.00zM962.0 854.0h1.00v29.31h-1.00zM963.0 854.0h1.00v29.31h-1.00zM968.0 854.0h1.00v29.31h-1.00zM970.0 854.0h1.00v29.31h-1.00zM654.8 883.3h1.00v29.31h-1.00zM662.8 883.3h1.00v29.31h-1.00zM678.8 883.3h1.00v29.31h-1.00zM682.8 883.3h1.00v29.31h-1.00zM688.8 883.3h1.00v29.31h-1.00zM691.8 883.3h1.00v29.31h-1.00zM696.8 883.3h1.00v29.31h-1.00zM702.8 883.3h1.00v29.31h-1.00zM704.8 883.3h1.00v29.31h-1.00zM706.8 883.3h1.00v29.31h-1.00zM713.8 883.3h1.00v29.31h-1.00zM721.8 883.3h1.00v29.31h-1.00zM728.8 883.3h1.00v29.31h-1.00zM729.8 883.3h1.00v29.31h-1.00zM732.8 883.3h1.00v29.31h-1.00zM748.9 883.3h1.00v29.31h-1.00zM757.9 883.3h1.00v29.31h-1.00zM760.9 883.3h1.00v29.31h-1.00zM761.9 883.3h1.00v29.31h-1.00zM782.9 883.3h1.00v29.31h-1.00zM786.9 883.3h1.00v29.31h-1.00zM792.9 883.3h1.00v29.31h-1.00zM794.9 883.3h1.00v29.31h-1.00zM799.9 883.3h1.00v29.31h-1.00zM801.9 883.3h1.00v29.31h-1.00zM803.9 883.3h1.00v29.31h-1.00zM806.9 883.3h1.00v29.31h-1.00zM828.9 883.3h1.00v29.31h-1.00zM838.9 883.3h1.00v29.31h-1.00zM842.9 883.3h1.00v29.31h-1.00zM848.9 883.3h1.00v29.31h-1.00zM886.9 883.3h1.00v29.31h-1.00zM908.0 883.3h1.00v29.31h-1.00zM912.0 883.3h1.00v29.31h-1.00zM914.0 883.3h1.00v29.31h-1.00zM916.0 883.3h1.00v29.31h-1.00zM920.0 883.3h1.00v29.31h-1.00zM937.0 883.3h1.00v29.31h-1.00zM949.0 883.3h1.00v29.31h-1.00zM950.0 883.3h1.00v29.31h-1.00zM956.0 883.3h1.00v29.31h-1.00zM959.0 883.3h1.00v29.31h-1.00zM962.0 883.3h1.00v29.31h-1.00zM970.0 883.3h1.00v29.31h-1.00zM977.0 883.3h1.00v29.31h-1.00z"/>
<path fill="#FFE0E0" d="M660.8 238.5h1.00v29.31h-1.00zM662.8 238.5h1.00v29.31h-1.00zM687.8 238.5h1.00v29.31h-1.00zM705.8 238.5h1.00v29.31h-1.00zM737.9 238.5h1.00v29.31h-1.00zM749.9 238.5h1.00v29.31h-1.00zM754.9 238.5h1.00v29.31h-1.00zM769.9 238.5h1.00v29.31h-1.00zM774.9 238.5h1.00v29.31h-1.00zM782.9 238.5h1.00v29.31h-1.00zM790.9 238.5h1.00v29.31h-1.00zM802.9 238.5h1.00v29.31h-1.00zM822.9 238.5h1.00v29.31h-1.00zM826.9 238.5h1.00v29.31h-1.00zM832.9 238.5h1.00v29.31h-1.00zM839.9 238.5h1.00v29.31h-1.00zM845.9 238.5h1.00v29.31h-1.00zM856.9 238.5h1.00v29.31h-1.00zM858.9 238.5h1.00v29.31h-1.00zM868.9 238.5h1.00v29.31h-1.00zM873.9 238.5h1.00v29.31h-1.00zM893.9 238.5h1.00v29.31h-1.00zM912.0 238.5h1.00v29.31h-1.00zM940.0 238.5h1.00v29.31h-1.00zM957.0 238.5h1.00v29.31h-1.00zM961.0 238.5h1.00v29.31h-1.00zM963.0 238.5h1.00v29.31h-1.00zM972.0 238.5h1.00v29.31h-1.00zM666.8 267.8h1.00v29.31h-1.00zM676.8 267.8h1.00v29.31h-1.00zM741.9 267.8h1.00v29.31h-1.00zM773.9 267.8h1.00v29.31h-1.00zM811.9 267.8h1.00v29.31h-1.00zM813.9 267.8h1.00v29.31h-1.00zM823.9 267.8h1.00v29.31h-1.00zM824.9 267.8h1.00v29.31h-1.00zM828.9 267.8h1.00v29.31h-1.00zM857.9 267.8h1.00v29.31h-1.00zM862.9 267.8h1.00v29.31h-1.00zM873.9 267.8h1.00v29.31h-1.00zM875.9 267.8h1.00v29.31h-1.00zM886.9 267.8h1.00v29.31h-1.00zM887.9 267.8h1.00v29.31h-1.00zM899.0 267.8h1.00v29.31h-1.00zM924.0 267.8h1.00v29.31h-1.00zM940.0 267.8h1.00v29.31h-1.00zM948.0 267.8h1.00v29.31h-1.00zM961.0 267.8h1.00v29.31h-1.00zM965.0 267.8h1.00v29.31h-1.00zM970.0 267.8h1.00v29.31h-1.00zM971.0 267.8h1.00v29.31h-1.00zM973.0 267.8h1.00v29.31h-1.00zM975.0 267.8h1.00v29.31h-1.00zM691.8 297.1h1.00v29.31h-1.00zM729.8 297.1h1.00v29.31h-1.00zM737.9 297.1h1.00v29.31h-1.00zM746.9 297.1h1.00v29.31h-1.00zM747.9 297.1h1.00v29.31h-1.00zM760.9 297.1h1.00v29.31h-1.00zM786.9 297.1h1.00v29.31h-1.00zM810.9 297.1h1.00v29.31h-1.00zM824.9 297.1h1.00v29.31h-1.00zM836.9 297.1h1.00v29.31h-1.00zM849.9 297.1h1.00v29.31h-1.00zM859.9 297.1h1.00v29.31h-1.00zM864.9 297.1h1.00v29.31h-1.00zM866.9 297.1h1.00v29.31h-1.00zM899.0 297.1h1.00v29.31h-1.00zM910.0 297.1h1.00v29.31h-1.00zM911.0 297.1h1.00v29.31h-1.00zM922.0 297.1h1.00v29.31h-1.00zM929.0 297.1h1.00v29.31h-1.00zM948.0 297.1h1.00v29.31h-1.00zM959.0 297.1h1.00v29.31h-1.00zM973.0 297.1h1.00v29.31h-1.00zM974.0 297.1h1.00v29.31h-1.00zM672.8 326.4h1.00v29.31h-1.00zM749.9 326.4h1.00v29.31h-1.00zM760.9 326.4h1.00v29.31h-1.00zM771.9 326.4h1.00v29.31h-1.00zM777.9 326.4h1.00v29.31h-1.00zM818.9 326.4h1.00v29.31h-1.00zM820.9 326.4h1.00v29.31h-1.00zM831.9 326.4h1.00v29.31h-1.00zM837.9 326.4h1.00v29.31h-1.00zM845.9 326.4h1.00v29.31h-1.00zM864.9 326.4h1.00v29.31h-1.00zM883.9 326.4h1.00v29.31h-1.00zM904.0 326.4h1.00v29.31h-1.00zM917.0 326.4h1.00v29.31h-1.00zM945.0 326.4h1.00v29.31h-1.00zM957.0 326.4h1.00v29.31h-1.00zM972.0 326.4h1.00v29.31h-1.00zM737.9 355.7h1.00v29.31h-1.00zM748.9 355.7h1.00v29.31h-1.00zM756.9 355.7h1.00v29.31h-1.00zM760.9 355.7h1.00v29.31h-1.00zM767.9 355.7h1.00v29.31h-1.00zM770.9 355.7h1.00v29.31h-1.00zM782.9 355.7h1.00v29.31h-1.00zM783.9 355.7h1.00v29.31h-1.00zM802.9 355.7h1.00v29.31h-1.00zM806.9 355.7h1.00v29.31h-1.00zM809.9 355.7h1.00v29.31h-1.00zM824.9 355.7h1.00v29.31h-1.00zM844.9 355.7h1.00v29.31h-1.00zM847.9 355.7h1.00v29.31h-1.00zM876.9 355.7h1.00v29.31h-1.00zM905.0 355.7h1.00v29.31h-1.00zM913.0 355.7h1.00v29.31h-1.00zM916.0 355.7h1.00v29.31h-1.00zM939.0 355.7h1.00v29.31h-1.00zM940.0 355.7h1.00v29.31h-1.00zM946.0 355.7h1.00v29.31h-1.00zM947.0 355.7h1.00v29.31h-1.00zM712.8 385.0h1.00v29.31h-1.00zM736.9 385.0h1.00v29.31h-1.00zM745.9 385.0h1.00v29.31h-1.00zM761.9 385.0h1.00v29.31h-1.00zM766.9 385.0h1.00v29.31h-1.00zM773.9 385.0h1.00v29.31h-1.00zM788.9 385.0h1.00v29.31h-1.00zM799.9 385.0h1.00v29.31h-1.00zM811.9 385.0h1.00v29.31h-1.00zM812.9 385.0h1.00v29.31h-1.00zM826.9 385.0h1.00v29.31h-1.00zM829.9 385.0h1.00v29.31h-1.00zM831.9 385.0h1.00v29.31h-1.00zM842.9 385.0h1.00v29.31h-1.00zM861.9 385.0h1.00v29.31h-1.00zM879.9 385.0h1.00v29.31h-1.00zM888.9 385.0h1.00v29.31h-1.00zM900.0 385.0h1.00v29.31h-1.00zM915.0 385.0h1.00v29.31h-1.00zM934.0 385.0h1.00v29.31h-1.00zM973.0 385.0h1.00v29.31h-1.00zM975.0 385.0h1.00v29.31h-1.00zM673.8 414.4h1.00v29.31h-1.00zM753.9 414.4h1.00v29.31h-1.00zM762.9 414.4h1.00v29.31h-1.00zM764.9 414.4h1.00v29.31h-1.00zM765.9 414.4h1.00v29.31h-1.00zM774.9 414.4h1.00v29.31h-1.00zM776.9 414.4h1.00v29.31h-1.00zM794.9 414.4h1.00v29.31h-1.00zM828.9 414.4h1.00v29.31h-1.00zM831.9 414.4h1.00v29.31h-1.00zM833.9 414.4h1.00v29.31h-1.00zM854.9 414.4h1.00v29.31h-1.00zM859.9 414.4h1.00v29.31h-1.00zM861.9 414.4h1.00v29.31h-1.00zM867.9 414.4h1.00v29.31h-1.00zM901.0 414.4h1.00v29.31h-1.00zM905.0 414.4h1.00v29.31h-1.00zM944.0 414.4h1.00v29.31h-1.00zM945.0 414.4h1.00v29.31h-1.00zM952.0 414.4h1.00v29.31h-1.00zM971.0 414.4h1.00v29.31h-1.00zM972.0 414.4h1.00v29.31h-1.00zM736.9 443.7h1.00v29.31h-1.00zM741.9 443.7h1.00v29.31h-1.00zM743.9 443.7h1.00v29.31h-1.00zM745.9 443.7h1.00v29.31h-1.00zM747.9 443.7h1.00v29.31h-1.00zM748.9 443.7h1.00v29.31h-1.00zM755.9 443.7h1.00v29.31h-1.00zM756.9 443.7h1.00v29.31h-1.00zM761.9 443.7h1.00v29.31h-1.00zM766.9 443.7h1.00v29.31h-1.00zM770.9 443.7h1.00v29.31h-1.00zM771.9 443.7h1.00v29.31h-1.00zM775.9 443.7h1.00v29.31h-1.00zM786.9 443.7h1.00v29.31h-1.00zM788.9 443.7h1.00v29.31h-1.00zM798.9 443.7h1.00v29.31h-1.00zM817.9 443.7h1.00v29.31h-1.00zM833.9 443.7h1.00v29.31h-1.00zM834.9 443.7h1.00v29.31h-1.00zM836.9 443.7h1.00v29.31h-1.00zM849.9 443.7h1.00v29.31h-1.00zM853.9 443.7h1.00v29.31h-1.00zM859.9 443.7h1.00v29.31h-1.00zM868.9 443.7h1.00v29.31h-1.00zM877.9 443.7h1.00v29.31h-1.00zM888.9 443.7h1.00v29.31h-1.00zM900.0 443.7h1.00v29.31h-1.00zM911.0 443.7h1.00v29.31h-1.00zM930.0 443.7h1.00v29.31h-1.00zM939.0 443.7h1.00v29.31h-1.00zM941.0 443.7h1.00v29.31h-1.00zM942.0 443.7h1.00v29.31h-1.00zM944.0 443.7h1.00v29.31h-1.00zM958.0 443.7h1.00v29.31h-1.00zM960.0 443.7h1.00v29.31h-1.00zM973.0 443.7h1.00v29.31h-1.00zM974.0 443.7h1.00v29.31h-1.00zM977.0 443.7h1.00v29.31h-1.00zM737.9 473.0h1.00v29.31h-1.00zM738.9 473.0h1.00v29.31h-1.00zM742.9 473.0h1.00v29.31h-1.00zM743.9 473.0h1.00v29.31h-1.00zM747.9 473.0h1.00v29.31h-1.00zM756.9 473.0h1.00v29.31h-1.00zM759.9 473.0h1.00v29.31h-1.00zM776.9 473.0h1.00v29.31h-1.00zM780.9 473.0h1.00v29.31h-1.00zM783.9 473.0h1.00v29.31h-1.00zM786.9 473.0h1.00v29.31h-1.00zM787.9 473.0h1.00v29.31h-1.00zM811.9 473.0h1.00v29.31h-1.00zM820.9 473.0h1.00v29.31h-1.00zM821.9 473.0h1.00v29.31h-1.00zM831.9 473.0h1.00v29.31h-1.00zM834.9 473.0h1.00v29.31h-1.00zM838.9 473.0h1.00v29.31h-1.00zM843.9 473.0h1.00v29.31h-1.00zM848.9 473.0h1.00v29.31h-1.00zM852.9 473.0h1.00v29.31h-1.00zM859.9 473.0h1.00v29.31h-1.00zM868.9 473.0h1.00v29.31h-1.00zM876.9 473.0h1.00v29.31h-1.00zM889.9 473.0h1.00v29.31h-1.00zM891.9 473.0h1.00v29.31h-1.00zM900.0 473.0h1.00v29.31h-1.00zM903.0 473.0h1.00v29.31h-1.00zM904.0 473.0h1.00v29.31h-1.00zM906.0 473.0h1.00v29.31h-1.00zM912.0 473.0h1.00v29.31h-1.00zM918.0 473.0h1.00v29.31h-1.00zM923.0 473.0h1.00v29.31h-1.00zM925.0 473.0h1.00v29.31h-1.00zM935.0 473.0h1.00v29.31h-1.00zM940.0 473.0h1.00v29.31h-1.00zM944.0 473.0h1.00v29.31h-1.00zM945.0 473.0h1.00v29.31h-1.00zM948.0 473.0h1.00v29.31h-1.00zM958.0 473.0h1.00v29.31h-1.00zM659.8 502.3h1.00v29.31h-1.00zM664.8 502.3h1.00v29.31h-1.00zM665.8 502.3h1.00v29.31h-1.00zM672.8 502.3h1.00v29.31h-1.00zM673.8 502.3h1.00v29.31h-1.00zM677.8 502.3h1.00v29.31h-1.00zM687.8 502.3h1.00v29.31h-1.00zM699.8 502.3h1.00v29.31h-1.00zM711.8 502.3h1.00v29.31h-1.00zM718.8 502.3h1.00v29.31h-1.00zM723.8 502.3h1.00v29.31h-1.00zM725.8 502.3h1.00v29.31h-1.00zM728.8 502.3h1.00v29.31h-1.00zM729.8 502.3h1.00v29.31h-1.00zM734.9 502.3h1.00v29.31h-1.00zM743.9 502.3h1.00v29.31h-1.00zM757.9 502.3h1.00v29.31h-1.00zM778.9 502.3h1.00v29.31h-1.00zM779.9 502.3h1.00v29.31h-1.00zM797.9 502.3h1.00v29.31h-1.00zM806.9 502.3h1.00v29.31h-1.00zM831.9 502.3h1.00v29.31h-1.00zM833.9 502.3h1.00v29.31h-1.00zM840.9 502.3h1.00v29.31h-1.00zM848.9 502.3h1.00v29.31h-1.00zM863.9 502.3h1.00v29.31h-1.00zM864.9 502.3h1.00v29.31h-1.00zM871.9 502.3h1.00v29.31h-1.00zM873.9 502.3h1.00v29.31h-1.00zM875.9 502.3h1.00v29.31h-1.00zM903.0 502.3h1.00v29.31h-1.00zM908.0 502.3h1.00v29.31h-1.00zM911.0 502.3h1.00v29.31h-1.00zM936.0 502.3h1.00v29.31h-1.00zM947.0 502.3h1.00v29.31h-1.00zM968.0 502.3h1.00v29.31h-1.00zM652.8 531.6h1.00v29.31h-1.00zM653.8 531.6h1.00v29.31h-1.00zM658.8 531.6h1.00v29.31h-1.00zM660.8 531.6h1.00v29.31h-1.00zM676.8 531.6h1.00v29.31h-1.00zM701.8 531.6h1.00v29.31h-1.00zM715.8 531.6h1.00v29.31h-1.00zM762.9 531.6h1.00v29.31h-1.00zM771.9 531.6h1.00v29.31h-1.00zM796.9 531.6h1.00v29.31h-1.00zM798.9 531.6h1.00v29.31h-1.00zM806.9 531.6h1.00v29.31h-1.00zM819.9 531.6h1.00v29.31h-1.00zM879.9 531.6h1.00v29.31h-1.00zM893.9 531.6h1.00v29.31h-1.00zM904.0 531.6h1.00v29.31h-1.00zM912.0 531.6h1.00v29.31h-1.00zM915.0 531.6h1.00v29.31h-1.00zM963.0 531.6h1.00v29.31h-1.00zM969.0 531.6h1.00v29.31h-1.00zM976.0 531.6h1.00v29.31h-1.00zM977.0 531.6h1.00v29.31h-1.00zM659.8 560.9h1.00v29.31h-1.00zM661.8 560.9h1.00v29.31h-1.00zM667.8 560.9h1.00v29.31h-1.00zM671.8 560.9h1.00v29.31h-1.00zM680.8 560.9h1.00v29.31h-1.00zM682.8 560.9h1.00v29.31h-1.00zM688.8 560.9h1.00v29.31h-1.00zM694.8 560.9h1.00v29.31h-1.00zM695.8 560.9h1.00v29.31h-1.00zM696.8 560.9h1.00v29.31h-1.00zM700.8 560.9h1.00v29.31h-1.00zM721.8 560.9h1.00v29.31h-1.00zM731.8 560.9h1.00v29.31h-1.00zM733.8 560.9h1.00v29.31h-1.00zM743.9 560.9h1.00v29.31h-1.00zM755.9 560.9h1.00v29.31h-1.00zM761.9 560.9h1.00v29.31h-1.00zM778.9 560.9h1.00v29.31h-1.00zM788.9 560.9h1.00v29.31h-1.00zM793.9 560.9h1.00v29.31h-1.00zM807.9 560.9h1.00v29.31h-1.00zM818.9 560.9h1.00v29.31h-1.00zM824.9 560.9h1.00v29.31h-1.00zM837.9 560.9h1.00v29.31h-1.00zM843.9 560.9h1.00v29.31h-1.00zM857.9 560.9h1.00v29.31h-1.00zM869.9 560.9h1.00v29.31h-1.00zM887.9 560.9h1.00v29.31h-1.00zM897.0 560.9h1.00v29.31h-1.00zM903.0 560.9h1.00v29.31h-1.00zM661.8 590.2h1.00v29.31h-1.00zM664.8 590.2h1.00v29.31h-1.00zM672.8 590.2h1.00v29.31h-1.00zM686.8 590.2h1.00v29.31h-1.00zM688.8 590.2h1.00v29.31h-1.00zM694.8 590.2h1.00v29.31h-1.00zM701.8 590.2h1.00v29.31h-1.00zM702.8 590.2h1.00v29.31h-1.00zM719.8 590.2h1.00v29.31h-1.00zM724.8 590.2h1.00v29.31h-1.00zM728.8 590.2h1.00v29.31h-1.00zM745.9 590.2h1.00v29.31h-1.00zM757.9 590.2h1.00v29.31h-1.00zM760.9 590.2h1.00v29.31h-1.00zM782.9 590.2h1.00v29.31h-1.00zM801.9 590.2h1.00v29.31h-1.00zM825.9 590.2h1.00v29.31h-1.00zM831.9 590.2h1.00v29.31h-1.00zM835.9 590.2h1.00v29.31h-1.00zM845.9 590.2h1.00v29.31h-1.00zM846.9 590.2h1.00v29.31h-1.00zM851.9 590.2h1.00v29.31h-1.00zM853.9 590.2h1.00v29.31h-1.00zM861.9 590.2h1.00v29.31h-1.00zM880.9 590.2h1.00v29.31h-1.00zM882.9 590.2h1.00v29.31h-1.00zM894.9 590.2h1.00v29.31h-1.00zM897.0 590.2h1.00v29.31h-1.00zM898.0 590.2h1.00v29.31h-1.00zM914.0 590.2h1.00v29.31h-1.00zM935.0 590.2h1.00v29.31h-1.00zM945.0 590.2h1.00v29.31h-1.00zM955.0 590.2h1.00v29.31h-1.00zM956.0 590.2h1.00v29.31h-1.00zM959.0 590.2h1.00v29.31h-1.00zM961.0 590.2h1.00v29.31h-1.00zM963.0 590.2h1.00v29.31h-1.00zM965.0 590.2h1.00v29.31h-1.00zM968.0 590.2h1.00v29.31h-1.00zM664.8 619.5h1.00v29.31h-1.00zM675.8 619.5h1.00v29.31h-1.00zM702.8 619.5h1.00v29.31h-1.00zM716.8 619.5h1.00v29.31h-1.00zM726.8 619.5h1.00v29.31h-1.00zM728.8 619.5h1.00v29.31h-1.00zM735.9 619.5h1.00v29.31h-1.00zM742.9 619.5h1.00v29.31h-1.00zM745.9 619.5h1.00v29.31h-1.00zM751.9 619.5h1.00v29.31h-1.00zM759.9 619.5h1.00v29.31h-1.00zM760.9 619.5h1.00v29.31h-1.00zM771.9 619.5h1.00v29.31h-1.00zM779.9 619.5h1.00v29.31h-1.00zM784.9 619.5h1.00v29.31h-1.00zM798.9 619.5h1.00v29.31h-1.00zM802.9 619.5h1.00v29.31h-1.00zM805.9 619.5h1.00v29.31h-1.00zM821.9 619.5h1.00v29.31h-1.00zM864.9 619.5h1.00v29.31h-1.00zM908.0 619.5h1.00v29.31h-1.00zM914.0 619.5h1.00v29.31h-1.00zM916.0 619.5h1.00v29.31h-1.00zM923.0 619.5h1.00v29.31h-1.00zM951.0 619.5h1.00v29.31h-1.00zM961.0 619.5h1.00v29.31h-1.00zM963.0 619.5h1.00v29.31h-1.00zM654.8 648.8h1.00v29.31h-1.00zM665.8 648.8h1.00v29.31h-1.00zM693.8 648.8h1.00v29.31h-1.00zM695.8 648.8h1.00v29.31h-1.00zM696.8 648.8h1.00v29.31h-1.00zM708.8 648.8h1.00v29.31h-1.00zM710.8 648.8h1.00v29.31h-1.00zM716.8 648.8h1.00v29.31h-1.00zM717.8 648.8h1.00v29.31h-1.00zM721.8 648.8h1.00v29.31h-1.00zM752.9 648.8h1.00v29.31h-1.00zM755.9 648.8h1.00v29.31h-1.00zM797.9 648.8h1.00v29.31h-1.00zM815.9 648.8h1.00v29.31h-1.00zM819.9 648.8h1.00v29.31h-1.00zM835.9 648.8h1.00v29.31h-1.00zM873.9 648.8h1.00v29.31h-1.00zM912.0 648.8h1.00v29.31h-1.00zM941.0 648.8h1.00v29.31h-1.00zM943.0 648.8h1.00v29.31h-1.00zM960.0 648.8h1.00v29.31h-1.00zM968.0 648.8h1.00v29.31h-1.00zM973.0 648.8h1.00v29.31h-1.00zM678.8 678.1h1.00v29.31h-1.00zM713.8 678.1h1.00v29.31h-1.00zM745.9 678.1h1.00v29.31h-1.00zM753.9 678.1h1.00v29.31h-1.00zM756.9 678.1h1.00v29.31h-1.00zM757.9 678.1h1.00v29.31h-1.00zM787.9 678.1h1.00v29.31h-1.00zM789.9 678.1h1.00v29.31h-1.00zM800.9 678.1h1.00v29.31h-1.00zM805.9 678.1h1.00v29.31h-1.00zM806.9 678.1h1.00v29.31h-1.00zM819.9 678.1h1.00v29.31h-1.00zM832.9 678.1h1.00v29.31h-1.00zM838.9 678.1h1.00v29.31h-1.00zM856.9 678.1h1.00v29.31h-1.00zM862.9 678.1h1.00v29.31h-1.00zM863.9 678.1h1.00v29.31h-1.00zM866.9 678.1h1.00v29.31h-1.00zM875.9 678.1h1.00v29.31h-1.00zM877.9 678.1h1.00v29.31h-1.00zM882.9 678.1h1.00v29.31h-1.00zM898.0 678.1h1.00v29.31h-1.00zM910.0 678.1h1.00v29.31h-1.00zM926.0 678.1h1.00v29.31h-1.00zM931.0 678.1h1.00v29.31h-1.00zM956.0 678.1h1.00v29.31h-1.00zM961.0 678.1h1.00v29.31h-1.00zM964.0 678.1h1.00v29.31h-1.00zM967.0 678.1h1.00v29.31h-1.00zM661.8 707.5h1.00v29.31h-1.00zM671.8 707.5h1.00v29.31h-1.00zM749.9 707.5h1.00v29.31h-1.00zM766.9 707.5h1.00v29.31h-1.00zM774.9 707.5h1.00v29.31h-1.00zM775.9 707.5h1.00v29.31h-1.00zM778.9 707.5h1.00v29.31h-1.00zM782.9 707.5h1.00v29.31h-1.00zM790.9 707.5h1.00v29.31h-1.00zM793.9 707.5h1.00v29.31h-1.00zM813.9 707.5h1.00v29.31h-1.00zM814.9 707.5h1.00v29.31h-1.00zM830.9 707.5h1.00v29.31h-1.00zM846.9 707.5h1.00v29.31h-1.00zM868.9 707.5h1.00v29.31h-1.00zM883.9 707.5h1.00v29.31h-1.00zM909.0 707.5h1.00v29.31h-1.00zM917.0 707.5h1.00v29.31h-1.00zM921.0 707.5h1.00v29.31h-1.00zM931.0 707.5h1.00v29.31h-1.00zM941.0 707.5h1.00v29.31h-1.00zM948.0 707.5h1.00v29.31h-1.00zM951.0 707.5h1.00v29.31h-1.00zM962.0 707.5h1.00v29.31h-1.00zM660.8 736.8h1.00v29.31h-1.00zM737.9 736.8h1.00v29.31h-1.00zM741.9 736.8h1.00v29.31h-1.00zM745.9 736.8h1.00v29.31h-1.00zM746.9 736.8h1.00v29.31h-1.00zM753.9 736.8h1.00v29.31h-1.00zM754.9 736.8h1.00v29.31h-1.00zM796.9 736.8h1.00v29.31h-1.00zM809.9 736.8h1.00v29.31h-1.00zM829.9 736.8h1.00v29.31h-1.00zM833.9 736.8h1.00v29.31h-1.00zM839.9 736.8h1.00v29.31h-1.00zM849.9 736.8h1.00v29.31h-1.00zM853.9 736.8h1.00v29.31h-1.00zM856.9 736.8h1.00v29.31h-1.00zM872.9 736.8h1.00v29.31h-1.00zM890.9 736.8h1.00v29.31h-1.00zM917.0 736.8h1.00v29.31h-1.00zM920.0 736.8h1.00v29.31h-1.00zM926.0 736.8h1.00v29.31h-1.00zM947.0 736.8h1.00v29.31h-1.00zM956.0 736.8h1.00v29.31h-1.00zM975.0 736.8h1.00v29.31h-1.00zM743.9 766.1h1.00v29.31h-1.00zM744.9 766.1h1.00v29.31h-1.00zM755.9 766.1h1.00v29.31h-1.00zM759.9 766.1h1.00v29.31h-1.00zM761.9 766.1h1.00v29.31h-1.00zM779.9 766.1h1.00v29.31h-1.00zM782.9 766.1h1.00v29.31h-1.00zM796.9 766.1h1.00v29.31h-1.00zM800.9 766.1h1.00v29.31h-1.00zM809.9 766.1h1.00v29.31h-1.00zM820.9 766.1h1.00v29.31h-1.00zM823.9 766.1h1.00v29.31h-1.00zM832.9 766.1h1.00v29.31h-1.00zM836.9 766.1h1.00v29.31h-1.00zM837.9 766.1h1.00v29.31h-1.00zM843.9 766.1h1.00v29.31h-1.00zM846.9 766.1h1.00v29.31h-1.00zM849.9 766.1h1.00v29.31h-1.00zM852.9 766.1h1.00v29.31h-1.00zM856.9 766.1h1.00v29.31h-1.00zM860.9 766.1h1.00v29.31h-1.00zM866.9 766.1h1.00v29.31h-1.00zM875.9 766.1h1.00v29.31h-1.00zM877.9 766.1h1.00v29.31h-1.00zM895.9 766.1h1.00v29.31h-1.00zM898.0 766.1h1.00v29.31h-1.00zM917.0 766.1h1.00v29.31h-1.00zM946.0 766.1h1.00v29.31h-1.00zM956.0 766.1h1.00v29.31h-1.00zM962.0 766.1h1.00v29.31h-1.00zM964.0 766.1h1.00v29.31h-1.00zM968.0 766.1h1.00v29.31h-1.00zM972.0 766.1h1.00v29.31h-1.00zM977.0 766.1h1.00v29.31h-1.00zM704.8 795.4h1.00v29.31h-1.00zM710.8 795.4h1.00v29.31h-1.00zM719.8 795.4h1.00v29.31h-1.00zM730.8 795.4h1.00v29.31h-1.00zM756.9 795.4h1.00v29.31h-1.00zM792.9 795.4h1.00v29.31h-1.00zM806.9 795.4h1.00v29.31h-1.00zM809.9 795.4h1.00v29.31h-1.00zM814.9 795.4h1.00v29.31h-1.00zM819.9 795.4h1.00v29.31h-1.00zM829.9 795.4h1.00v29.31h-1.00zM831.9 795.4h1.00v29.31h-1.00zM846.9 795.4h1.00v29.31h-1.00zM847.9 795.4h1.00v29.31h-1.00zM848.9 795.4h1.00v29.31h-1.00zM853.9 795.4h1.00v29.31h-1.00zM856.9 795.4h1.00v29.31h-1.00zM858.9 795.4h1.00v29.31h-1.00zM862.9 795.4h1.00v29.31h-1.00zM885.9 795.4h1.00v29.31h-1.00zM898.0 795.4h1.00v29.31h-1.00zM916.0 795.4h1.00v29.31h-1.00zM917.0 795.4h1.00v29.31h-1.00zM922.0 795.4h1.00v29.31h-1.00zM928.0 795.4h1.00v29.31h-1.00zM965.0 795.4h1.00v29.31h-1.00zM972.0 795.4h1.00v29.31h-1.00zM675.8 824.7h1.00v29.31h-1.00zM677.8 824.7h1.00v29.31h-1.00zM682.8 824.7h1.00v29.31h-1.00zM688.8 824.7h1.00v29.31h-1.00zM692.8 824.7h1.00v29.31h-1.00zM695.8 824.7h1.00v29.31h-1.00zM711.8 824.7h1.00v29.31h-1.00zM720.8 824.7h1.00v29.31h-1.00zM722.8 824.7h1.00v29.31h-1.00zM724.8 824.7h1.00v29.31h-1.00zM727.8 824.7h1.00v29.31h-1.00zM731.8 824.7h1.00v29.31h-1.00zM743.9 824.7h1.00v29.31h-1.00zM757.9 824.7h1.00v29.31h-1.00zM758.9 824.7h1.00v29.31h-1.00zM783.9 824.7h1.00v29.31h-1.00zM801.9 824.7h1.00v29.31h-1.00zM805.9 824.7h1.00v29.31h-1.00zM818.9 824.7h1.00v29.31h-1.00zM832.9 824.7h1.00v29.31h-1.00zM868.9 824.7h1.00v29.31h-1.00zM877.9 824.7h1.00v29.31h-1.00zM884.9 824.7h1.00v29.31h-1.00zM888.9 824.7h1.00v29.31h-1.00zM893.9 824.7h1.00v29.31h-1.00zM901.0 824.7h1.00v29.31h-1.00zM936.0 824.7h1.00v29.31h-1.00zM938.0 824.7h1.00v29.31h-1.00zM940.0 824.7h1.00v29.31h-1.00zM956.0 824.7h1.00v29.31h-1.00zM963.0 824.7h1.00v29.31h-1.00zM968.0 824.7h1.00v29.31h-1.00zM661.8 854.0h1.00v29.31h-1.00zM668.8 854.0h1.00v29.31h-1.00zM678.8 854.0h1.00v29.31h-1.00zM684.8 854.0h1.00v29.31h-1.00zM688.8 854.0h1.00v29.31h-1.00zM689.8 854.0h1.00v29.31h-1.00zM691.8 854.0h1.00v29.31h-1.00zM692.8 854.0h1.00v29.31h-1.00zM701.8 854.0h1.00v29.31h-1.00zM706.8 854.0h1.00v29.31h-1.00zM713.8 854.0h1.00v29.31h-1.00zM718.8 854.0h1.00v29.31h-1.00zM721.8 854.0h1.00v29.31h-1.00zM732.8 854.0h1.00v29.31h-1.00zM741.9 854.0h1.00v29.31h-1.00zM749.9 854.0h1.00v29.31h-1.00zM756.9 854.0h1.00v29.31h-1.00zM776.9 854.0h1.00v29.31h-1.00zM788.9 854.0h1.00v29.31h-1.00zM800.9 854.0h1.00v29.31h-1.00zM809.9 854.0h1.00v29.31h-1.00zM832.9 854.0h1.00v29.31h-1.00zM861.9 854.0h1.00v29.31h-1.00zM888.9 854.0h1.00v29.31h-1.00zM891.9 854.0h1.00v29.31h-1.00zM913.0 854.0h1.00v29.31h-1.00zM930.0 854.0h1.00v29.31h-1.00zM939.0 854.0h1.00v29.31h-1.00zM955.0 854.0h1.00v29.31h-1.00zM977.0 854.0h1.00v29.31h-1.00zM652.8 883.3h1.00v29.31h-1.00zM657.8 883.3h1.00v29.31h-1.00zM658.8 883.3h1.00v29.31h-1.00zM660.8 883.3h1.00v29.31h-1.00zM667.8 883.3h1.00v29.31h-1.00zM669.8 883.3h1.00v29.31h-1.00zM673.8 883.3h1.00v29.31h-1.00zM674.8 883.3h1.00v29.31h-1.00zM701.8 883.3h1.00v29.31h-1.00zM710.8 883.3h1.00v29.31h-1.00zM720.8 883.3h1.00v29.31h-1.00zM749.9 883.3h1.00v29.31h-1.00zM754.9 883.3h1.00v29.31h-1.00zM759.9 883.3h1.00v29.31h-1.00zM764.9 883.3h1.00v29.31h-1.00zM766.9 883.3h1.00v29.31h-1.00zM788.9 883.3h1.00v29.31h-1.00zM791.9 883.3h1.00v29.31h-1.00zM793.9 883.3h1.00v29.31h-1.00zM798.9 883.3h1.00v29.31h-1.00zM811.9 883.3h1.00v29.31h-1.00zM824.9 883.3h1.00v29.31h-1.00zM829.9 883.3h1.00v29.31h-1.00zM832.9 883.3h1.00v29.31h-1.00zM843.9 883.3h1.00v29.31h-1.00zM850.9 883.3h1.00v29.31h-1.00zM867.9 883.3h1.00v29.31h-1.00zM877.9 883.3h1.00v29.31h-1.00zM892.9 883.3h1.00v29.31h-1.00zM893.9 883.3h1.00v29.31h-1.00zM901.0 883.3h1.00v29.31h-1.00zM902.0 883.3h1.00v29.31h-1.00zM903.0 883.3h1.00v29.31h-1.00zM913.0 883.3h1.00v29.31h-1.00zM924.0 883.3h1.00v29.31h-1.00zM942.0 883.3h1.00v29.31h-1.00zM948.0 883.3h1.00v29.31h-1.00z"/>
<path fill="#E0E0FF" d="M671.8 238.5h1.00v29.31h-1.00zM675.8 238.5h1.00v29.31h-1.00zM689.8 238.5h1.00v29.31h-1.00zM696.8 238.5h1.00v29.31h-1.00zM701.8 238.5h1.00v29.31h-1.00zM713.8 238.5h1.00v29.31h-1.00zM735.9 238.5h1.00v29.31h-1.00zM781.9 238.5h1.00v29.31h-1.00zM792.9 238.5h1.00v29.31h-1.00zM795.9 238.5h1.00v29.31h-1.00zM814.9 238.5h1.00v29.31h-1.00zM823.9 238.5h1.00v29.31h-1.00zM875.9 238.5h1.00v29.31h-1.00zM938.0 238.5h1.00v29.31h-1.00zM952.0 238.5h1.00v29.31h-1.00zM657.8 267.8h1.00v29.31h-1.00zM662.8 267.8h1.00v29.31h-1.00zM663.8 267.8h1.00v29.31h-1.00zM668.8 267.8h1.00v29.31h-1.00zM671.8 267.8h1.00v29.31h-1.00zM674.8 267.8h1.00v29.31h-1.00zM687.8 267.8h1.00v29.31h-1.00zM690.8 267.8h1.00v29.31h-1.00zM701.8 267.8h1.00v29.31h-1.00zM705.8 267.8h1.00v29.31h-1.00zM709.8 267.8h1.00v29.31h-1.00zM713.8 267.8h1.00v29.31h-1.00zM715.8 267.8h1.00v29.31h-1.00zM724.8 267.8h1.00v29.31h-1.00zM732.8 267.8h1.00v29.31h-1.00zM734.9 267.8h1.00v29.31h-1.00zM783.9 267.8h1.00v29.31h-1.00zM822.9 267.8h1.00v29.31h-1.00zM859.9 267.8h1.00v29.31h-1.00zM863.9 267.8h1.00v29.31h-1.00zM865.9 267.8h1.00v29.31h-1.00zM880.9 267.8h1.00v29.31h-1.00zM936.0 267.8h1.00v29.31h-1.00zM963.0 267.8h1.00v29.31h-1.00zM657.8 297.1h1.00v29.31h-1.00zM668.8 297.1h1.00v29.31h-1.00zM671.8 297.1h1.00v29.31h-1.00zM686.8 297.1h1.00v29.31h-1.00zM687.8 297.1h1.00v29.31h-1.00zM696.8 297.1h1.00v29.31h-1.00zM710.8 297.1h1.00v29.31h-1.00zM712.8 297.1h1.00v29.31h-1.00zM714.8 297.1h1.00v29.31h-1.00zM728.8 297.1h1.00v29.31h-1.00zM754.9 297.1h1.00v29.31h-1.00zM779.9 297.1h1.00v29.31h-1.00zM807.9 297.1h1.00v29.31h-1.00zM821.9 297.1h1.00v29.31h-1.00zM907.0 297.1h1.00v29.31h-1.00zM927.0 297.1h1.00v29.31h-1.00zM963.0 297.1h1.00v29.31h-1.00zM667.8 326.4h1.00v29.31h-1.00zM673.8 326.4h1.00v29.31h-1.00zM674.8 326.4h1.00v29.31h-1.00zM677.8 326.4h1.00v29.31h-1.00zM679.8 326.4h1.00v29.31h-1.00zM681.8 326.4h1.00v29.31h-1.00zM687.8 326.4h1.00v29.31h-1.00zM690.8 326.4h1.00v29.31h-1.00zM695.8 326.4h1.00v29.31h-1.00zM709.8 326.4h1.00v29.31h-1.00zM723.8 326.4h1.00v29.31h-1.00zM724.8 326.4h1.00v29.31h-1.00zM729.8 326.4h1.00v29.31h-1.00zM738.9 326.4h1.00v29.31h-1.00zM790.9 326.4h1.00v29.31h-1.00zM836.9 326.4h1.00v29.31h-1.00zM854.9 326.4h1.00v29.31h-1.00zM863.9 326.4h1.00v29.31h-1.00zM880.9 326.4h1.00v29.31h-1.00zM657.8 355.7h1.00v29.31h-1.00zM662.8 355.7h1.00v29.31h-1.00zM674.8 355.7h1.00v29.31h-1.00zM677.8 355.7h1.00v29.31h-1.00zM681.8 355.7h1.00v29.31h-1.00zM682.8 355.7h1.00v29.31h-1.00zM683.8 355.7h1.00v29.31h-1.00zM689.8 355.7h1.00v29.31h-1.00zM695.8 355.7h1.00v29.31h-1.00zM701.8 355.7h1.00v29.31h-1.00zM713.8 355.7h1.00v29.31h-1.00zM725.8 355.7h1.00v29.31h-1.00zM726.8 355.7h1.00v29.31h-1.00zM727.8 355.7h1.00v29.31h-1.00zM730.8 355.7h1.00v29.31h-1.00zM732.8 355.7h1.00v29.31h-1.00zM751.9 355.7h1.00v29.31h-1.00zM755.9 355.7h1.00v29.31h-1.00zM769.9 355.7h1.00v29.31h-1.00zM842.9 355.7h1.00v29.31h-1.00zM843.9 355.7h1.00v29.31h-1.00zM931.0 355.7h1.00v29.31h-1.00zM971.0 355.7h1.00v29.31h-1.00zM668.8 385.0h1.00v29.31h-1.00zM677.8 385.0h1.00v29.31h-1.00zM681.8 385.0h1.00v29.31h-1.00zM689.8 385.0h1.00v29.31h-1.00zM690.8 385.0h1.00v29.31h-1.00zM704.8 385.0h1.00v29.31h-1.00zM708.8 385.0h1.00v29.31h-1.00zM714.8 385.0h1.00v29.31h-1.00zM717.8 385.0h1.00v29.31h-1.00zM721.8 385.0h1.00v29.31h-1.00zM723.8 385.0h1.00v29.31h-1.00zM728.8 385.0h1.00v29.31h-1.00zM734.9 385.0h1.00v29.31h-1.00zM737.9 385.0h1.00v29.31h-1.00zM783.9 385.0h1.00v29.31h-1.00zM785.9 385.0h1.00v29.31h-1.00zM847.9 385.0h1.00v29.31h-1.00zM893.9 385.0h1.00v29.31h-1.00zM940.0 385.0h1.00v29.31h-1.00zM961.0 385.0h1.00v29.31h-1.00zM655.8 414.4h1.00v29.31h-1.00zM683.8 414.4h1.00v29.31h-1.00zM700.8 414.4h1.00v29.31h-1.00zM711.8 414.4h1.00v29.31h-1.00zM716.8 414.4h1.00v29.31h-1.00zM720.8 414.4h1.00v29.31h-1.00zM722.8 414.4h1.00v29.31h-1.00zM734.9 414.4h1.00v29.31h-1.00zM742.9 414.4h1.00v29.31h-1.00zM783.9 414.4h1.00v29.31h-1.00zM808.9 414.4h1.00v29.31h-1.00zM877.9 414.4h1.00v29.31h-1.00zM899.0 414.4h1.00v29.31h-1.00zM974.0 414.4h1.00v29.31h-1.00zM652.8 443.7h1.00v29.31h-1.00zM653.8 443.7h1.00v29.31h-1.00zM654.8 443.7h1.00v29.31h-1.00zM658.8 443.7h1.00v29.31h-1.00zM660.8 443.7h1.00v29.31h-1.00zM664.8 443.7h1.00v29.31h-1.00zM665.8 443.7h1.00v29.31h-1.00zM667.8 443.7h1.00v29.31h-1.00zM668.8 443.7h1.00v29.31h-1.00zM672.8 443.7h1.00v29.31h-1.00zM676.8 443.7h1.00v29.31h-1.00zM681.8 443.7h1.00v29.31h-1.00zM684.8 443.7h1.00v29.31h-1.00zM686.8 443.7h1.00v29.31h-1.00zM687.8 443.7h1.00v29.31h-1.00zM688.8 443.7h1.00v29.31h-1.00zM690.8 443.7h1.00v29.31h-1.00zM691.8 443.7h1.00v29.31h-1.00zM694.8 443.7h1.00v29.31h-1.00zM696.8 443.7h1.00v29.31h-1.00zM701.8 443.7h1.00v29.31h-1.00zM702.8 443.7h1.00v29.31h-1.00zM703.8 443.7h1.00v29.31h-1.00zM712.8 443.7h1.00v29.31h-1.00zM713.8 443.7h1.00v29.31h-1.00zM715.8 443.7h1.00v29.31h-1.00zM719.8 443.7h1.00v29.31h-1.00zM720.8 443.7h1.00v29.31h-1.00zM726.8 443.7h1.00v29.31h-1.00zM727.8 443.7h1.00v29.31h-1.00zM728.8 443.7h1.00v29.31h-1.00zM735.9 443.7h1.00v29.31h-1.00zM652.8 473.0h1.00v29.31h-1.00zM656.8 473.0h1.00v29.31h-1.00zM657.8 473.0h1.00v29.31h-1.00zM662.8 473.0h1.00v29.31h-1.00zM665.8 473.0h1.00v29.31h-1.00zM667.8 473.0h1.00v29.31h-1.00zM672.8 473.0h1.00v29.31h-1.00zM673.8 473.0h1.00v29.31h-1.00zM676.8 473.0h1.00v29.31h-1.00zM683.8 473.0h1.00v29.31h-1.00zM684.8 473.0h1.00v29.31h-1.00zM686.8 473.0h1.00v29.31h-1.00zM689.8 473.0h1.00v29.31h-1.00zM690.8 473.0h1.00v29.31h-1.00zM692.8 473.0h1.00v29.31h-1.00zM693.8 473.0h1.00v29.31h-1.00zM697.8 473.0h1.00v29.31h-1.00zM699.8 473.0h1.00v29.31h-1.00zM701.8 473.0h1.00v29.31h-1.00zM705.8 473.0h1.00v29.31h-1.00zM707.8 473.0h1.00v29.31h-1.00zM708.8 473.0h1.00v29.31h-1.00zM709.8 473.0h1.00v29.31h-1.00zM712.8 473.0h1.00v29.31h-1.00zM717.8 473.0h1.00v29.31h-1.00zM718.8 473.0h1.00v29.31h-1.00zM720.8 473.0h1.00v29.31h-1.00zM725.8 473.0h1.00v29.31h-1.00zM728.8 473.0h1.00v29.31h-1.00zM731.8 473.0h1.00v29.31h-1.00zM870.9 473.0h1.00v29.31h-1.00zM947.0 473.0h1.00v29.31h-1.00zM662.8 502.3h1.00v29.31h-1.00zM761.9 502.3h1.00v29.31h-1.00zM766.9 502.3h1.00v29.31h-1.00zM770.9 502.3h1.00v29.31h-1.00zM775.9 502.3h1.00v29.31h-1.00zM809.9 502.3h1.00v29.31h-1.00zM842.9 502.3h1.00v29.31h-1.00zM866.9 502.3h1.00v29.31h-1.00zM879.9 502.3h1.00v29.31h-1.00zM885.9 502.3h1.00v29.31h-1.00zM920.0 502.3h1.00v29.31h-1.00zM921.0 502.3h1.00v29.31h-1.00zM930.0 502.3h1.00v29.31h-1.00zM933.0 502.3h1.00v29.31h-1.00zM940.0 502.3h1.00v29.31h-1.00zM952.0 502.3h1.00v29.31h-1.00zM955.0 502.3h1.00v29.31h-1.00zM977.0 502.3h1.00v29.31h-1.00zM745.9 531.6h1.00v29.31h-1.00zM766.9 531.6h1.00v29.31h-1.00zM770.9 531.6h1.00v29.31h-1.00zM794.9 531.6h1.00v29.31h-1.00zM809.9 531.6h1.00v29.31h-1.00zM850.9 531.6h1.00v29.31h-1.00zM862.9 531.6h1.00v29.31h-1.00zM878.9 531.6h1.00v29.31h-1.00zM892.9 531.6h1.00v29.31h-1.00zM894.9 531.6h1.00v29.31h-1.00zM907.0 531.6h1.00v29.31h-1.00zM931.0 531.6h1.00v29.31h-1.00zM938.0 531.6h1.00v29.31h-1.00zM942.0 531.6h1.00v29.31h-1.00zM751.9 560.9h1.00v29.31h-1.00zM759.9 560.9h1.00v29.31h-1.00zM782.9 560.9h1.00v29.31h-1.00zM808.9 560.9h1.00v29.31h-1.00zM820.9 560.9h1.00v29.31h-1.00zM847.9 560.9h1.00v29.31h-1.00zM866.9 560.9h1.00v29.31h-1.00zM888.9 560.9h1.00v29.31h-1.00zM923.0 560.9h1.00v29.31h-1.00zM928.0 560.9h1.00v29.31h-1.00zM937.0 560.9h1.00v29.31h-1.00zM958.0 560.9h1.00v29.31h-1.00zM713.8 590.2h1.00v29.31h-1.00zM743.9 590.2h1.00v29.31h-1.00zM755.9 590.2h1.00v29.31h-1.00zM767.9 590.2h1.00v29.31h-1.00zM787.9 590.2h1.00v29.31h-1.00zM799.9 590.2h1.00v29.31h-1.00zM804.9 590.2h1.00v29.31h-1.00zM806.9 590.2h1.00v29.31h-1.00zM816.9 590.2h1.00v29.31h-1.00zM884.9 590.2h1.00v29.31h-1.00zM891.9 590.2h1.00v29.31h-1.00zM926.0 590.2h1.00v29.31h-1.00zM938.0 590.2h1.00v29.31h-1.00zM957.0 590.2h1.00v29.31h-1.00zM969.0 590.2h1.00v29.31h-1.00zM740.9 619.5h1.00v29.31h-1.00zM765.9 619.5h1.00v29.31h-1.00zM767.9 619.5h1.00v29.31h-1.00zM810.9 619.5h1.00v29.31h-1.00zM817.9 619.5h1.00v29.31h-1.00zM830.9 619.5h1.00v29.31h-1.00zM838.9 619.5h1.00v29.31h-1.00zM840.9 619.5h1.00v29.31h-1.00zM862.9 619.5h1.00v29.31h-1.00zM920.0 619.5h1.00v29.31h-1.00zM934.0 619.5h1.00v29.31h-1.00zM938.0 619.5h1.00v29.31h-1.00zM947.0 619.5h1.00v29.31h-1.00zM973.0 619.5h1.00v29.31h-1.00zM975.0 619.5h1.00v29.31h-1.00zM747.9 648.8h1.00v29.31h-1.00zM765.9 648.8h1.00v29.31h-1.00zM785.9 648.8h1.00v29.31h-1.00zM792.9 648.8h1.00v29.31h-1.00zM814.9 648.8h1.00v29.31h-1.00zM827.9 648.8h1.00v29.31h-1.00zM829.9 648.8h1.00v29.31h-1.00zM836.9 648.8h1.00v29.31h-1.00zM841.9 648.8h1.00v29.31h-1.00zM862.9 648.8h1.00v29.31h-1.00zM863.9 648.8h1.00v29.31h-1.00zM865.9 648.8h1.00v29.31h-1.00zM872.9 648.8h1.00v29.31h-1.00zM884.9 648.8h1.00v29.31h-1.00zM906.0 648.8h1.00v29.31h-1.00zM913.0 648.8h1.00v29.31h-1.00zM937.0 648.8h1.00v29.31h-1.00zM938.0 648.8h1.00v29.31h-1.00zM947.0 648.8h1.00v29.31h-1.00zM652.8 678.1h1.00v29.31h-1.00zM671.8 678.1h1.00v29.31h-1.00zM679.8 678.1h1.00v29.31h-1.00zM681.8 678.1h1.00v29.31h-1.00zM701.8 678.1h1.00v29.31h-1.00zM705.8 678.1h1.00v29.31h-1.00zM709.8 678.1h1.00v29.31h-1.00zM714.8 678.1h1.00v29.31h-1.00zM720.8 678.1h1.00v29.31h-1.00zM726.8 678.1h1.00v29.31h-1.00zM728.8 678.1h1.00v29.31h-1.00zM738.9 678.1h1.00v29.31h-1.00zM750.9 678.1h1.00v29.31h-1.00zM767.9 678.1h1.00v29.31h-1.00zM770.9 678.1h1.00v29.31h-1.00zM812.9 678.1h1.00v29.31h-1.00zM835.9 678.1h1.00v29.31h-1.00zM839.9 678.1h1.00v29.31h-1.00zM933.0 678.1h1.00v29.31h-1.00zM945.0 678.1h1.00v29.31h-1.00zM959.0 678.1h1.00v29.31h-1.00zM960.0 678.1h1.00v29.31h-1.00zM965.0 678.1h1.00v29.31h-1.00zM665.8 707.5h1.00v29.31h-1.00zM668.8 707.5h1.00v29.31h-1.00zM672.8 707.5h1.00v29.31h-1.00zM692.8 707.5h1.00v29.31h-1.00zM703.8 707.5h1.00v29.31h-1.00zM705.8 707.5h1.00v29.31h-1.00zM706.8 707.5h1.00v29.31h-1.00zM713.8 707.5h1.00v29.31h-1.00zM733.8 707.5h1.00v29.31h-1.00zM853.9 707.5h1.00v29.31h-1.00zM657.8 736.8h1.00v29.31h-1.00zM661.8 736.8h1.00v29.31h-1.00zM662.8 736.8h1.00v29.31h-1.00zM665.8 736.8h1.00v29.31h-1.00zM681.8 736.8h1.00v29.31h-1.00zM686.8 736.8h1.00v29.31h-1.00zM692.8 736.8h1.00v29.31h-1.00zM697.8 736.8h1.00v29.31h-1.00zM712.8 736.8h1.00v29.31h-1.00zM720.8 736.8h1.00v29.31h-1.00zM729.8 736.8h1.00v29.31h-1.00zM800.9 736.8h1.00v29.31h-1.00zM921.0 736.8h1.00v29.31h-1.00zM945.0 736.8h1.00v29.31h-1.00zM974.0 736.8h1.00v29.31h-1.00zM654.8 766.1h1.00v29.31h-1.00zM655.8 766.1h1.00v29.31h-1.00zM659.8 766.1h1.00v29.31h-1.00zM672.8 766.1h1.00v29.31h-1.00zM676.8 766.1h1.00v29.31h-1.00zM682.8 766.1h1.00v29.31h-1.00zM690.8 766.1h1.00v29.31h-1.00zM693.8 766.1h1.00v29.31h-1.00zM696.8 766.1h1.00v29.31h-1.00zM697.8 766.1h1.00v29.31h-1.00zM712.8 766.1h1.00v29.31h-1.00zM714.8 766.1h1.00v29.31h-1.00zM716.8 766.1h1.00v29.31h-1.00zM730.8 766.1h1.00v29.31h-1.00zM739.9 766.1h1.00v29.31h-1.00zM781.9 766.1h1.00v29.31h-1.00zM811.9 766.1h1.00v29.31h-1.00zM830.9 766.1h1.00v29.31h-1.00zM835.9 766.1h1.00v29.31h-1.00zM911.0 766.1h1.00v29.31h-1.00zM940.0 766.1h1.00v29.31h-1.00zM952.0 766.1h1.00v29.31h-1.00zM953.0 766.1h1.00v29.31h-1.00zM656.8 795.4h1.00v29.31h-1.00zM657.8 795.4h1.00v29.31h-1.00zM665.8 795.4h1.00v29.31h-1.00zM695.8 795.4h1.00v29.31h-1.00zM701.8 795.4h1.00v29.31h-1.00zM702.8 795.4h1.00v29.31h-1.00zM703.8 795.4h1.00v29.31h-1.00zM712.8 795.4h1.00v29.31h-1.00zM716.8 795.4h1.00v29.31h-1.00zM717.8 795.4h1.00v29.31h-1.00zM731.8 795.4h1.00v29.31h-1.00zM732.8 795.4h1.00v29.31h-1.00zM739.9 795.4h1.00v29.31h-1.00zM768.9 795.4h1.00v29.31h-1.00zM774.9 795.4h1.00v29.31h-1.00zM778.9 795.4h1.00v29.31h-1.00zM888.9 795.4h1.00v29.31h-1.00zM949.0 795.4h1.00v29.31h-1.00zM954.0 795.4h1.00v29.31h-1.00zM955.0 795.4h1.00v29.31h-1.00zM746.9 824.7h1.00v29.31h-1.00zM762.9 824.7h1.00v29.31h-1.00zM771.9 824.7h1.00v29.31h-1.00zM839.9 824.7h1.00v29.31h-1.00zM883.9 824.7h1.00v29.31h-1.00zM889.9 824.7h1.00v29.31h-1.00zM891.9 824.7h1.00v29.31h-1.00zM910.0 824.7h1.00v29.31h-1.00zM958.0 824.7h1.00v29.31h-1.00zM959.0 824.7h1.00v29.31h-1.00zM967.0 824.7h1.00v29.31h-1.00zM654.8 854.0h1.00v29.31h-1.00zM677.8 854.0h1.00v29.31h-1.00zM703.8 854.0h1.00v29.31h-1.00zM758.9 854.0h1.00v29.31h-1.00zM778.9 854.0h1.00v29.31h-1.00zM817.9 854.0h1.00v29.31h-1.00zM825.9 854.0h1.00v29.31h-1.00zM929.0 854.0h1.00v29.31h-1.00zM934.0 854.0h1.00v29.31h-1.00zM935.0 854.0h1.00v29.31h-1.00zM937.0 854.0h1.00v29.31h-1.00zM736.9 883.3h1.00v29.31h-1.00zM739.9 883.3h1.00v29.31h-1.00zM747.9 883.3h1.00v29.31h-1.00zM775.9 883.3h1.00v29.31h-1.00zM780.9 883.3h1.00v29.31h-1.00zM841.9 883.3h1.00v29.31h-1.00zM873.9 883.3h1.00v29.31h-1.00zM882.9 883.3h1.00v29.31h-1.00zM905.0 883.3h1.00v29.31h-1.00zM911.0 883.3h1.00v29.31h-1.00zM934.0 883.3h1.00v29.31h-1.00zM969.0 883.3h1.00v29.31h-1.00zM971.0 883.3h1.00v29.31h-1.00z"/>
<path fill="#FFEBEB" d="M677.8 238.5h1.00v29.31h-1.00zM686.8 238.5h1.00v29.31h-1.00zM731.8 238.5h1.00v29.31h-1.00zM740.9 238.5h1.00v29.31h-1.00zM746.9 238.5h1.00v29.31h-1.00zM750.9 238.5h1.00v29.31h-1.00zM755.9 238.5h1.00v29.31h-1.00zM763.9 238.5h1.00v29.31h-1.00zM775.9 238.5h1.00v29.31h-1.00zM776.9 238.5h1.00v29.31h-1.00zM786.9 238.5h1.00v29.31h-1.00zM812.9 238.5h1.00v29.31h-1.00zM819.9 238.5h1.00v29.31h-1.00zM824.9 238.5h1.00v29.31h-1.00zM833.9 238.5h1.00v29.31h-1.00zM837.9 238.5h1.00v29.31h-1.00zM841.9 238.5h1.00v29.31h-1.00zM864.9 238.5h1.00v29.31h-1.00zM872.9 238.5h1.00v29.31h-1.00zM879.9 238.5h1.00v29.31h-1.00zM885.9 238.5h1.00v29.31h-1.00zM889.9 238.5h1.00v29.31h-1.00zM902.0 238.5h1.00v29.31h-1.00zM916.0 238.5h1.00v29.31h-1.00zM920.0 238.5h1.00v29.31h-1.00zM926.0 238.5h1.00v29.31h-1.00zM931.0 238.5h1.00v29.31h-1.00zM939.0 238.5h1.00v29.31h-1.00zM953.0 238.5h1.00v29.31h-1.00zM954.0 238.5h1.00v29.31h-1.00zM959.0 238.5h1.00v29.31h-1.00zM962.0 238.5h1.00v29.31h-1.00zM975.0 238.5h1.00v29.31h-1.00zM660.8 267.8h1.00v29.31h-1.00zM716.8 267.8h1.00v29.31h-1.00zM739.9 267.8h1.00v29.31h-1.00zM747.9 267.8h1.00v29.31h-1.00zM759.9 267.8h1.00v29.31h-1.00zM767.9 267.8h1.00v29.31h-1.00zM787.9 267.8h1.00v29.31h-1.00zM788.9 267.8h1.00v29.31h-1.00zM791.9 267.8h1.00v29.31h-1.00zM794.9 267.8h1.00v29.31h-1.00zM825.9 267.8h1.00v29.31h-1.00zM834.9 267.8h1.00v29.31h-1.00zM841.9 267.8h1.00v29.31h-1.00zM844.9 267.8h1.00v29.31h-1.00zM856.9 267.8h1.00v29.31h-1.00zM864.9 267.8h1.00v29.31h-1.00zM868.9 267.8h1.00v29.31h-1.00zM883.9 267.8h1.00v29.31h-1.00zM888.9 267.8h1.00v29.31h-1.00zM901.0 267.8h1.00v29.31h-1.00zM902.0 267.8h1.00v29.31h-1.00zM906.0 267.8h1.00v29.31h-1.00zM908.0 267.8h1.00v29.31h-1.00zM910.0 267.8h1.00v29.31h-1.00zM923.0 267.8h1.00v29.31h-1.00zM941.0 267.8h1.00v29.31h-1.00zM942.0 267.8h1.00v29.31h-1.00zM946.0 267.8h1.00v29.31h-1.00zM950.0 267.8h1.00v29.31h-1.00zM958.0 267.8h1.00v29.31h-1.00zM960.0 267.8h1.00v29.31h-1.00zM966.0 267.8h1.00v29.31h-1.00zM665.8 297.1h1.00v29.31h-1.00zM676.8 297.1h1.00v29.31h-1.00zM682.8 297.1h1.00v29.31h-1.00zM716.8 297.1h1.00v29.31h-1.00zM718.8 297.1h1.00v29.31h-1.00zM721.8 297.1h1.00v29.31h-1.00zM741.9 297.1h1.00v29.31h-1.00zM744.9 297.1h1.00v29.31h-1.00zM748.9 297.1h1.00v29.31h-1.00zM763.9 297.1h1.00v29.31h-1.00zM766.9 297.1h1.00v29.31h-1.00zM773.9 297.1h1.00v29.31h-1.00zM776.9 297.1h1.00v29.31h-1.00zM782.9 297.1h1.00v29.31h-1.00zM784.9 297.1h1.00v29.31h-1.00zM803.9 297.1h1.00v29.31h-1.00zM818.9 297.1h1.00v29.31h-1.00zM843.9 297.1h1.00v29.31h-1.00zM845.9 297.1h1.00v29.31h-1.00zM858.9 297.1h1.00v29.31h-1.00zM860.9 297.1h1.00v29.31h-1.00zM871.9 297.1h1.00v29.31h-1.00zM882.9 297.1h1.00v29.31h-1.00zM886.9 297.1h1.00v29.31h-1.00zM888.9 297.1h1.00v29.31h-1.00zM897.0 297.1h1.00v29.31h-1.00zM913.0 297.1h1.00v29.31h-1.00zM919.0 297.1h1.00v29.31h-1.00zM946.0 297.1h1.00v29.31h-1.00zM968.0 297.1h1.00v29.31h-1.00zM971.0 297.1h1.00v29.31h-1.00zM975.0 297.1h1.00v29.31h-1.00zM657.8 326.4h1.00v29.31h-1.00zM669.8 326.4h1.00v29.31h-1.00zM720.8 326.4h1.00v29.31h-1.00zM727.8 326.4h1.00v29.31h-1.00zM740.9 326.4h1.00v29.31h-1.00zM745.9 326.4h1.00v29.31h-1.00zM755.9 326.4h1.00v29.31h-1.00zM758.9 326.4h1.00v29.31h-1.00zM763.9 326.4h1.00v29.31h-1.00zM767.9 326.4h1.00v29.31h-1.00zM775.9 326.4h1.00v29.31h-1.00zM780.9 326.4h1.00v29.31h-1.00zM787.9 326.4h1.00v29.31h-1.00zM793.9 326.4h1.00v29.31h-1.00zM794.9 326.4h1.00v29.31h-1.00zM803.9 326.4h1.00v29.31h-1.00zM812.9 326.4h1.00v29.31h-1.00zM821.9 326.4h1.00v29.31h-1.00zM825.9 326.4h1.00v29.31h-1.00zM826.9 326.4h1.00v29.31h-1.00zM849.9 326.4h1.00v29.31h-1.00zM856.9 326.4h1.00v29.31h-1.00zM866.9 326.4h1.00v29.31h-1.00zM872.9 326.4h1.00v29.31h-1.00zM879.9 326.4h1.00v29.31h-1.00zM881.9 326.4h1.00v29.31h-1.00zM886.9 326.4h1.00v29.31h-1.00zM900.0 326.4h1.00v29.31h-1.00zM901.0 326.4h1.00v29.31h-1.00zM902.0 326.4h1.00v29.31h-1.00zM909.0 326.4h1.00v29.31h-1.00zM921.0 326.4h1.00v29.31h-1.00zM928.0 326.4h1.00v29.31h-1.00zM938.0 326.4h1.00v29.31h-1.00zM942.0 326.4h1.00v29.31h-1.00zM948.0 326.4h1.00v29.31h-1.00zM950.0 326.4h1.00v29.31h-1.00zM956.0 326.4h1.00v29.31h-1.00zM958.0 326.4h1.00v29.31h-1.00zM959.0 326.4h1.00v29.31h-1.00zM973.0 326.4h1.00v29.31h-1.00zM678.8 355.7h1.00v29.31h-1.00zM697.8 355.7h1.00v29.31h-1.00zM745.9 355.7h1.00v29.31h-1.00zM754.9 355.7h1.00v29.31h-1.00zM759.9 355.7h1.00v29.31h-1.00zM762.9 355.7h1.00v29.31h-1.00zM765.9 355.7h1.00v29.31h-1.00zM772.9 355.7h1.00v29.31h-1.00zM774.9 355.7h1.00v29.31h-1.00zM776.9 355.7h1.00v29.31h-1.00zM796.9 355.7h1.00v29.31h-1.00zM801.9 355.7h1.00v29.31h-1.00zM810.9 355.7h1.00v29.31h-1.00zM812.9 355.7h1.00v29.31h-1.00zM814.9 355.7h1.00v29.31h-1.00zM816.9 355.7h1.00v29.31h-1.00zM830.9 355.7h1.00v29.31h-1.00zM849.9 355.7h1.00v29.31h-1.00zM854.9 355.7h1.00v29.31h-1.00zM859.9 355.7h1.00v29.31h-1.00zM862.9 355.7h1.00v29.31h-1.00zM864.9 355.7h1.00v29.31h-1.00zM870.9 355.7h1.00v29.31h-1.00zM874.9 355.7h1.00v29.31h-1.00zM875.9 355.7h1.00v29.31h-1.00zM877.9 355.7h1.00v29.31h-1.00zM878.9 355.7h1.00v29.31h-1.00zM907.0 355.7h1.00v29.31h-1.00zM917.0 355.7h1.00v29.31h-1.00zM928.0 355.7h1.00v29.31h-1.00zM930.0 355.7h1.00v29.31h-1.00zM950.0 355.7h1.00v29.31h-1.00zM955.0 355.7h1.00v29.31h-1.00zM958.0 355.7h1.00v29.31h-1.00zM962.0 355.7h1.00v29.31h-1.00zM970.0 355.7h1.00v29.31h-1.00zM972.0 355.7h1.00v29.31h-1.00zM974.0 355.7h1.00v29.31h-1.00zM667.8 385.0h1.00v29.31h-1.00zM691.8 385.0h1.00v29.31h-1.00zM694.8 385.0h1.00v29.31h-1.00zM707.8 385.0h1.00v29.31h-1.00zM746.9 385.0h1.00v29.31h-1.00zM749.9 385.0h1.00v29.31h-1.00zM753.9 385.0h1.00v29.31h-1.00zM780.9 385.0h1.00v29.31h-1.00zM789.9 385.0h1.00v29.31h-1.00zM802.9 385.0h1.00v29.31h-1.00zM813.9 385.0h1.00v29.31h-1.00zM825.9 385.0h1.00v29.31h-1.00zM828.9 385.0h1.00v29.31h-1.00zM830.9 385.0h1.00v29.31h-1.00zM838.9 385.0h1.00v29.31h-1.00zM839.9 385.0h1.00v29.31h-1.00zM865.9 385.0h1.00v29.31h-1.00zM866.9 385.0h1.00v29.31h-1.00zM873.9 385.0h1.00v29.31h-1.00zM876.9 385.0h1.00v29.31h-1.00zM894.9 385.0h1.00v29.31h-1.00zM904.0 385.0h1.00v29.31h-1.00zM917.0 385.0h1.00v29.31h-1.00zM918.0 385.0h1.00v29.31h-1.00zM923.0 385.0h1.00v29.31h-1.00zM936.0 385.0h1.00v29.31h-1.00zM941.0 385.0h1.00v29.31h-1.00zM942.0 385.0h1.00v29.31h-1.00zM947.0 385.0h1.00v29.31h-1.00zM948.0 385.0h1.00v29.31h-1.00zM950.0 385.0h1.00v29.31h-1.00zM960.0 385.0h1.00v29.31h-1.00zM969.0 385.0h1.00v29.31h-1.00zM971.0 385.0h1.00v29.31h-1.00zM667.8 414.4h1.00v29.31h-1.00zM676.8 414.4h1.00v29.31h-1.00zM694.8 414.4h1.00v29.31h-1.00zM696.8 414.4h1.00v29.31h-1.00zM730.8 414.4h1.00v29.31h-1.00zM759.9 414.4h1.00v29.31h-1.00zM769.9 414.4h1.00v29.31h-1.00zM770.9 414.4h1.00v29.31h-1.00zM773.9 414.4h1.00v29.31h-1.00zM779.9 414.4h1.00v29.31h-1.00zM787.9 414.4h1.00v29.31h-1.00zM789.9 414.4h1.00v29.31h-1.00zM790.9 414.4h1.00v29.31h-1.00zM792.9 414.4h1.00v29.31h-1.00zM805.9 414.4h1.00v29.31h-1.00zM807.9 414.4h1.00v29.31h-1.00zM819.9 414.4h1.00v29.31h-1.00zM824.9 414.4h1.00v29.31h-1.00zM832.9 414.4h1.00v29.31h-1.00zM836.9 414.4h1.00v29.31h-1.00zM839.9 414.4h1.00v29.31h-1.00zM852.9 414.4h1.00v29.31h-1.00zM868.9 414.4h1.00v29.31h-1.00zM869.9 414.4h1.00v29.31h-1.00zM874.9 414.4h1.00v29.31h-1.00zM879.9 414.4h1.00v29.31h-1.00zM881.9 414.4h1.00v29.31h-1.00zM882.9 414.4h1.00v29.31h-1.00zM895.9 414.4h1.00v29.31h-1.00zM898.0 414.4h1.00v29.31h-1.00zM903.0 414.4h1.00v29.31h-1.00zM906.0 414.4h1.00v29.31h-1.00zM910.0 414.4h1.00v29.31h-1.00zM911.0 414.4h1.00v29.31h-1.00zM914.0 414.4h1.00v29.31h-1.00zM920.0 414.4h1.00v29.31h-1.00zM923.0 414.4h1.00v29.31h-1.00zM924.0 414.4h1.00v29.31h-1.00zM930.0 414.4h1.00v29.31h-1.00zM936.0 414.4h1.00v29.31h-1.00zM946.0 414.4h1.00v29.31h-1.00zM949.0 414.4h1.00v29.31h-1.00zM959.0 414.4h1.00v29.31h-1.00zM968.0 414.4h1.00v29.31h-1.00zM737.9 443.7h1.00v29.31h-1.00zM744.9 443.7h1.00v29.31h-1.00zM757.9 443.7h1.00v29.31h-1.00zM758.9 443.7h1.00v29.31h-1.00zM762.9 443.7h1.00v29.31h-1.00zM765.9 443.7h1.00v29.31h-1.00zM767.9 443.7h1.00v29.31h-1.00zM768.9 443.7h1.00v29.31h-1.00zM776.9 443.7h1.00v29.31h-1.00zM780.9 443.7h1.00v29.31h-1.00zM782.9 443.7h1.00v29.31h-1.00zM784.9 443.7h1.00v29.31h-1.00zM795.9 443.7h1.00v29.31h-1.00zM800.9 443.7h1.00v29.31h-1.00zM801.9 443.7h1.00v29.31h-1.00zM829.9 443.7h1.00v29.31h-1.00zM832.9 443.7h1.00v29.31h-1.00zM835.9 443.7h1.00v29.31h-1.00zM838.9 443.7h1.00v29.31h-1.00zM842.9 443.7h1.00v29.31h-1.00zM851.9 443.7h1.00v29.31h-1.00zM855.9 443.7h1.00v29.31h-1.00zM863.9 443.7h1.00v29.31h-1.00zM864.9 443.7h1.00v29.31h-1.00zM865.9 443.7h1.00v29.31h-1.00zM869.9 443.7h1.00v29.31h-1.00zM871.9 443.7h1.00v29.31h-1.00zM873.9 443.7h1.00v29.31h-1.00zM875.9 443.7h1.00v29.31h-1.00zM884.9 443.7h1.00v29.31h-1.00zM887.9 443.7h1.00v29.31h-1.00zM889.9 443.7h1.00v29.31h-1.00zM898.0 443.7h1.00v29.31h-1.00zM907.0 443.7h1.00v29.31h-1.00zM916.0 443.7h1.00v29.31h-1.00zM918.0 443.7h1.00v29.31h-1.00zM919.0 443.7h1.00v29.31h-1.00zM920.0 443.7h1.00v29.31h-1.00zM923.0 443.7h1.00v29.31h-1.00zM924.0 443.7h1.00v29.31h-1.00zM925.0 443.7h1.00v29.31h-1.00zM933.0 443.7h1.00v29.31h-1.00zM936.0 443.7h1.00v29.31h-1.00zM937.0 443.7h1.00v29.31h-1.00zM938.0 443.7h1.00v29.31h-1.00zM945.0 443.7h1.00v29.31h-1.00zM950.0 443.7h1.00v29.31h-1.00zM951.0 443.7h1.00v29.31h-1.00zM953.0 443.7h1.00v29.31h-1.00zM961.0 443.7h1.00v29.31h-1.00zM736.9 473.0h1.00v29.31h-1.00zM744.9 473.0h1.00v29.31h-1.00zM745.9 473.0h1.00v29.31h-1.00zM751.9 473.0h1.00v29.31h-1.00zM755.9 473.0h1.00v29.31h-1.00zM766.9 473.0h1.00v29.31h-1.00zM795.9 473.0h1.00v29.31h-1.00zM796.9 473.0h1.00v29.31h-1.00zM797.9 473.0h1.00v29.31h-1.00zM798.9 473.0h1.00v29.31h-1.00zM801.9 473.0h1.00v29.31h-1.00zM808.9 473.0h1.00v29.31h-1.00zM810.9 473.0h1.00v29.31h-1.00zM814.9 473.0h1.00v29.31h-1.00zM823.9 473.0h1.00v29.31h-1.00zM826.9 473.0h1.00v29.31h-1.00zM827.9 473.0h1.00v29.31h-1.00zM830.9 473.0h1.00v29.31h-1.00zM840.9 473.0h1.00v29.31h-1.00zM844.9 473.0h1.00v29.31h-1.00zM849.9 473.0h1.00v29.31h-1.00zM853.9 473.0h1.00v29.31h-1.00zM860.9 473.0h1.00v29.31h-1.00zM863.9 473.0h1.00v29.31h-1.00zM867.9 473.0h1.00v29.31h-1.00zM875.9 473.0h1.00v29.31h-1.00zM883.9 473.0h1.00v29.31h-1.00zM884.9 473.0h1.00v29.31h-1.00zM885.9 473.0h1.00v29.31h-1.00zM894.9 473.0h1.00v29.31h-1.00zM898.0 473.0h1.00v29.31h-1.00zM907.0 473.0h1.00v29.31h-1.00zM908.0 473.0h1.00v29.31h-1.00zM921.0 473.0h1.00v29.31h-1.00zM924.0 473.0h1.00v29.31h-1.00zM929.0 473.0h1.00v29.31h-1.00zM931.0 473.0h1.00v29.31h-1.00zM933.0 473.0h1.00v29.31h-1.00zM939.0 473.0h1.00v29.31h-1.00zM942.0 473.0h1.00v29.31h-1.00zM946.0 473.0h1.00v29.31h-1.00zM955.0 473.0h1.00v29.31h-1.00zM957.0 473.0h1.00v29.31h-1.00zM959.0 473.0h1.00v29.31h-1.00zM960.0 473.0h1.00v29.31h-1.00zM971.0 473.0h1.00v29.31h-1.00zM974.0 473.0h1.00v29.31h-1.00zM656.8 502.3h1.00v29.31h-1.00zM666.8 502.3h1.00v29.31h-1.00zM675.8 502.3h1.00v29.31h-1.00zM681.8 502.3h1.00v29.31h-1.00zM682.8 502.3h1.00v29.31h-1.00zM684.8 502.3h1.00v29.31h-1.00zM686.8 502.3h1.00v29.31h-1.00zM690.8 502.3h1.00v29.31h-1.00zM698.8 502.3h1.00v29.31h-1.00zM704.8 502.3h1.00v29.31h-1.00zM713.8 502.3h1.00v29.31h-1.00zM732.8 502.3h1.00v29.31h-1.00zM737.9 502.3h1.00v29.31h-1.00zM753.9 502.3h1.00v29.31h-1.00zM759.9 502.3h1.00v29.31h-1.00zM760.9 502.3h1.00v29.31h-1.00zM762.9 502.3h1.00v29.31h-1.00zM767.9 502.3h1.00v29.31h-1.00zM768.9 502.3h1.00v29.31h-1.00zM769.9 502.3h1.00v29.31h-1.00zM792.9 502.3h1.00v29.31h-1.00zM795.9 502.3h1.00v29.31h-1.00zM818.9 502.3h1.00v29.31h-1.00zM819.9 502.3h1.00v29.31h-1.00zM832.9 502.3h1.00v29.31h-1.00zM834.9 502.3h1.00v29.31h-1.00zM836.9 502.3h1.00v29.31h-1.00zM855.9 502.3h1.00v29.31h-1.00zM859.9 502.3h1.00v29.31h-1.00zM860.9 502.3h1.00v29.31h-1.00zM886.9 502.3h1.00v29.31h-1.00zM889.9 502.3h1.00v29.31h-1.00zM897.0 502.3h1.00v29.31h-1.00zM904.0 502.3h1.00v29.31h-1.00zM905.0 502.3h1.00v29.31h-1.00zM938.0 502.3h1.00v29.31h-1.00zM969.0 502.3h1.00v29.31h-1.00zM973.0 502.3h1.00v29.31h-1.00zM654.8 531.6h1.00v29.31h-1.00zM682.8 531.6h1.00v29.31h-1.00zM711.8 531.6h1.00v29.31h-1.00zM719.8 531.6h1.00v29.31h-1.00zM733.8 531.6h1.00v29.31h-1.00zM734.9 531.6h1.00v29.31h-1.00zM735.9 531.6h1.00v29.31h-1.00zM744.9 531.6h1.00v29.31h-1.00zM746.9 531.6h1.00v29.31h-1.00zM753.9 531.6h1.00v29.31h-1.00zM778.9 531.6h1.00v29.31h-1.00zM789.9 531.6h1.00v29.31h-1.00zM810.9 531.6h1.00v29.31h-1.00zM829.9 531.6h1.00v29.31h-1.00zM832.9 531.6h1.00v29.31h-1.00zM834.9 531.6h1.00v29.31h-1.00zM844.9 531.6h1.00v29.31h-1.00zM859.9 531.6h1.00v29.31h-1.00zM863.9 531.6h1.00v29.31h-1.00zM869.9 531.6h1.00v29.31h-1.00zM884.9 531.6h1.00v29.31h-1.00zM895.9 531.6h1.00v29.31h-1.00zM901.0 531.6h1.00v29.31h-1.00zM922.0 531.6h1.00v29.31h-1.00zM929.0 531.6h1.00v29.31h-1.00zM944.0 531.6h1.00v29.31h-1.00zM948.0 531.6h1.00v29.31h-1.00zM952.0 531.6h1.00v29.31h-1.00zM962.0 531.6h1.00v29.31h-1.00zM663.8 560.9h1.00v29.31h-1.00zM668.8 560.9h1.00v29.31h-1.00zM674.8 560.9h1.00v29.31h-1.00zM681.8 560.9h1.00v29.31h-1.00zM683.8 560.9h1.00v29.31h-1.00zM692.8 560.9h1.00v29.31h-1.00zM698.8 560.9h1.00v29.31h-1.00zM707.8 560.9h1.00v29.31h-1.00zM712.8 560.9h1.00v29.31h-1.00zM716.8 560.9h1.00v29.31h-1.00zM718.8 560.9h1.00v29.31h-1.00zM728.8 560.9h1.00v29.31h-1.00zM740.9 560.9h1.00v29.31h-1.00zM749.9 560.9h1.00v29.31h-1.00zM754.9 560.9h1.00v29.31h-1.00zM772.9 560.9h1.00v29.31h-1.00zM780.9 560.9h1.00v29.31h-1.00zM801.9 560.9h1.00v29.31h-1.00zM803.9 560.9h1.00v29.31h-1.00zM817.9 560.9h1.00v29.31h-1.00zM838.9 560.9h1.00v29.31h-1.00zM840.9 560.9h1.00v29.31h-1.00zM853.9 560.9h1.00v29.31h-1.00zM861.9 560.9h1.00v29.31h-1.00zM872.9 560.9h1.00v29.31h-1.00zM880.9 560.9h1.00v29.31h-1.00zM900.0 560.9h1.00v29.31h-1.00zM904.0 560.9h1.00v29.31h-1.00zM921.0 560.9h1.00v29.31h-1.00zM933.0 560.9h1.00v29.31h-1.00zM941.0 560.9h1.00v29.31h-1.00zM949.0 560.9h1.00v29.31h-1.00zM959.0 560.9h1.00v29.31h-1.00zM961.0 560.9h1.00v29.31h-1.00zM965.0 560.9h1.00v29.31h-1.00zM967.0 560.9h1.00v29.31h-1.00zM968.0 560.9h1.00v29.31h-1.00zM973.0 560.9h1.00v29.31h-1.00zM655.8 590.2h1.00v29.31h-1.00zM663.8 590.2h1.00v29.31h-1.00zM667.8 590.2h1.00v29.31h-1.00zM671.8 590.2h1.00v29.31h-1.00zM675.8 590.2h1.00v29.31h-1.00zM691.8 590.2h1.00v29.31h-1.00zM695.8 590.2h1.00v29.31h-1.00zM710.8 590.2h1.00v29.31h-1.00zM718.8 590.2h1.00v29.31h-1.00zM722.8 590.2h1.00v29.31h-1.00zM725.8 590.2h1.00v29.31h-1.00zM742.9 590.2h1.00v29.31h-1.00zM751.9 590.2h1.00v29.31h-1.00zM754.9 590.2h1.00v29.31h-1.00zM763.9 590.2h1.00v29.31h-1.00zM771.9 590.2h1.00v29.31h-1.00zM793.9 590.2h1.00v29.31h-1.00zM796.9 590.2h1.00v29.31h-1.00zM815.9 590.2h1.00v29.31h-1.00zM817.9 590.2h1.00v29.31h-1.00zM821.9 590.2h1.00v29.31h-1.00zM833.9 590.2h1.00v29.31h-1.00zM837.9 590.2h1.00v29.31h-1.00zM863.9 590.2h1.00v29.31h-1.00zM873.9 590.2h1.00v29.31h-1.00zM878.9 590.2h1.00v29.31h-1.00zM883.9 590.2h1.00v29.31h-1.00zM902.0 590.2h1.00v29.31h-1.00zM912.0 590.2h1.00v29.31h-1.00zM915.0 590.2h1.00v29.31h-1.00zM918.0 590.2h1.00v29.31h-1.00zM929.0 590.2h1.00v29.31h-1.00zM939.0 590.2h1.00v29.31h-1.00zM974.0 590.2h1.00v29.31h-1.00zM660.8 619.5h1.00v29.31h-1.00zM671.8 619.5h1.00v29.31h-1.00zM676.8 619.5h1.00v29.31h-1.00zM689.8 619.5h1.00v29.31h-1.00zM692.8 619.5h1.00v29.31h-1.00zM693.8 619.5h1.00v29.31h-1.00zM698.8 619.5h1.00v29.31h-1.00zM700.8 619.5h1.00v29.31h-1.00zM706.8 619.5h1.00v29.31h-1.00zM709.8 619.5h1.00v29.31h-1.00zM710.8 619.5h1.00v29.31h-1.00zM718.8 619.5h1.00v29.31h-1.00zM719.8 619.5h1.00v29.31h-1.00zM721.8 619.5h1.00v29.31h-1.00zM731.8 619.5h1.00v29.31h-1.00zM741.9 619.5h1.00v29.31h-1.00zM749.9 619.5h1.00v29.31h-1.00zM775.9 619.5h1.00v29.31h-1.00zM793.9 619.5h1.00v29.31h-1.00zM811.9 619.5h1.00v29.31h-1.00zM825.9 619.5h1.00v29.31h-1.00zM839.9 619.5h1.00v29.31h-1.00zM850.9 619.5h1.00v29.31h-1.00zM851.9 619.5h1.00v29.31h-1.00zM854.9 619.5h1.00v29.31h-1.00zM861.9 619.5h1.00v29.31h-1.00zM863.9 619.5h1.00v29.31h-1.00zM877.9 619.5h1.00v29.31h-1.00zM878.9 619.5h1.00v29.31h-1.00zM880.9 619.5h1.00v29.31h-1.00zM881.9 619.5h1.00v29.31h-1.00zM885.9 619.5h1.00v29.31h-1.00zM889.9 619.5h1.00v29.31h-1.00zM893.9 619.5h1.00v29.31h-1.00zM904.0 619.5h1.00v29.31h-1.00zM911.0 619.5h1.00v29.31h-1.00zM917.0 619.5h1.00v29.31h-1.00zM929.0 619.5h1.00v29.31h-1.00zM939.0 619.5h1.00v29.31h-1.00zM968.0 619.5h1.00v29.31h-1.00zM667.8 648.8h1.00v29.31h-1.00zM671.8 648.8h1.00v29.31h-1.00zM674.8 648.8h1.00v29.31h-1.00zM675.8 648.8h1.00v29.31h-1.00zM679.8 648.8h1.00v29.31h-1.00zM682.8 648.8h1.00v29.31h-1.00zM687.8 648.8h1.00v29.31h-1.00zM715.8 648.8h1.00v29.31h-1.00zM720.8 648.8h1.00v29.31h-1.00zM723.8 648.8h1.00v29.31h-1.00zM725.8 648.8h1.00v29.31h-1.00zM727.8 648.8h1.00v29.31h-1.00zM739.9 648.8h1.00v29.31h-1.00zM741.9 648.8h1.00v29.31h-1.00zM760.9 648.8h1.00v29.31h-1.00zM771.9 648.8h1.00v29.31h-1.00zM776.9 648.8h1.00v29.31h-1.00zM820.9 648.8h1.00v29.31h-1.00zM821.9 648.8h1.00v29.31h-1.00zM824.9 648.8h1.00v29.31h-1.00zM826.9 648.8h1.00v29.31h-1.00zM851.9 648.8h1.00v29.31h-1.00zM858.9 648.8h1.00v29.31h-1.00zM867.9 648.8h1.00v29.31h-1.00zM870.9 648.8h1.00v29.31h-1.00zM880.9 648.8h1.00v29.31h-1.00zM885.9 648.8h1.00v29.31h-1.00zM899.0 648.8h1.00v29.31h-1.00zM911.0 648.8h1.00v29.31h-1.00zM914.0 648.8h1.00v29.31h-1.00zM918.0 648.8h1.00v29.31h-1.00zM919.0 648.8h1.00v29.31h-1.00zM936.0 648.8h1.00v29.31h-1.00zM945.0 648.8h1.00v29.31h-1.00zM958.0 648.8h1.00v29.31h-1.00zM967.0 648.8h1.00v29.31h-1.00zM659.8 678.1h1.00v29.31h-1.00zM688.8 678.1h1.00v29.31h-1.00zM742.9 678.1h1.00v29.31h-1.00zM758.9 678.1h1.00v29.31h-1.00zM764.9 678.1h1.00v29.31h-1.00zM769.9 678.1h1.00v29.31h-1.00zM790.9 678.1h1.00v29.31h-1.00zM797.9 678.1h1.00v29.31h-1.00zM801.9 678.1h1.00v29.31h-1.00zM811.9 678.1h1.00v29.31h-1.00zM814.9 678.1h1.00v29.31h-1.00zM818.9 678.1h1.00v29.31h-1.00zM821.9 678.1h1.00v29.31h-1.00zM823.9 678.1h1.00v29.31h-1.00zM865.9 678.1h1.00v29.31h-1.00zM870.9 678.1h1.00v29.31h-1.00zM873.9 678.1h1.00v29.31h-1.00zM879.9 678.1h1.00v29.31h-1.00zM880.9 678.1h1.00v29.31h-1.00zM890.9 678.1h1.00v29.31h-1.00zM899.0 678.1h1.00v29.31h-1.00zM905.0 678.1h1.00v29.31h-1.00zM917.0 678.1h1.00v29.31h-1.00zM918.0 678.1h1.00v29.31h-1.00zM927.0 678.1h1.00v29.31h-1.00zM929.0 678.1h1.00v29.31h-1.00zM939.0 678.1h1.00v29.31h-1.00zM940.0 678.1h1.00v29.31h-1.00zM963.0 678.1h1.00v29.31h-1.00zM975.0 678.1h1.00v29.31h-1.00zM976.0 678.1h1.00v29.31h-1.00zM674.8 707.5h1.00v29.31h-1.00zM685.8 707.5h1.00v29.31h-1.00zM699.8 707.5h1.00v29.31h-1.00zM700.8 707.5h1.00v29.31h-1.00zM701.8 707.5h1.00v29.31h-1.00zM709.8 707.5h1.00v29.31h-1.00zM710.8 707.5h1.00v29.31h-1.00zM711.8 707.5h1.00v29.31h-1.00zM730.8 707.5h1.00v29.31h-1.00zM734.9 707.5h1.00v29.31h-1.00zM759.9 707.5h1.00v29.31h-1.00zM767.9 707.5h1.00v29.31h-1.00zM781.9 707.5h1.00v29.31h-1.00zM787.9 707.5h1.00v29.31h-1.00zM788.9 707.5h1.00v29.31h-1.00zM789.9 707.5h1.00v29.31h-1.00zM797.9 707.5h1.00v29.31h-1.00zM800.9 707.5h1.00v29.31h-1.00zM818.9 707.5h1.00v29.31h-1.00zM819.9 707.5h1.00v29.31h-1.00zM823.9 707.5h1.00v29.31h-1.00zM824.9 707.5h1.00v29.31h-1.00zM851.9 707.5h1.00v29.31h-1.00zM861.9 707.5h1.00v29.31h-1.00zM897.0 707.5h1.00v29.31h-1.00zM907.0 707.5h1.00v29.31h-1.00zM925.0 707.5h1.00v29.31h-1.00zM926.0 707.5h1.00v29.31h-1.00zM930.0 707.5h1.00v29.31h-1.00zM950.0 707.5h1.00v29.31h-1.00zM952.0 707.5h1.00v29.31h-1.00zM957.0 707.5h1.00v29.31h-1.00zM976.0 707.5h1.00v29.31h-1.00zM687.8 736.8h1.00v29.31h-1.00zM701.8 736.8h1.00v29.31h-1.00zM714.8 736.8h1.00v29.31h-1.00zM736.9 736.8h1.00v29.31h-1.00zM750.9 736.8h1.00v29.31h-1.00zM762.9 736.8h1.00v29.31h-1.00zM782.9 736.8h1.00v29.31h-1.00zM794.9 736.8h1.00v29.31h-1.00zM795.9 736.8h1.00v29.31h-1.00zM803.9 736.8h1.00v29.31h-1.00zM817.9 736.8h1.00v29.31h-1.00zM820.9 736.8h1.00v29.31h-1.00zM850.9 736.8h1.00v29.31h-1.00zM851.9 736.8h1.00v29.31h-1.00zM858.9 736.8h1.00v29.31h-1.00zM859.9 736.8h1.00v29.31h-1.00zM860.9 736.8h1.00v29.31h-1.00zM866.9 736.8h1.00v29.31h-1.00zM879.9 736.8h1.00v29.31h-1.00zM881.9 736.8h1.00v29.31h-1.00zM883.9 736.8h1.00v29.31h-1.00zM897.0 736.8h1.00v29.31h-1.00zM898.0 736.8h1.00v29.31h-1.00zM901.0 736.8h1.00v29.31h-1.00zM905.0 736.8h1.00v29.31h-1.00zM908.0 736.8h1.00v29.31h-1.00zM918.0 736.8h1.00v29.31h-1.00zM933.0 736.8h1.00v29.31h-1.00zM964.0 736.8h1.00v29.31h-1.00zM965.0 736.8h1.00v29.31h-1.00zM972.0 736.8h1.00v29.31h-1.00zM660.8 766.1h1.00v29.31h-1.00zM662.8 766.1h1.00v29.31h-1.00zM687.8 766.1h1.00v29.31h-1.00zM692.8 766.1h1.00v29.31h-1.00zM724.8 766.1h1.00v29.31h-1.00zM731.8 766.1h1.00v29.31h-1.00zM740.9 766.1h1.00v29.31h-1.00zM745.9 766.1h1.00v29.31h-1.00zM756.9 766.1h1.00v29.31h-1.00zM770.9 766.1h1.00v29.31h-1.00zM776.9 766.1h1.00v29.31h-1.00zM780.9 766.1h1.00v29.31h-1.00zM784.9 766.1h1.00v29.31h-1.00zM785.9 766.1h1.00v29.31h-1.00zM787.9 766.1h1.00v29.31h-1.00zM789.9 766.1h1.00v29.31h-1.00zM798.9 766.1h1.00v29.31h-1.00zM803.9 766.1h1.00v29.31h-1.00zM812.9 766.1h1.00v29.31h-1.00zM814.9 766.1h1.00v29.31h-1.00zM817.9 766.1h1.00v29.31h-1.00zM818.9 766.1h1.00v29.31h-1.00zM828.9 766.1h1.00v29.31h-1.00zM833.9 766.1h1.00v29.31h-1.00zM834.9 766.1h1.00v29.31h-1.00zM842.9 766.1h1.00v29.31h-1.00zM857.9 766.1h1.00v29.31h-1.00zM865.9 766.1h1.00v29.31h-1.00zM869.9 766.1h1.00v29.31h-1.00zM873.9 766.1h1.00v29.31h-1.00zM876.9 766.1h1.00v29.31h-1.00zM879.9 766.1h1.00v29.31h-1.00zM887.9 766.1h1.00v29.31h-1.00zM897.0 766.1h1.00v29.31h-1.00zM899.0 766.1h1.00v29.31h-1.00zM912.0 766.1h1.00v29.31h-1.00zM915.0 766.1h1.00v29.31h-1.00zM916.0 766.1h1.00v29.31h-1.00zM923.0 766.1h1.00v29.31h-1.00zM930.0 766.1h1.00v29.31h-1.00zM931.0 766.1h1.00v29.31h-1.00zM933.0 766.1h1.00v29.31h-1.00zM948.0 766.1h1.00v29.31h-1.00zM957.0 766.1h1.00v29.31h-1.00zM965.0 766.1h1.00v29.31h-1.00zM966.0 766.1h1.00v29.31h-1.00zM658.8 795.4h1.00v29.31h-1.00zM688.8 795.4h1.00v29.31h-1.00zM691.8 795.4h1.00v29.31h-1.00zM709.8 795.4h1.00v29.31h-1.00zM722.8 795.4h1.00v29.31h-1.00zM723.8 795.4h1.00v29.31h-1.00zM727.8 795.4h1.00v29.31h-1.00zM744.9 795.4h1.00v29.31h-1.00zM746.9 795.4h1.00v29.31h-1.00zM749.9 795.4h1.00v29.31h-1.00zM750.9 795.4h1.00v29.31h-1.00zM763.9 795.4h1.00v29.31h-1.00zM765.9 795.4h1.00v29.31h-1.00zM771.9 795.4h1.00v29.31h-1.00zM775.9 795.4h1.00v29.31h-1.00zM777.9 795.4h1.00v29.31h-1.00zM795.9 795.4h1.00v29.31h-1.00zM821.9 795.4h1.00v29.31h-1.00zM828.9 795.4h1.00v29.31h-1.00zM833.9 795.4h1.00v29.31h-1.00zM837.9 795.4h1.00v29.31h-1.00zM849.9 795.4h1.00v29.31h-1.00zM860.9 795.4h1.00v29.31h-1.00zM872.9 795.4h1.00v29.31h-1.00zM882.9 795.4h1.00v29.31h-1.00zM890.9 795.4h1.00v29.31h-1.00zM905.0 795.4h1.00v29.31h-1.00zM908.0 795.4h1.00v29.31h-1.00zM913.0 795.4h1.00v29.31h-1.00zM915.0 795.4h1.00v29.31h-1.00zM920.0 795.4h1.00v29.31h-1.00zM927.0 795.4h1.00v29.31h-1.00zM945.0 795.4h1.00v29.31h-1.00zM950.0 795.4h1.00v29.31h-1.00zM966.0 795.4h1.00v29.31h-1.00zM969.0 795.4h1.00v29.31h-1.00zM970.0 795.4h1.00v29.31h-1.00zM974.0 795.4h1.00v29.31h-1.00zM672.8 824.7h1.00v29.31h-1.00zM676.8 824.7h1.00v29.31h-1.00zM689.8 824.7h1.00v29.31h-1.00zM691.8 824.7h1.00v29.31h-1.00zM697.8 824.7h1.00v29.31h-1.00zM710.8 824.7h1.00v29.31h-1.00zM714.8 824.7h1.00v29.31h-1.00zM715.8 824.7h1.00v29.31h-1.00zM718.8 824.7h1.00v29.31h-1.00zM723.8 824.7h1.00v29.31h-1.00zM726.8 824.7h1.00v29.31h-1.00zM734.9 824.7h1.00v29.31h-1.00zM739.9 824.7h1.00v29.31h-1.00zM740.9 824.7h1.00v29.31h-1.00zM749.9 824.7h1.00v29.31h-1.00zM763.9 824.7h1.00v29.31h-1.00zM779.9 824.7h1.00v29.31h-1.00zM794.9 824.7h1.00v29.31h-1.00zM795.9 824.7h1.00v29.31h-1.00zM810.9 824.7h1.00v29.31h-1.00zM812.9 824.7h1.00v29.31h-1.00zM819.9 824.7h1.00v29.31h-1.00zM828.9 824.7h1.00v29.31h-1.00zM849.9 824.7h1.00v29.31h-1.00zM873.9 824.7h1.00v29.31h-1.00zM876.9 824.7h1.00v29.31h-1.00zM890.9 824.7h1.00v29.31h-1.00zM895.9 824.7h1.00v29.31h-1.00zM906.0 824.7h1.00v29.31h-1.00zM916.0 824.7h1.00v29.31h-1.00zM919.0 824.7h1.00v29.31h-1.00zM927.0 824.7h1.00v29.31h-1.00zM930.0 824.7h1.00v29.31h-1.00zM953.0 824.7h1.00v29.31h-1.00zM961.0 824.7h1.00v29.31h-1.00zM966.0 824.7h1.00v29.31h-1.00zM673.8 854.0h1.00v29.31h-1.00zM676.8 854.0h1.00v29.31h-1.00zM696.8 854.0h1.00v29.31h-1.00zM700.8 854.0h1.00v29.31h-1.00zM704.8 854.0h1.00v29.31h-1.00zM719.8 854.0h1.00v29.31h-1.00zM720.8 854.0h1.00v29.31h-1.00zM725.8 854.0h1.00v29.31h-1.00zM737.9 854.0h1.00v29.31h-1.00zM746.9 854.0h1.00v29.31h-1.00zM759.9 854.0h1.00v29.31h-1.00zM764.9 854.0h1.00v29.31h-1.00zM765.9 854.0h1.00v29.31h-1.00zM773.9 854.0h1.00v29.31h-1.00zM777.9 854.0h1.00v29.31h-1.00zM779.9 854.0h1.00v29.31h-1.00zM781.9 854.0h1.00v29.31h-1.00zM783.9 854.0h1.00v29.31h-1.00zM789.9 854.0h1.00v29.31h-1.00zM819.9 854.0h1.00v29.31h-1.00zM828.9 854.0h1.00v29.31h-1.00zM830.9 854.0h1.00v29.31h-1.00zM844.9 854.0h1.00v29.31h-1.00zM845.9 854.0h1.00v29.31h-1.00zM854.9 854.0h1.00v29.31h-1.00zM856.9 854.0h1.00v29.31h-1.00zM863.9 854.0h1.00v29.31h-1.00zM865.9 854.0h1.00v29.31h-1.00zM871.9 854.0h1.00v29.31h-1.00zM873.9 854.0h1.00v29.31h-1.00zM874.9 854.0h1.00v29.31h-1.00zM875.9 854.0h1.00v29.31h-1.00zM912.0 854.0h1.00v29.31h-1.00zM927.0 854.0h1.00v29.31h-1.00zM944.0 854.0h1.00v29.31h-1.00zM953.0 854.0h1.00v29.31h-1.00zM965.0 854.0h1.00v29.31h-1.00zM974.0 854.0h1.00v29.31h-1.00zM655.8 883.3h1.00v29.31h-1.00zM677.8 883.3h1.00v29.31h-1.00zM685.8 883.3h1.00v29.31h-1.00zM694.8 883.3h1.00v29.31h-1.00zM711.8 883.3h1.00v29.31h-1.00zM718.8 883.3h1.00v29.31h-1.00zM724.8 883.3h1.00v29.31h-1.00zM725.8 883.3h1.00v29.31h-1.00zM730.8 883.3h1.00v29.31h-1.00zM750.9 883.3h1.00v29.31h-1.00zM772.9 883.3h1.00v29.31h-1.00zM774.9 883.3h1.00v29.31h-1.00zM789.9 883.3h1.00v29.31h-1.00zM796.9 883.3h1.00v29.31h-1.00zM804.9 883.3h1.00v29.31h-1.00zM812.9 883.3h1.00v29.31h-1.00zM816.9 883.3h1.00v29.31h-1.00zM820.9 883.3h1.00v29.31h-1.00zM835.9 883.3h1.00v29.31h-1.00zM837.9 883.3h1.00v29.31h-1.00zM839.9 883.3h1.00v29.31h-1.00zM847.9 883.3h1.00v29.31h-1.00zM849.9 883.3h1.00v29.31h-1.00zM854.9 883.3h1.00v29.31h-1.00zM875.9 883.3h1.00v29.31h-1.00zM887.9 883.3h1.00v29.31h-1.00zM898.0 883.3h1.00v29.31h-1.00zM923.0 883.3h1.00v29.31h-1.00zM930.0 883.3h1.00v29.31h-1.00zM931.0 883.3h1.00v29.31h-1.00zM966.0 883.3h1.00v29.31h-1.00zM967.0 883.3h1.00v29.31h-1.00z"/>
<path fill="#FFCCCC" d="M681.8 238.5h1.00v29.31h-1.00zM741.9 238.5h1.00v29.31h-1.00zM744.9 238.5h1.00v29.31h-1.00zM752.9 238.5h1.00v29.31h-1.00zM772.9 238.5h1.00v29.31h-1.00zM787.9 238.5h1.00v29.31h-1.00zM834.9 238.5h1.00v29.31h-1.00zM840.9 238.5h1.00v29.31h-1.00zM909.0 238.5h1.00v29.31h-1.00zM945.0 238.5h1.00v29.31h-1.00zM966.0 238.5h1.00v29.31h-1.00zM740.9 267.8h1.00v29.31h-1.00zM748.9 267.8h1.00v29.31h-1.00zM760.9 267.8h1.00v29.31h-1.00zM776.9 267.8h1.00v29.31h-1.00zM848.9 267.8h1.00v29.31h-1.00zM877.9 267.8h1.00v29.31h-1.00zM881.9 267.8h1.00v29.31h-1.00zM967.0 267.8h1.00v29.31h-1.00zM749.9 297.1h1.00v29.31h-1.00zM755.9 297.1h1.00v29.31h-1.00zM759.9 297.1h1.00v29.31h-1.00zM812.9 297.1h1.00v29.31h-1.00zM816.9 297.1h1.00v29.31h-1.00zM848.9 297.1h1.00v29.31h-1.00zM873.9 297.1h1.00v29.31h-1.00zM877.9 297.1h1.00v29.31h-1.00zM883.9 297.1h1.00v29.31h-1.00zM906.0 297.1h1.00v29.31h-1.00zM916.0 297.1h1.00v29.31h-1.00zM934.0 297.1h1.00v29.31h-1.00zM964.0 297.1h1.00v29.31h-1.00zM788.9 326.4h1.00v29.31h-1.00zM805.9 326.4h1.00v29.31h-1.00zM833.9 326.4h1.00v29.31h-1.00zM871.9 326.4h1.00v29.31h-1.00zM884.9 326.4h1.00v29.31h-1.00zM924.0 326.4h1.00v29.31h-1.00zM931.0 326.4h1.00v29.31h-1.00zM943.0 326.4h1.00v29.31h-1.00zM961.0 326.4h1.00v29.31h-1.00zM690.8 355.7h1.00v29.31h-1.00zM710.8 355.7h1.00v29.31h-1.00zM773.9 355.7h1.00v29.31h-1.00zM790.9 355.7h1.00v29.31h-1.00zM817.9 355.7h1.00v29.31h-1.00zM821.9 355.7h1.00v29.31h-1.00zM822.9 355.7h1.00v29.31h-1.00zM825.9 355.7h1.00v29.31h-1.00zM857.9 355.7h1.00v29.31h-1.00zM860.9 355.7h1.00v29.31h-1.00zM944.0 355.7h1.00v29.31h-1.00zM748.9 385.0h1.00v29.31h-1.00zM765.9 385.0h1.00v29.31h-1.00zM767.9 385.0h1.00v29.31h-1.00zM817.9 385.0h1.00v29.31h-1.00zM843.9 385.0h1.00v29.31h-1.00zM853.9 385.0h1.00v29.31h-1.00zM895.9 385.0h1.00v29.31h-1.00zM898.0 385.0h1.00v29.31h-1.00zM902.0 385.0h1.00v29.31h-1.00zM905.0 385.0h1.00v29.31h-1.00zM925.0 385.0h1.00v29.31h-1.00zM953.0 385.0h1.00v29.31h-1.00zM788.9 414.4h1.00v29.31h-1.00zM798.9 414.4h1.00v29.31h-1.00zM814.9 414.4h1.00v29.31h-1.00zM842.9 414.4h1.00v29.31h-1.00zM876.9 414.4h1.00v29.31h-1.00zM919.0 414.4h1.00v29.31h-1.00zM929.0 414.4h1.00v29.31h-1.00zM953.0 414.4h1.00v29.31h-1.00zM956.0 414.4h1.00v29.31h-1.00zM791.9 443.7h1.00v29.31h-1.00zM807.9 443.7h1.00v29.31h-1.00zM830.9 443.7h1.00v29.31h-1.00zM848.9 443.7h1.00v29.31h-1.00zM878.9 443.7h1.00v29.31h-1.00zM897.0 443.7h1.00v29.31h-1.00zM935.0 443.7h1.00v29.31h-1.00zM940.0 443.7h1.00v29.31h-1.00zM799.9 473.0h1.00v29.31h-1.00zM806.9 473.0h1.00v29.31h-1.00zM878.9 473.0h1.00v29.31h-1.00zM879.9 473.0h1.00v29.31h-1.00zM880.9 473.0h1.00v29.31h-1.00zM936.0 473.0h1.00v29.31h-1.00zM652.8 502.3h1.00v29.31h-1.00zM674.8 502.3h1.00v29.31h-1.00zM680.8 502.3h1.00v29.31h-1.00zM685.8 502.3h1.00v29.31h-1.00zM703.8 502.3h1.00v29.31h-1.00zM712.8 502.3h1.00v29.31h-1.00zM730.8 502.3h1.00v29.31h-1.00zM751.9 502.3h1.00v29.31h-1.00zM844.9 502.3h1.00v29.31h-1.00zM880.9 502.3h1.00v29.31h-1.00zM946.0 502.3h1.00v29.31h-1.00zM963.0 502.3h1.00v29.31h-1.00zM967.0 502.3h1.00v29.31h-1.00zM655.8 531.6h1.00v29.31h-1.00zM693.8 531.6h1.00v29.31h-1.00zM702.8 531.6h1.00v29.31h-1.00zM723.8 531.6h1.00v29.31h-1.00zM729.8 531.6h1.00v29.31h-1.00zM839.9 531.6h1.00v29.31h-1.00zM685.8 560.9h1.00v29.31h-1.00zM726.8 560.9h1.00v29.31h-1.00zM735.9 560.9h1.00v29.31h-1.00zM738.9 560.9h1.00v29.31h-1.00zM787.9 560.9h1.00v29.31h-1.00zM860.9 560.9h1.00v29.31h-1.00zM936.0 560.9h1.00v29.31h-1.00zM969.0 560.9h1.00v29.31h-1.00zM656.8 590.2h1.00v29.31h-1.00zM668.8 590.2h1.00v29.31h-1.00zM679.8 590.2h1.00v29.31h-1.00zM681.8 590.2h1.00v29.31h-1.00zM693.8 590.2h1.00v29.31h-1.00zM704.8 590.2h1.00v29.31h-1.00zM709.8 590.2h1.00v29.31h-1.00zM712.8 590.2h1.00v29.31h-1.00zM714.8 590.2h1.00v29.31h-1.00zM720.8 590.2h1.00v29.31h-1.00zM726.8 590.2h1.00v29.31h-1.00zM729.8 590.2h1.00v29.31h-1.00zM731.8 590.2h1.00v29.31h-1.00zM735.9 590.2h1.00v29.31h-1.00zM753.9 590.2h1.00v29.31h-1.00zM867.9 590.2h1.00v29.31h-1.00zM920.0 590.2h1.00v29.31h-1.00zM656.8 619.5h1.00v29.31h-1.00zM672.8 619.5h1.00v29.31h-1.00zM690.8 619.5h1.00v29.31h-1.00zM691.8 619.5h1.00v29.31h-1.00zM697.8 619.5h1.00v29.31h-1.00zM727.8 619.5h1.00v29.31h-1.00zM732.8 619.5h1.00v29.31h-1.00zM738.9 619.5h1.00v29.31h-1.00zM824.9 619.5h1.00v29.31h-1.00zM972.0 619.5h1.00v29.31h-1.00zM670.8 648.8h1.00v29.31h-1.00zM683.8 648.8h1.00v29.31h-1.00zM697.8 648.8h1.00v29.31h-1.00zM729.8 648.8h1.00v29.31h-1.00zM735.9 648.8h1.00v29.31h-1.00zM794.9 648.8h1.00v29.31h-1.00zM888.9 648.8h1.00v29.31h-1.00zM944.0 648.8h1.00v29.31h-1.00zM665.8 678.1h1.00v29.31h-1.00zM776.9 678.1h1.00v29.31h-1.00zM795.9 678.1h1.00v29.31h-1.00zM802.9 678.1h1.00v29.31h-1.00zM844.9 678.1h1.00v29.31h-1.00zM860.9 678.1h1.00v29.31h-1.00zM885.9 678.1h1.00v29.31h-1.00zM922.0 678.1h1.00v29.31h-1.00zM934.0 678.1h1.00v29.31h-1.00zM944.0 678.1h1.00v29.31h-1.00zM977.0 678.1h1.00v29.31h-1.00zM765.9 707.5h1.00v29.31h-1.00zM799.9 707.5h1.00v29.31h-1.00zM811.9 707.5h1.00v29.31h-1.00zM815.9 707.5h1.00v29.31h-1.00zM820.9 707.5h1.00v29.31h-1.00zM843.9 707.5h1.00v29.31h-1.00zM888.9 707.5h1.00v29.31h-1.00zM744.9 736.8h1.00v29.31h-1.00zM758.9 736.8h1.00v29.31h-1.00zM763.9 736.8h1.00v29.31h-1.00zM869.9 736.8h1.00v29.31h-1.00zM882.9 736.8h1.00v29.31h-1.00zM899.0 736.8h1.00v29.31h-1.00zM962.0 736.8h1.00v29.31h-1.00zM790.9 766.1h1.00v29.31h-1.00zM795.9 766.1h1.00v29.31h-1.00zM805.9 766.1h1.00v29.31h-1.00zM845.9 766.1h1.00v29.31h-1.00zM848.9 766.1h1.00v29.31h-1.00zM913.0 766.1h1.00v29.31h-1.00zM918.0 766.1h1.00v29.31h-1.00zM926.0 766.1h1.00v29.31h-1.00zM944.0 766.1h1.00v29.31h-1.00zM660.8 795.4h1.00v29.31h-1.00zM754.9 795.4h1.00v29.31h-1.00zM758.9 795.4h1.00v29.31h-1.00zM780.9 795.4h1.00v29.31h-1.00zM790.9 795.4h1.00v29.31h-1.00zM812.9 795.4h1.00v29.31h-1.00zM826.9 795.4h1.00v29.31h-1.00zM850.9 795.4h1.00v29.31h-1.00zM868.9 795.4h1.00v29.31h-1.00zM873.9 795.4h1.00v29.31h-1.00zM906.0 795.4h1.00v29.31h-1.00zM925.0 795.4h1.00v29.31h-1.00zM652.8 824.7h1.00v29.31h-1.00zM666.8 824.7h1.00v29.31h-1.00zM669.8 824.7h1.00v29.31h-1.00zM671.8 824.7h1.00v29.31h-1.00zM680.8 824.7h1.00v29.31h-1.00zM698.8 824.7h1.00v29.31h-1.00zM709.8 824.7h1.00v29.31h-1.00zM753.9 824.7h1.00v29.31h-1.00zM773.9 824.7h1.00v29.31h-1.00zM796.9 824.7h1.00v29.31h-1.00zM844.9 824.7h1.00v29.31h-1.00zM878.9 824.7h1.00v29.31h-1.00zM892.9 824.7h1.00v29.31h-1.00zM903.0 824.7h1.00v29.31h-1.00zM922.0 824.7h1.00v29.31h-1.00zM925.0 824.7h1.00v29.31h-1.00zM962.0 824.7h1.00v29.31h-1.00zM964.0 824.7h1.00v29.31h-1.00zM965.0 824.7h1.00v29.31h-1.00zM662.8 854.0h1.00v29.31h-1.00zM682.8 854.0h1.00v29.31h-1.00zM708.8 854.0h1.00v29.31h-1.00zM715.8 854.0h1.00v29.31h-1.00zM782.9 854.0h1.00v29.31h-1.00zM796.9 854.0h1.00v29.31h-1.00zM814.9 854.0h1.00v29.31h-1.00zM906.0 854.0h1.00v29.31h-1.00zM924.0 854.0h1.00v29.31h-1.00zM679.8 883.3h1.00v29.31h-1.00zM683.8 883.3h1.00v29.31h-1.00zM684.8 883.3h1.00v29.31h-1.00zM707.8 883.3h1.00v29.31h-1.00zM727.8 883.3h1.00v29.31h-1.00zM776.9 883.3h1.00v29.31h-1.00zM825.9 883.3h1.00v29.31h-1.00zM862.9 883.3h1.00v29.31h-1.00zM919.0 883.3h1.00v29.31h-1.00zM939.0 883.3h1.00v29.31h-1.00zM975.0 883.3h1.00v29.31h-1.00z"/>
<path fill="#D6D6FF" d="M684.8 238.5h1.00v29.31h-1.00zM698.8 238.5h1.00v29.31h-1.00zM714.8 238.5h1.00v29.31h-1.00zM717.8 238.5h1.00v29.31h-1.00zM724.8 238.5h1.00v29.31h-1.00zM725.8 238.5h1.00v29.31h-1.00zM707.8 267.8h1.00v29.31h-1.00zM723.8 267.8h1.00v29.31h-1.00zM938.0 267.8h1.00v29.31h-1.00zM659.8 297.1h1.00v29.31h-1.00zM677.8 297.1h1.00v29.31h-1.00zM684.8 297.1h1.00v29.31h-1.00zM697.8 297.1h1.00v29.31h-1.00zM844.9 297.1h1.00v29.31h-1.00zM894.9 297.1h1.00v29.31h-1.00zM921.0 297.1h1.00v29.31h-1.00zM937.0 297.1h1.00v29.31h-1.00zM663.8 326.4h1.00v29.31h-1.00zM702.8 326.4h1.00v29.31h-1.00zM703.8 326.4h1.00v29.31h-1.00zM707.8 326.4h1.00v29.31h-1.00zM708.8 326.4h1.00v29.31h-1.00zM710.8 326.4h1.00v29.31h-1.00zM733.8 326.4h1.00v29.31h-1.00zM830.9 326.4h1.00v29.31h-1.00zM859.9 326.4h1.00v29.31h-1.00zM874.9 326.4h1.00v29.31h-1.00zM667.8 355.7h1.00v29.31h-1.00zM673.8 355.7h1.00v29.31h-1.00zM691.8 355.7h1.00v29.31h-1.00zM696.8 355.7h1.00v29.31h-1.00zM719.8 355.7h1.00v29.31h-1.00zM720.8 385.0h1.00v29.31h-1.00zM729.8 385.0h1.00v29.31h-1.00zM733.8 385.0h1.00v29.31h-1.00zM735.9 385.0h1.00v29.31h-1.00zM721.8 414.4h1.00v29.31h-1.00zM727.8 414.4h1.00v29.31h-1.00zM728.8 414.4h1.00v29.31h-1.00zM733.8 414.4h1.00v29.31h-1.00zM772.9 414.4h1.00v29.31h-1.00zM784.9 414.4h1.00v29.31h-1.00zM888.9 414.4h1.00v29.31h-1.00zM656.8 443.7h1.00v29.31h-1.00zM661.8 443.7h1.00v29.31h-1.00zM662.8 443.7h1.00v29.31h-1.00zM663.8 443.7h1.00v29.31h-1.00zM669.8 443.7h1.00v29.31h-1.00zM670.8 443.7h1.00v29.31h-1.00zM671.8 443.7h1.00v29.31h-1.00zM678.8 443.7h1.00v29.31h-1.00zM680.8 443.7h1.00v29.31h-1.00zM689.8 443.7h1.00v29.31h-1.00zM693.8 443.7h1.00v29.31h-1.00zM700.8 443.7h1.00v29.31h-1.00zM705.8 443.7h1.00v29.31h-1.00zM707.8 443.7h1.00v29.31h-1.00zM708.8 443.7h1.00v29.31h-1.00zM709.8 443.7h1.00v29.31h-1.00zM717.8 443.7h1.00v29.31h-1.00zM731.8 443.7h1.00v29.31h-1.00zM733.8 443.7h1.00v29.31h-1.00zM734.9 443.7h1.00v29.31h-1.00zM870.9 443.7h1.00v29.31h-1.00zM654.8 473.0h1.00v29.31h-1.00zM660.8 473.0h1.00v29.31h-1.00zM661.8 473.0h1.00v29.31h-1.00zM664.8 473.0h1.00v29.31h-1.00zM669.8 473.0h1.00v29.31h-1.00zM674.8 473.0h1.00v29.31h-1.00zM675.8 473.0h1.00v29.31h-1.00zM680.8 473.0h1.00v29.31h-1.00zM688.8 473.0h1.00v29.31h-1.00zM691.8 473.0h1.00v29.31h-1.00zM702.8 473.0h1.00v29.31h-1.00zM703.8 473.0h1.00v29.31h-1.00zM714.8 473.0h1.00v29.31h-1.00zM733.8 473.0h1.00v29.31h-1.00zM744.9 502.3h1.00v29.31h-1.00zM830.9 502.3h1.00v29.31h-1.00zM892.9 502.3h1.00v29.31h-1.00zM741.9 531.6h1.00v29.31h-1.00zM818.9 531.6h1.00v29.31h-1.00zM913.0 531.6h1.00v29.31h-1.00zM930.0 531.6h1.00v29.31h-1.00zM750.9 560.9h1.00v29.31h-1.00zM774.9 560.9h1.00v29.31h-1.00zM862.9 560.9h1.00v29.31h-1.00zM890.9 560.9h1.00v29.31h-1.00zM920.0 560.9h1.00v29.31h-1.00zM947.0 560.9h1.00v29.31h-1.00zM828.9 590.2h1.00v29.31h-1.00zM848.9 590.2h1.00v29.31h-1.00zM852.9 590.2h1.00v29.31h-1.00zM872.9 590.2h1.00v29.31h-1.00zM940.0 619.5h1.00v29.31h-1.00zM809.9 648.8h1.00v29.31h-1.00zM957.0 648.8h1.00v29.31h-1.00zM654.8 678.1h1.00v29.31h-1.00zM656.8 678.1h1.00v29.31h-1.00zM668.8 678.1h1.00v29.31h-1.00zM692.8 678.1h1.00v29.31h-1.00zM706.8 678.1h1.00v29.31h-1.00zM708.8 678.1h1.00v29.31h-1.00zM711.8 678.1h1.00v29.31h-1.00zM715.8 678.1h1.00v29.31h-1.00zM727.8 678.1h1.00v29.31h-1.00zM734.9 678.1h1.00v29.31h-1.00zM752.9 678.1h1.00v29.31h-1.00zM813.9 678.1h1.00v29.31h-1.00zM660.8 707.5h1.00v29.31h-1.00zM667.8 707.5h1.00v29.31h-1.00zM688.8 707.5h1.00v29.31h-1.00zM719.8 707.5h1.00v29.31h-1.00zM672.8 736.8h1.00v29.31h-1.00zM685.8 736.8h1.00v29.31h-1.00zM696.8 736.8h1.00v29.31h-1.00zM716.8 736.8h1.00v29.31h-1.00zM828.9 736.8h1.00v29.31h-1.00zM889.9 736.8h1.00v29.31h-1.00zM671.8 766.1h1.00v29.31h-1.00zM684.8 766.1h1.00v29.31h-1.00zM701.8 766.1h1.00v29.31h-1.00zM702.8 766.1h1.00v29.31h-1.00zM706.8 766.1h1.00v29.31h-1.00zM735.9 766.1h1.00v29.31h-1.00zM775.9 766.1h1.00v29.31h-1.00zM655.8 795.4h1.00v29.31h-1.00zM661.8 795.4h1.00v29.31h-1.00zM679.8 795.4h1.00v29.31h-1.00zM686.8 795.4h1.00v29.31h-1.00zM705.8 795.4h1.00v29.31h-1.00zM729.8 795.4h1.00v29.31h-1.00zM810.9 795.4h1.00v29.31h-1.00zM817.9 824.7h1.00v29.31h-1.00zM860.9 824.7h1.00v29.31h-1.00zM957.0 824.7h1.00v29.31h-1.00zM971.0 824.7h1.00v29.31h-1.00zM938.0 854.0h1.00v29.31h-1.00zM964.0 854.0h1.00v29.31h-1.00zM742.9 883.3h1.00v29.31h-1.00zM823.9 883.3h1.00v29.31h-1.00zM954.0 883.3h1.00v29.31h-1.00z"/>
<path fill="#CCCCFF" d="M695.8 238.5h1.00v29.31h-1.00zM704.8 238.5h1.00v29.31h-1.00zM810.9 238.5h1.00v29.31h-1.00zM706.8 267.8h1.00v29.31h-1.00zM700.8 355.7h1.00v29.31h-1.00zM655.8 385.0h1.00v29.31h-1.00zM677.8 443.7h1.00v29.31h-1.00zM718.8 443.7h1.00v29.31h-1.00zM677.8 473.0h1.00v29.31h-1.00zM694.8 473.0h1.00v29.31h-1.00zM745.9 502.3h1.00v29.31h-1.00zM966.0 502.3h1.00v29.31h-1.00zM775.9 531.6h1.00v29.31h-1.00zM844.9 619.5h1.00v29.31h-1.00zM810.9 648.8h1.00v29.31h-1.00zM699.8 678.1h1.00v29.31h-1.00zM658.8 707.5h1.00v29.31h-1.00zM702.8 736.8h1.00v29.31h-1.00zM686.8 766.1h1.00v29.31h-1.00zM682.8 795.4h1.00v29.31h-1.00zM706.8 795.4h1.00v29.31h-1.00zM728.8 795.4h1.00v29.31h-1.00zM835.9 795.4h1.00v29.31h-1.00z"/>
<path fill="#FF3333" d="M742.9 238.5h1.00v29.31h-1.00z"/>
<path fill="#FFB8B8" d="M751.9 238.5h1.00v29.31h-1.00zM797.9 238.5h1.00v29.31h-1.00zM829.9 238.5h1.00v29.31h-1.00zM865.9 238.5h1.00v29.31h-1.00zM877.9 238.5h1.00v29.31h-1.00zM881.9 238.5h1.00v29.31h-1.00zM762.9 267.8h1.00v29.31h-1.00zM775.9 267.8h1.00v29.31h-1.00zM891.9 267.8h1.00v29.31h-1.00zM931.0 267.8h1.00v29.31h-1.00zM743.9 297.1h1.00v29.31h-1.00zM827.9 297.1h1.00v29.31h-1.00zM887.9 297.1h1.00v29.31h-1.00zM848.9 326.4h1.00v29.31h-1.00zM887.9 326.4h1.00v29.31h-1.00zM929.0 326.4h1.00v29.31h-1.00zM855.9 385.0h1.00v29.31h-1.00zM740.9 414.4h1.00v29.31h-1.00zM748.9 414.4h1.00v29.31h-1.00zM749.9 414.4h1.00v29.31h-1.00zM830.9 414.4h1.00v29.31h-1.00zM892.9 414.4h1.00v29.31h-1.00zM928.0 414.4h1.00v29.31h-1.00zM965.0 414.4h1.00v29.31h-1.00zM784.9 473.0h1.00v29.31h-1.00zM802.9 473.0h1.00v29.31h-1.00zM655.8 502.3h1.00v29.31h-1.00zM676.8 502.3h1.00v29.31h-1.00zM696.8 502.3h1.00v29.31h-1.00zM719.8 502.3h1.00v29.31h-1.00zM659.8 531.6h1.00v29.31h-1.00zM738.9 531.6h1.00v29.31h-1.00zM946.0 531.6h1.00v29.31h-1.00zM727.8 560.9h1.00v29.31h-1.00zM832.9 560.9h1.00v29.31h-1.00zM865.9 590.2h1.00v29.31h-1.00zM714.8 619.5h1.00v29.31h-1.00zM897.0 619.5h1.00v29.31h-1.00zM658.8 648.8h1.00v29.31h-1.00zM704.8 648.8h1.00v29.31h-1.00zM784.9 648.8h1.00v29.31h-1.00zM833.9 648.8h1.00v29.31h-1.00zM854.9 678.1h1.00v29.31h-1.00zM969.0 678.1h1.00v29.31h-1.00zM750.9 707.5h1.00v29.31h-1.00zM784.9 707.5h1.00v29.31h-1.00zM825.9 707.5h1.00v29.31h-1.00zM914.0 707.5h1.00v29.31h-1.00zM876.9 736.8h1.00v29.31h-1.00zM892.9 736.8h1.00v29.31h-1.00zM906.0 736.8h1.00v29.31h-1.00zM976.0 736.8h1.00v29.31h-1.00zM771.9 766.1h1.00v29.31h-1.00zM924.0 766.1h1.00v29.31h-1.00zM971.0 766.1h1.00v29.31h-1.00zM788.9 795.4h1.00v29.31h-1.00zM825.9 795.4h1.00v29.31h-1.00zM840.9 795.4h1.00v29.31h-1.00zM859.9 795.4h1.00v29.31h-1.00zM661.8 824.7h1.00v29.31h-1.00zM702.8 824.7h1.00v29.31h-1.00zM975.0 824.7h1.00v29.31h-1.00zM690.8 854.0h1.00v29.31h-1.00zM734.9 854.0h1.00v29.31h-1.00zM748.9 854.0h1.00v29.31h-1.00zM754.9 854.0h1.00v29.31h-1.00zM693.8 883.3h1.00v29.31h-1.00z"/>
<path fill="#FFD6D6" d="M753.9 238.5h1.00v29.31h-1.00zM762.9 238.5h1.00v29.31h-1.00zM803.9 238.5h1.00v29.31h-1.00zM804.9 238.5h1.00v29.31h-1.00zM853.9 238.5h1.00v29.31h-1.00zM859.9 238.5h1.00v29.31h-1.00zM861.9 238.5h1.00v29.31h-1.00zM866.9 238.5h1.00v29.31h-1.00zM867.9 238.5h1.00v29.31h-1.00zM874.9 238.5h1.00v29.31h-1.00zM876.9 238.5h1.00v29.31h-1.00zM880.9 238.5h1.00v29.31h-1.00zM891.9 238.5h1.00v29.31h-1.00zM895.9 238.5h1.00v29.31h-1.00zM922.0 238.5h1.00v29.31h-1.00zM936.0 238.5h1.00v29.31h-1.00zM947.0 238.5h1.00v29.31h-1.00zM949.0 238.5h1.00v29.31h-1.00zM950.0 238.5h1.00v29.31h-1.00zM960.0 238.5h1.00v29.31h-1.00zM682.8 267.8h1.00v29.31h-1.00zM692.8 267.8h1.00v29.31h-1.00zM755.9 267.8h1.00v29.31h-1.00zM768.9 267.8h1.00v29.31h-1.00zM784.9 267.8h1.00v29.31h-1.00zM796.9 267.8h1.00v29.31h-1.00zM812.9 267.8h1.00v29.31h-1.00zM818.9 267.8h1.00v29.31h-1.00zM851.9 267.8h1.00v29.31h-1.00zM853.9 267.8h1.00v29.31h-1.00zM889.9 267.8h1.00v29.31h-1.00zM917.0 267.8h1.00v29.31h-1.00zM922.0 267.8h1.00v29.31h-1.00zM934.0 267.8h1.00v29.31h-1.00zM962.0 267.8h1.00v29.31h-1.00zM727.8 297.1h1.00v29.31h-1.00zM745.9 297.1h1.00v29.31h-1.00zM752.9 297.1h1.00v29.31h-1.00zM762.9 297.1h1.00v29.31h-1.00zM791.9 297.1h1.00v29.31h-1.00zM800.9 297.1h1.00v29.31h-1.00zM813.9 297.1h1.00v29.31h-1.00zM820.9 297.1h1.00v29.31h-1.00zM828.9 297.1h1.00v29.31h-1.00zM924.0 297.1h1.00v29.31h-1.00zM932.0 297.1h1.00v29.31h-1.00zM945.0 297.1h1.00v29.31h-1.00zM952.0 297.1h1.00v29.31h-1.00zM961.0 297.1h1.00v29.31h-1.00zM696.8 326.4h1.00v29.31h-1.00zM737.9 326.4h1.00v29.31h-1.00zM750.9 326.4h1.00v29.31h-1.00zM773.9 326.4h1.00v29.31h-1.00zM784.9 326.4h1.00v29.31h-1.00zM786.9 326.4h1.00v29.31h-1.00zM791.9 326.4h1.00v29.31h-1.00zM804.9 326.4h1.00v29.31h-1.00zM828.9 326.4h1.00v29.31h-1.00zM857.9 326.4h1.00v29.31h-1.00zM861.9 326.4h1.00v29.31h-1.00zM877.9 326.4h1.00v29.31h-1.00zM893.9 326.4h1.00v29.31h-1.00zM954.0 326.4h1.00v29.31h-1.00zM960.0 326.4h1.00v29.31h-1.00zM744.9 355.7h1.00v29.31h-1.00zM747.9 355.7h1.00v29.31h-1.00zM778.9 355.7h1.00v29.31h-1.00zM781.9 355.7h1.00v29.31h-1.00zM794.9 355.7h1.00v29.31h-1.00zM805.9 355.7h1.00v29.31h-1.00zM835.9 355.7h1.00v29.31h-1.00zM873.9 355.7h1.00v29.31h-1.00zM885.9 355.7h1.00v29.31h-1.00zM888.9 355.7h1.00v29.31h-1.00zM911.0 355.7h1.00v29.31h-1.00zM925.0 355.7h1.00v29.31h-1.00zM932.0 355.7h1.00v29.31h-1.00zM936.0 355.7h1.00v29.31h-1.00zM937.0 355.7h1.00v29.31h-1.00zM945.0 355.7h1.00v29.31h-1.00zM952.0 355.7h1.00v29.31h-1.00zM964.0 355.7h1.00v29.31h-1.00zM966.0 355.7h1.00v29.31h-1.00zM730.8 385.0h1.00v29.31h-1.00zM740.9 385.0h1.00v29.31h-1.00zM781.9 385.0h1.00v29.31h-1.00zM790.9 385.0h1.00v29.31h-1.00zM793.9 385.0h1.00v29.31h-1.00zM794.9 385.0h1.00v29.31h-1.00zM796.9 385.0h1.00v29.31h-1.00zM801.9 385.0h1.00v29.31h-1.00zM807.9 385.0h1.00v29.31h-1.00zM816.9 385.0h1.00v29.31h-1.00zM845.9 385.0h1.00v29.31h-1.00zM846.9 385.0h1.00v29.31h-1.00zM882.9 385.0h1.00v29.31h-1.00zM910.0 385.0h1.00v29.31h-1.00zM946.0 385.0h1.00v29.31h-1.00zM956.0 385.0h1.00v29.31h-1.00zM965.0 385.0h1.00v29.31h-1.00zM968.0 385.0h1.00v29.31h-1.00zM976.0 385.0h1.00v29.31h-1.00zM736.9 414.4h1.00v29.31h-1.00zM743.9 414.4h1.00v29.31h-1.00zM781.9 414.4h1.00v29.31h-1.00zM801.9 414.4h1.00v29.31h-1.00zM846.9 414.4h1.00v29.31h-1.00zM860.9 414.4h1.00v29.31h-1.00zM872.9 414.4h1.00v29.31h-1.00zM878.9 414.4h1.00v29.31h-1.00zM883.9 414.4h1.00v29.31h-1.00zM884.9 414.4h1.00v29.31h-1.00zM890.9 414.4h1.00v29.31h-1.00zM909.0 414.4h1.00v29.31h-1.00zM913.0 414.4h1.00v29.31h-1.00zM926.0 414.4h1.00v29.31h-1.00zM958.0 414.4h1.00v29.31h-1.00zM962.0 414.4h1.00v29.31h-1.00zM963.0 414.4h1.00v29.31h-1.00zM964.0 414.4h1.00v29.31h-1.00zM977.0 414.4h1.00v29.31h-1.00zM738.9 443.7h1.00v29.31h-1.00zM746.9 443.7h1.00v29.31h-1.00zM759.9 443.7h1.00v29.31h-1.00zM764.9 443.7h1.00v29.31h-1.00zM802.9 443.7h1.00v29.31h-1.00zM805.9 443.7h1.00v29.31h-1.00zM820.9 443.7h1.00v29.31h-1.00zM826.9 443.7h1.00v29.31h-1.00zM843.9 443.7h1.00v29.31h-1.00zM854.9 443.7h1.00v29.31h-1.00zM882.9 443.7h1.00v29.31h-1.00zM883.9 443.7h1.00v29.31h-1.00zM885.9 443.7h1.00v29.31h-1.00zM904.0 443.7h1.00v29.31h-1.00zM912.0 443.7h1.00v29.31h-1.00zM927.0 443.7h1.00v29.31h-1.00zM967.0 443.7h1.00v29.31h-1.00zM740.9 473.0h1.00v29.31h-1.00zM758.9 473.0h1.00v29.31h-1.00zM778.9 473.0h1.00v29.31h-1.00zM790.9 473.0h1.00v29.31h-1.00zM807.9 473.0h1.00v29.31h-1.00zM855.9 473.0h1.00v29.31h-1.00zM874.9 473.0h1.00v29.31h-1.00zM893.9 473.0h1.00v29.31h-1.00zM899.0 473.0h1.00v29.31h-1.00zM917.0 473.0h1.00v29.31h-1.00zM938.0 473.0h1.00v29.31h-1.00zM952.0 473.0h1.00v29.31h-1.00zM953.0 473.0h1.00v29.31h-1.00zM653.8 502.3h1.00v29.31h-1.00zM661.8 502.3h1.00v29.31h-1.00zM663.8 502.3h1.00v29.31h-1.00zM667.8 502.3h1.00v29.31h-1.00zM714.8 502.3h1.00v29.31h-1.00zM716.8 502.3h1.00v29.31h-1.00zM720.8 502.3h1.00v29.31h-1.00zM722.8 502.3h1.00v29.31h-1.00zM727.8 502.3h1.00v29.31h-1.00zM738.9 502.3h1.00v29.31h-1.00zM740.9 502.3h1.00v29.31h-1.00zM771.9 502.3h1.00v29.31h-1.00zM813.9 502.3h1.00v29.31h-1.00zM827.9 502.3h1.00v29.31h-1.00zM839.9 502.3h1.00v29.31h-1.00zM883.9 502.3h1.00v29.31h-1.00zM919.0 502.3h1.00v29.31h-1.00zM926.0 502.3h1.00v29.31h-1.00zM656.8 531.6h1.00v29.31h-1.00zM680.8 531.6h1.00v29.31h-1.00zM681.8 531.6h1.00v29.31h-1.00zM683.8 531.6h1.00v29.31h-1.00zM684.8 531.6h1.00v29.31h-1.00zM694.8 531.6h1.00v29.31h-1.00zM709.8 531.6h1.00v29.31h-1.00zM716.8 531.6h1.00v29.31h-1.00zM721.8 531.6h1.00v29.31h-1.00zM731.8 531.6h1.00v29.31h-1.00zM797.9 531.6h1.00v29.31h-1.00zM817.9 531.6h1.00v29.31h-1.00zM827.9 531.6h1.00v29.31h-1.00zM840.9 531.6h1.00v29.31h-1.00zM848.9 531.6h1.00v29.31h-1.00zM873.9 531.6h1.00v29.31h-1.00zM874.9 531.6h1.00v29.31h-1.00zM903.0 531.6h1.00v29.31h-1.00zM919.0 531.6h1.00v29.31h-1.00zM965.0 531.6h1.00v29.31h-1.00zM967.0 531.6h1.00v29.31h-1.00zM653.8 560.9h1.00v29.31h-1.00zM665.8 560.9h1.00v29.31h-1.00zM676.8 560.9h1.00v29.31h-1.00zM709.8 560.9h1.00v29.31h-1.00zM711.8 560.9h1.00v29.31h-1.00zM725.8 560.9h1.00v29.31h-1.00zM729.8 560.9h1.00v29.31h-1.00zM730.8 560.9h1.00v29.31h-1.00zM734.9 560.9h1.00v29.31h-1.00zM760.9 560.9h1.00v29.31h-1.00zM786.9 560.9h1.00v29.31h-1.00zM809.9 560.9h1.00v29.31h-1.00zM830.9 560.9h1.00v29.31h-1.00zM929.0 560.9h1.00v29.31h-1.00zM953.0 560.9h1.00v29.31h-1.00zM976.0 560.9h1.00v29.31h-1.00zM659.8 590.2h1.00v29.31h-1.00zM662.8 590.2h1.00v29.31h-1.00zM682.8 590.2h1.00v29.31h-1.00zM698.8 590.2h1.00v29.31h-1.00zM707.8 590.2h1.00v29.31h-1.00zM711.8 590.2h1.00v29.31h-1.00zM717.8 590.2h1.00v29.31h-1.00zM792.9 590.2h1.00v29.31h-1.00zM794.9 590.2h1.00v29.31h-1.00zM870.9 590.2h1.00v29.31h-1.00zM877.9 590.2h1.00v29.31h-1.00zM907.0 590.2h1.00v29.31h-1.00zM922.0 590.2h1.00v29.31h-1.00zM931.0 590.2h1.00v29.31h-1.00zM977.0 590.2h1.00v29.31h-1.00zM653.8 619.5h1.00v29.31h-1.00zM658.8 619.5h1.00v29.31h-1.00zM661.8 619.5h1.00v29.31h-1.00zM670.8 619.5h1.00v29.31h-1.00zM685.8 619.5h1.00v29.31h-1.00zM688.8 619.5h1.00v29.31h-1.00zM695.8 619.5h1.00v29.31h-1.00zM704.8 619.5h1.00v29.31h-1.00zM722.8 619.5h1.00v29.31h-1.00zM772.9 619.5h1.00v29.31h-1.00zM792.9 619.5h1.00v29.31h-1.00zM801.9 619.5h1.00v29.31h-1.00zM833.9 619.5h1.00v29.31h-1.00zM856.9 619.5h1.00v29.31h-1.00zM870.9 619.5h1.00v29.31h-1.00zM898.0 619.5h1.00v29.31h-1.00zM899.0 619.5h1.00v29.31h-1.00zM931.0 619.5h1.00v29.31h-1.00zM941.0 619.5h1.00v29.31h-1.00zM948.0 619.5h1.00v29.31h-1.00zM955.0 619.5h1.00v29.31h-1.00zM960.0 619.5h1.00v29.31h-1.00zM661.8 648.8h1.00v29.31h-1.00zM664.8 648.8h1.00v29.31h-1.00zM677.8 648.8h1.00v29.31h-1.00zM681.8 648.8h1.00v29.31h-1.00zM692.8 648.8h1.00v29.31h-1.00zM702.8 648.8h1.00v29.31h-1.00zM705.8 648.8h1.00v29.31h-1.00zM706.8 648.8h1.00v29.31h-1.00zM707.8 648.8h1.00v29.31h-1.00zM709.8 648.8h1.00v29.31h-1.00zM711.8 648.8h1.00v29.31h-1.00zM714.8 648.8h1.00v29.31h-1.00zM724.8 648.8h1.00v29.31h-1.00zM742.9 648.8h1.00v29.31h-1.00zM772.9 648.8h1.00v29.31h-1.00zM779.9 648.8h1.00v29.31h-1.00zM796.9 648.8h1.00v29.31h-1.00zM805.9 648.8h1.00v29.31h-1.00zM857.9 648.8h1.00v29.31h-1.00zM861.9 648.8h1.00v29.31h-1.00zM903.0 648.8h1.00v29.31h-1.00zM916.0 648.8h1.00v29.31h-1.00zM931.0 648.8h1.00v29.31h-1.00zM951.0 648.8h1.00v29.31h-1.00zM955.0 648.8h1.00v29.31h-1.00zM977.0 648.8h1.00v29.31h-1.00zM743.9 678.1h1.00v29.31h-1.00zM746.9 678.1h1.00v29.31h-1.00zM766.9 678.1h1.00v29.31h-1.00zM827.9 678.1h1.00v29.31h-1.00zM829.9 678.1h1.00v29.31h-1.00zM867.9 678.1h1.00v29.31h-1.00zM876.9 678.1h1.00v29.31h-1.00zM932.0 678.1h1.00v29.31h-1.00zM948.0 678.1h1.00v29.31h-1.00zM954.0 678.1h1.00v29.31h-1.00zM968.0 678.1h1.00v29.31h-1.00zM974.0 678.1h1.00v29.31h-1.00zM678.8 707.5h1.00v29.31h-1.00zM743.9 707.5h1.00v29.31h-1.00zM748.9 707.5h1.00v29.31h-1.00zM844.9 707.5h1.00v29.31h-1.00zM871.9 707.5h1.00v29.31h-1.00zM879.9 707.5h1.00v29.31h-1.00zM898.0 707.5h1.00v29.31h-1.00zM924.0 707.5h1.00v29.31h-1.00zM934.0 707.5h1.00v29.31h-1.00zM938.0 707.5h1.00v29.31h-1.00zM947.0 707.5h1.00v29.31h-1.00zM949.0 707.5h1.00v29.31h-1.00zM719.8 736.8h1.00v29.31h-1.00zM725.8 736.8h1.00v29.31h-1.00zM733.8 736.8h1.00v29.31h-1.00zM755.9 736.8h1.00v29.31h-1.00zM772.9 736.8h1.00v29.31h-1.00zM785.9 736.8h1.00v29.31h-1.00zM814.9 736.8h1.00v29.31h-1.00zM832.9 736.8h1.00v29.31h-1.00zM836.9 736.8h1.00v29.31h-1.00zM837.9 736.8h1.00v29.31h-1.00zM846.9 736.8h1.00v29.31h-1.00zM863.9 736.8h1.00v29.31h-1.00zM915.0 736.8h1.00v29.31h-1.00zM923.0 736.8h1.00v29.31h-1.00zM929.0 736.8h1.00v29.31h-1.00zM946.0 736.8h1.00v29.31h-1.00zM961.0 736.8h1.00v29.31h-1.00zM971.0 736.8h1.00v29.31h-1.00zM764.9 766.1h1.00v29.31h-1.00zM765.9 766.1h1.00v29.31h-1.00zM773.9 766.1h1.00v29.31h-1.00zM792.9 766.1h1.00v29.31h-1.00zM825.9 766.1h1.00v29.31h-1.00zM829.9 766.1h1.00v29.31h-1.00zM831.9 766.1h1.00v29.31h-1.00zM867.9 766.1h1.00v29.31h-1.00zM871.9 766.1h1.00v29.31h-1.00zM925.0 766.1h1.00v29.31h-1.00zM942.0 766.1h1.00v29.31h-1.00zM967.0 766.1h1.00v29.31h-1.00zM976.0 766.1h1.00v29.31h-1.00zM742.9 795.4h1.00v29.31h-1.00zM784.9 795.4h1.00v29.31h-1.00zM785.9 795.4h1.00v29.31h-1.00zM802.9 795.4h1.00v29.31h-1.00zM816.9 795.4h1.00v29.31h-1.00zM842.9 795.4h1.00v29.31h-1.00zM874.9 795.4h1.00v29.31h-1.00zM877.9 795.4h1.00v29.31h-1.00zM892.9 795.4h1.00v29.31h-1.00zM918.0 795.4h1.00v29.31h-1.00zM932.0 795.4h1.00v29.31h-1.00zM946.0 795.4h1.00v29.31h-1.00zM958.0 795.4h1.00v29.31h-1.00zM962.0 795.4h1.00v29.31h-1.00zM653.8 824.7h1.00v29.31h-1.00zM656.8 824.7h1.00v29.31h-1.00zM657.8 824.7h1.00v29.31h-1.00zM683.8 824.7h1.00v29.31h-1.00zM685.8 824.7h1.00v29.31h-1.00zM693.8 824.7h1.00v29.31h-1.00zM705.8 824.7h1.00v29.31h-1.00zM708.8 824.7h1.00v29.31h-1.00zM713.8 824.7h1.00v29.31h-1.00zM733.8 824.7h1.00v29.31h-1.00zM765.9 824.7h1.00v29.31h-1.00zM798.9 824.7h1.00v29.31h-1.00zM811.9 824.7h1.00v29.31h-1.00zM829.9 824.7h1.00v29.31h-1.00zM850.9 824.7h1.00v29.31h-1.00zM862.9 824.7h1.00v29.31h-1.00zM874.9 824.7h1.00v29.31h-1.00zM885.9 824.7h1.00v29.31h-1.00zM899.0 824.7h1.00v29.31h-1.00zM905.0 824.7h1.00v29.31h-1.00zM923.0 824.7h1.00v29.31h-1.00zM947.0 824.7h1.00v29.31h-1.00zM974.0 824.7h1.00v29.31h-1.00zM658.8 854.0h1.00v29.31h-1.00zM659.8 854.0h1.00v29.31h-1.00zM680.8 854.0h1.00v29.31h-1.00zM683.8 854.0h1.00v29.31h-1.00zM685.8 854.0h1.00v29.31h-1.00zM693.8 854.0h1.00v29.31h-1.00zM710.8 854.0h1.00v29.31h-1.00zM724.8 854.0h1.00v29.31h-1.00zM740.9 854.0h1.00v29.31h-1.00zM793.9 854.0h1.00v29.31h-1.00zM807.9 854.0h1.00v29.31h-1.00zM816.9 854.0h1.00v29.31h-1.00zM848.9 854.0h1.00v29.31h-1.00zM850.9 854.0h1.00v29.31h-1.00zM876.9 854.0h1.00v29.31h-1.00zM899.0 854.0h1.00v29.31h-1.00zM941.0 854.0h1.00v29.31h-1.00zM972.0 854.0h1.00v29.31h-1.00zM975.0 854.0h1.00v29.31h-1.00zM656.8 883.3h1.00v29.31h-1.00zM659.8 883.3h1.00v29.31h-1.00zM671.8 883.3h1.00v29.31h-1.00zM676.8 883.3h1.00v29.31h-1.00zM686.8 883.3h1.00v29.31h-1.00zM690.8 883.3h1.00v29.31h-1.00zM695.8 883.3h1.00v29.31h-1.00zM698.8 883.3h1.00v29.31h-1.00zM735.9 883.3h1.00v29.31h-1.00zM765.9 883.3h1.00v29.31h-1.00zM810.9 883.3h1.00v29.31h-1.00zM872.9 883.3h1.00v29.31h-1.00zM922.0 883.3h1.00v29.31h-1.00zM933.0 883.3h1.00v29.31h-1.00zM944.0 883.3h1.00v29.31h-1.00zM945.0 883.3h1.00v29.31h-1.00z"/>
<path fill="#FFADAD" d="M761.9 238.5h1.00v29.31h-1.00zM788.9 238.5h1.00v29.31h-1.00zM857.9 238.5h1.00v29.31h-1.00zM827.9 267.8h1.00v29.31h-1.00zM775.9 297.1h1.00v29.31h-1.00zM891.9 326.4h1.00v29.31h-1.00zM854.9 473.0h1.00v29.31h-1.00zM709.8 502.3h1.00v29.31h-1.00zM731.8 502.3h1.00v29.31h-1.00zM671.8 531.6h1.00v29.31h-1.00zM815.9 531.6h1.00v29.31h-1.00zM842.9 560.9h1.00v29.31h-1.00zM946.0 560.9h1.00v29.31h-1.00zM657.8 619.5h1.00v29.31h-1.00zM712.8 619.5h1.00v29.31h-1.00zM725.8 619.5h1.00v29.31h-1.00zM780.9 619.5h1.00v29.31h-1.00zM663.8 648.8h1.00v29.31h-1.00zM927.0 648.8h1.00v29.31h-1.00zM771.9 736.8h1.00v29.31h-1.00zM895.9 736.8h1.00v29.31h-1.00zM907.0 736.8h1.00v29.31h-1.00zM875.9 795.4h1.00v29.31h-1.00zM667.8 824.7h1.00v29.31h-1.00zM701.8 824.7h1.00v29.31h-1.00zM725.8 824.7h1.00v29.31h-1.00zM652.8 854.0h1.00v29.31h-1.00zM681.8 854.0h1.00v29.31h-1.00zM879.9 854.0h1.00v29.31h-1.00zM708.8 883.3h1.00v29.31h-1.00z"/>
<path fill="#FFC2C2" d="M831.9 238.5h1.00v29.31h-1.00zM835.9 238.5h1.00v29.31h-1.00zM838.9 238.5h1.00v29.31h-1.00zM854.9 238.5h1.00v29.31h-1.00zM673.8 267.8h1.00v29.31h-1.00zM895.9 267.8h1.00v29.31h-1.00zM972.0 267.8h1.00v29.31h-1.00zM739.9 297.1h1.00v29.31h-1.00zM799.9 297.1h1.00v29.31h-1.00zM852.9 297.1h1.00v29.31h-1.00zM884.9 297.1h1.00v29.31h-1.00zM917.0 297.1h1.00v29.31h-1.00zM739.9 326.4h1.00v29.31h-1.00zM852.9 326.4h1.00v29.31h-1.00zM858.9 326.4h1.00v29.31h-1.00zM946.0 326.4h1.00v29.31h-1.00zM962.0 326.4h1.00v29.31h-1.00zM964.0 326.4h1.00v29.31h-1.00zM866.9 355.7h1.00v29.31h-1.00zM912.0 355.7h1.00v29.31h-1.00zM924.0 355.7h1.00v29.31h-1.00zM926.0 355.7h1.00v29.31h-1.00zM963.0 355.7h1.00v29.31h-1.00zM762.9 385.0h1.00v29.31h-1.00zM798.9 385.0h1.00v29.31h-1.00zM870.9 385.0h1.00v29.31h-1.00zM872.9 385.0h1.00v29.31h-1.00zM903.0 385.0h1.00v29.31h-1.00zM932.0 385.0h1.00v29.31h-1.00zM945.0 385.0h1.00v29.31h-1.00zM964.0 385.0h1.00v29.31h-1.00zM941.0 414.4h1.00v29.31h-1.00zM790.9 443.7h1.00v29.31h-1.00zM874.9 443.7h1.00v29.31h-1.00zM893.9 443.7h1.00v29.31h-1.00zM791.9 473.0h1.00v29.31h-1.00zM841.9 473.0h1.00v29.31h-1.00zM927.0 473.0h1.00v29.31h-1.00zM671.8 502.3h1.00v29.31h-1.00zM694.8 502.3h1.00v29.31h-1.00zM898.0 502.3h1.00v29.31h-1.00zM677.8 531.6h1.00v29.31h-1.00zM685.8 531.6h1.00v29.31h-1.00zM705.8 531.6h1.00v29.31h-1.00zM743.9 531.6h1.00v29.31h-1.00zM755.9 531.6h1.00v29.31h-1.00zM792.9 531.6h1.00v29.31h-1.00zM814.9 531.6h1.00v29.31h-1.00zM973.0 531.6h1.00v29.31h-1.00zM664.8 560.9h1.00v29.31h-1.00zM677.8 560.9h1.00v29.31h-1.00zM691.8 560.9h1.00v29.31h-1.00zM693.8 560.9h1.00v29.31h-1.00zM702.8 560.9h1.00v29.31h-1.00zM745.9 560.9h1.00v29.31h-1.00zM748.9 560.9h1.00v29.31h-1.00zM898.0 560.9h1.00v29.31h-1.00zM963.0 560.9h1.00v29.31h-1.00zM960.0 590.2h1.00v29.31h-1.00zM715.8 619.5h1.00v29.31h-1.00zM918.0 619.5h1.00v29.31h-1.00zM712.8 648.8h1.00v29.31h-1.00zM731.8 648.8h1.00v29.31h-1.00zM773.9 648.8h1.00v29.31h-1.00zM887.9 648.8h1.00v29.31h-1.00zM890.9 648.8h1.00v29.31h-1.00zM917.0 648.8h1.00v29.31h-1.00zM803.9 678.1h1.00v29.31h-1.00zM822.9 678.1h1.00v29.31h-1.00zM847.9 678.1h1.00v29.31h-1.00zM925.0 678.1h1.00v29.31h-1.00zM935.0 678.1h1.00v29.31h-1.00zM941.0 678.1h1.00v29.31h-1.00zM947.0 678.1h1.00v29.31h-1.00zM771.9 707.5h1.00v29.31h-1.00zM822.9 707.5h1.00v29.31h-1.00zM848.9 707.5h1.00v29.31h-1.00zM923.0 707.5h1.00v29.31h-1.00zM969.0 707.5h1.00v29.31h-1.00zM756.9 736.8h1.00v29.31h-1.00zM798.9 736.8h1.00v29.31h-1.00zM884.9 736.8h1.00v29.31h-1.00zM924.0 736.8h1.00v29.31h-1.00zM758.9 766.1h1.00v29.31h-1.00zM772.9 766.1h1.00v29.31h-1.00zM794.9 766.1h1.00v29.31h-1.00zM816.9 766.1h1.00v29.31h-1.00zM890.9 766.1h1.00v29.31h-1.00zM892.9 766.1h1.00v29.31h-1.00zM782.9 795.4h1.00v29.31h-1.00zM796.9 795.4h1.00v29.31h-1.00zM895.9 795.4h1.00v29.31h-1.00zM907.0 795.4h1.00v29.31h-1.00zM679.8 824.7h1.00v29.31h-1.00zM699.8 824.7h1.00v29.31h-1.00zM707.8 824.7h1.00v29.31h-1.00zM717.8 824.7h1.00v29.31h-1.00zM719.8 824.7h1.00v29.31h-1.00zM789.9 824.7h1.00v29.31h-1.00zM803.9 824.7h1.00v29.31h-1.00zM816.9 824.7h1.00v29.31h-1.00zM666.8 854.0h1.00v29.31h-1.00zM695.8 854.0h1.00v29.31h-1.00zM707.8 854.0h1.00v29.31h-1.00zM716.8 854.0h1.00v29.31h-1.00zM731.8 854.0h1.00v29.31h-1.00zM733.8 854.0h1.00v29.31h-1.00zM835.9 854.0h1.00v29.31h-1.00zM976.0 854.0h1.00v29.31h-1.00zM653.8 883.3h1.00v29.31h-1.00zM661.8 883.3h1.00v29.31h-1.00z"/>
<path fill="#FF9999" d="M862.9 238.5h1.00v29.31h-1.00zM948.0 238.5h1.00v29.31h-1.00zM933.0 326.4h1.00v29.31h-1.00zM784.9 355.7h1.00v29.31h-1.00zM921.0 385.0h1.00v29.31h-1.00zM829.9 414.4h1.00v29.31h-1.00zM946.0 443.7h1.00v29.31h-1.00zM814.9 502.3h1.00v29.31h-1.00zM823.9 502.3h1.00v29.31h-1.00zM703.8 531.6h1.00v29.31h-1.00zM697.8 590.2h1.00v29.31h-1.00zM707.8 619.5h1.00v29.31h-1.00zM906.0 707.5h1.00v29.31h-1.00zM942.0 707.5h1.00v29.31h-1.00zM875.9 736.8h1.00v29.31h-1.00zM692.8 883.3h1.00v29.31h-1.00zM719.8 883.3h1.00v29.31h-1.00zM797.9 883.3h1.00v29.31h-1.00z"/>
<path fill="#FF7A7A" d="M894.9 238.5h1.00v29.31h-1.00zM921.0 238.5h1.00v29.31h-1.00zM737.9 590.2h1.00v29.31h-1.00zM900.0 590.2h1.00v29.31h-1.00zM911.0 678.1h1.00v29.31h-1.00z"/>
<path fill="#FF8F8F" d="M905.0 238.5h1.00v29.31h-1.00zM869.9 267.8h1.00v29.31h-1.00zM869.9 297.1h1.00v29.31h-1.00zM891.9 297.1h1.00v29.31h-1.00zM743.9 326.4h1.00v29.31h-1.00zM837.9 414.4h1.00v29.31h-1.00zM778.9 678.1h1.00v29.31h-1.00zM781.9 678.1h1.00v29.31h-1.00zM867.9 707.5h1.00v29.31h-1.00zM760.9 766.1h1.00v29.31h-1.00zM733.8 883.3h1.00v29.31h-1.00z"/>
<path fill="#C2C2FF" d="M710.8 267.8h1.00v29.31h-1.00zM674.8 443.7h1.00v29.31h-1.00zM725.8 443.7h1.00v29.31h-1.00zM678.8 473.0h1.00v29.31h-1.00zM732.8 473.0h1.00v29.31h-1.00zM947.0 590.2h1.00v29.31h-1.00zM691.8 678.1h1.00v29.31h-1.00zM704.8 678.1h1.00v29.31h-1.00zM821.9 707.5h1.00v29.31h-1.00z"/>
<path fill="#FF3D3D" d="M736.9 267.8h1.00v29.31h-1.00zM769.9 267.8h1.00v29.31h-1.00zM736.9 297.1h1.00v29.31h-1.00zM769.9 297.1h1.00v29.31h-1.00zM736.9 326.4h1.00v29.31h-1.00zM769.9 326.4h1.00v29.31h-1.00z"/>
<path fill="#FFA3A3" d="M743.9 267.8h1.00v29.31h-1.00zM827.9 326.4h1.00v29.31h-1.00zM872.9 355.7h1.00v29.31h-1.00zM688.8 502.3h1.00v29.31h-1.00zM730.8 531.6h1.00v29.31h-1.00zM663.8 619.5h1.00v29.31h-1.00zM688.8 648.8h1.00v29.31h-1.00zM739.9 678.1h1.00v29.31h-1.00zM911.0 707.5h1.00v29.31h-1.00zM959.0 795.4h1.00v29.31h-1.00zM673.8 824.7h1.00v29.31h-1.00zM928.0 824.7h1.00v29.31h-1.00zM666.8 883.3h1.00v29.31h-1.00zM731.8 883.3h1.00v29.31h-1.00z"/>
<path fill="#FF8585" d="M757.9 267.8h1.00v29.31h-1.00zM761.9 267.8h1.00v29.31h-1.00zM757.9 297.1h1.00v29.31h-1.00zM761.9 297.1h1.00v29.31h-1.00zM757.9 326.4h1.00v29.31h-1.00zM761.9 326.4h1.00v29.31h-1.00zM869.9 326.4h1.00v29.31h-1.00zM937.0 385.0h1.00v29.31h-1.00zM803.9 473.0h1.00v29.31h-1.00zM674.8 531.6h1.00v29.31h-1.00zM779.9 678.1h1.00v29.31h-1.00zM780.9 678.1h1.00v29.31h-1.00zM842.9 678.1h1.00v29.31h-1.00zM801.9 707.5h1.00v29.31h-1.00zM764.9 795.4h1.00v29.31h-1.00zM879.9 795.4h1.00v29.31h-1.00zM664.8 824.7h1.00v29.31h-1.00z"/>
<path fill="#FF7070" d="M795.9 267.8h1.00v29.31h-1.00zM795.9 297.1h1.00v29.31h-1.00zM795.9 326.4h1.00v29.31h-1.00zM852.9 443.7h1.00v29.31h-1.00zM962.0 648.8h1.00v29.31h-1.00zM771.9 678.1h1.00v29.31h-1.00zM774.9 678.1h1.00v29.31h-1.00zM888.9 678.1h1.00v29.31h-1.00zM737.9 707.5h1.00v29.31h-1.00z"/>
<path fill="#FF6666" d="M809.9 267.8h1.00v29.31h-1.00zM809.9 297.1h1.00v29.31h-1.00zM809.9 326.4h1.00v29.31h-1.00zM748.9 678.1h1.00v29.31h-1.00zM868.9 678.1h1.00v29.31h-1.00zM722.8 854.0h1.00v29.31h-1.00z"/>
<path fill="#FF4747" d="M839.9 267.8h1.00v29.31h-1.00zM885.9 267.8h1.00v29.31h-1.00zM839.9 297.1h1.00v29.31h-1.00zM885.9 297.1h1.00v29.31h-1.00zM839.9 326.4h1.00v29.31h-1.00zM885.9 326.4h1.00v29.31h-1.00z"/>
<path fill="#FF5252" d="M933.0 267.8h1.00v29.31h-1.00zM933.0 297.1h1.00v29.31h-1.00zM823.9 355.7h1.00v29.31h-1.00zM905.0 560.9h1.00v29.31h-1.00zM909.0 678.1h1.00v29.31h-1.00zM656.8 854.0h1.00v29.31h-1.00z"/>
<path fill="#8F8FFF" d="M862.9 297.1h1.00v29.31h-1.00z"/>
<path fill="#FF0000" d="M828.9 355.7h1.00v29.31h-1.00zM851.9 385.0h1.00v29.31h-1.00z"/>
<path fill="#FF2929" d="M966.0 385.0h1.00v29.31h-1.00z"/>
<path fill="#6666FF" d="M761.9 648.8h1.00v29.31h-1.00zM818.9 648.8h1.00v29.31h-1.00z"/>
<path fill="#FF5C5C" d="M721.8 824.7h1.00v29.31h-1.00z"/>
<text transform="translate(980.80,265.36) scale(1.0,1.05)" font-size="28.8">X_Met (phenolic compound),RI:1738.39</text>
<text transform="translate(980.80,294.66) scale(1.0,1.05)" font-size="28.8">Ribose</text>
<text transform="translate(980.80,323.97) scale(1.0,1.05)" font-size="28.8">D-(+)-Trehalose</text>
<text transform="translate(980.80,353.28) scale(1.0,1.05)" font-size="28.8">D-(+)-Maltose</text>
<text transform="translate(980.80,382.59) scale(1.0138,1.05)" font-size="28.8">PE(P-18:0/22:5) + PE(P-20:1/20:4)</text>
<text transform="translate(980.80,411.90) scale(1.0,1.05)" font-size="28.8">X_Met (Sorbitol or mannitol), RI:1928.43</text>
<text transform="translate(980.80,441.21) scale(1.0,1.05)" font-size="28.8">X_Met (Sorbitol or mannitol), RI:1928.75</text>
<text transform="translate(980.80,470.52) scale(1.0,1.05)" font-size="28.8">Xlip_26</text>
<text transform="translate(980.80,499.83) scale(1.0,1.05)" font-size="28.8">Xlip_65</text>
<text transform="translate(980.80,529.14) scale(1.0,1.05)" font-size="28.8">Glyceric acid</text>
<text transform="translate(980.80,558.46) scale(1.0,1.05)" font-size="28.8">X_Met (amino acid), RI:1655.61</text>
<text transform="translate(980.80,587.77) scale(1.0,1.05)" font-size="28.8">Quinic acid</text>
<text transform="translate(980.80,617.08) scale(1.0,1.05)" font-size="28.8">TG(51:2)</text>
<text transform="translate(980.80,646.38) scale(1.0197,1.05)" font-size="28.8">X_Met, RI:2115.12</text>
<text transform="translate(980.80,675.70) scale(1.0,1.05)" font-size="28.8">Cholesterol</text>
<text transform="translate(980.80,705.01) scale(1.0,1.05)" font-size="28.8">Xlip_69</text>
<text transform="translate(980.80,734.32) scale(1.0195,1.05)" font-size="28.8">O-LPC(16:0)</text>
<text transform="translate(980.80,763.62) scale(1.0,1.05)" font-size="28.8">Xlip_245</text>
<text transform="translate(980.80,792.94) scale(1.023,1.05)" font-size="28.8">LPC(16:0)</text>
<text transform="translate(980.80,822.25) scale(1.023,1.05)" font-size="28.8">LPC(18:0)</text>
<text transform="translate(980.80,851.56) scale(0.984,1.05)" font-size="28.8">Alanine</text>
<text transform="translate(980.80,880.87) scale(0.986,1.05)" font-size="28.8">Threonine</text>
<text transform="translate(980.80,910.18) scale(1.0,1.05)" font-size="28.8">Serine</text>
<path d="M652.8 311.8H641.8V341.1H652.8M652.8 282.5H632.3V326.4H641.8M652.8 253.2H625.2V304.4H632.3M652.8 399.7H640.1V429.0H652.8M652.8 458.3H639.5V487.6H652.8M640.1 414.4H622.4V473.0H639.5M652.8 370.4H621.6V443.7H622.4M625.2 278.8H619.6V407.0H621.6M652.8 546.3H635.3V575.6H652.8M652.8 516.9H625.5V560.9H635.3M652.8 634.2H626.5V663.5H652.8M652.8 604.9H623.4V648.8H626.5M625.5 538.9H620.4V626.9H623.4M652.8 780.7H642.5V810.0H652.8M652.8 751.4H638.8V795.4H642.5M652.8 722.1H633.3V773.4H638.8M652.8 692.8H630.0V747.8H633.3M652.8 868.7H636.1V898.0H652.8M652.8 839.4H628.0V883.3H636.1M630.0 720.3H620.4V861.3H628.0M620.4 582.9H618.3V790.8H620.4M619.6 342.9H614.3V686.9H618.3" stroke="#404040" stroke-width="1.3" fill="none"/>
<text x="420" y="1034.5" font-size="32" font-weight="bold" font-family="Liberation Sans, sans-serif">Individual metabolite AUC for TBI/reference discrimination</text>
<rect x="482.75" y="1069.7" width="712.1" height="32.7" fill="#FF0000" stroke="#000" stroke-width="1.5"/>
<text transform="translate(491.20,1092.90) scale(1.0,1.05)" font-size="21.3" fill="#111">0.9311</text>
<text transform="translate(462.50,1096.45) scale(1.0,1.03)" font-size="25.5" text-anchor="end">Xlip_26</text>
<path d="M1164.4 1086.0H1226M1164.4 1077.8V1094.2M1226 1077.8V1094.2" stroke="#000" stroke-width="1.6" fill="none"/>
<rect x="1170.5" y="1083.0" width="44.5" height="6.2" rx="2.5" fill="#000"/>
<path d="M1152.3 1086.0a3.1 3.1 0 1 0 6.2 0a3.1 3.1 0 1 0 -6.2 0M1162.4 1086.0a3.1 3.1 0 1 0 6.2 0a3.1 3.1 0 1 0 -6.2 0M1214.9 1086.0a3.1 3.1 0 1 0 6.2 0a3.1 3.1 0 1 0 -6.2 0M1218.5 1086.0a3.1 3.1 0 1 0 6.2 0a3.1 3.1 0 1 0 -6.2 0" fill="none" stroke="#000" stroke-width="1.2"/>
<rect x="482.75" y="1109.4" width="682.7" height="32.7" fill="#FF0C0C" stroke="#000" stroke-width="1.5"/>
<text transform="translate(491.20,1132.68) scale(1.0,1.05)" font-size="21.3" fill="#111">0.8927</text>
<text transform="translate(462.50,1136.23) scale(1.0,1.03)" font-size="25.5" text-anchor="end">Xlip_65</text>
<path d="M1135.4 1125.8H1196.5M1135.4 1117.6V1134.0M1196.5 1117.6V1134.0" stroke="#000" stroke-width="1.6" fill="none"/>
<rect x="1142.4" y="1122.7" width="44.6" height="6.2" rx="2.5" fill="#000"/>
<path d="M1136.3 1125.8a3.1 3.1 0 1 0 6.2 0a3.1 3.1 0 1 0 -6.2 0M1186.9 1125.8a3.1 3.1 0 1 0 6.2 0a3.1 3.1 0 1 0 -6.2 0M1188.9 1125.8a3.1 3.1 0 1 0 6.2 0a3.1 3.1 0 1 0 -6.2 0" fill="none" stroke="#000" stroke-width="1.2"/>
<rect x="482.75" y="1149.2" width="590.8" height="32.7" fill="#FF1717" stroke="#000" stroke-width="1.5"/>
<text transform="translate(491.20,1172.46) scale(1.0,1.05)" font-size="21.3" fill="#111">0.7728</text>
<text transform="translate(462.50,1176.01) scale(1.0155844155844154,1.03)" font-size="25.5" text-anchor="end">Ribose</text>
<path d="M1029.2 1165.6H1119.8M1029.2 1157.4V1173.8M1119.8 1157.4V1173.8" stroke="#000" stroke-width="1.6" fill="none"/>
<rect x="1026" y="1162.5" width="8.0" height="6.2" rx="2.5" fill="#000"/>
<rect x="1052" y="1162.5" width="44.0" height="6.2" rx="2.5" fill="#000"/>
<path d="M1114.9 1165.6a3.1 3.1 0 1 0 6.2 0a3.1 3.1 0 1 0 -6.2 0M1118.4 1165.6a3.1 3.1 0 1 0 6.2 0a3.1 3.1 0 1 0 -6.2 0M1035.9 1165.6a3.1 3.1 0 1 0 6.2 0a3.1 3.1 0 1 0 -6.2 0M1039.2 1165.6a3.1 3.1 0 1 0 6.2 0a3.1 3.1 0 1 0 -6.2 0M1042.6 1165.6a3.1 3.1 0 1 0 6.2 0a3.1 3.1 0 1 0 -6.2 0M1045.9 1165.6a3.1 3.1 0 1 0 6.2 0a3.1 3.1 0 1 0 -6.2 0M1095.9 1165.6a3.1 3.1 0 1 0 6.2 0a3.1 3.1 0 1 0 -6.2 0M1099.9 1165.6a3.1 3.1 0 1 0 6.2 0a3.1 3.1 0 1 0 -6.2 0" fill="none" stroke="#000" stroke-width="1.2"/>
<rect x="482.75" y="1189.0" width="574.1" height="32.7" fill="#FF2323" stroke="#000" stroke-width="1.5"/>
<text transform="translate(491.20,1212.24) scale(1.0,1.05)" font-size="21.3" fill="#111">0.7511</text>
<text transform="translate(462.50,1215.79) scale(1.0,1.03)" font-size="25.5" text-anchor="end">LPC(16:0)</text>
<path d="M1010.5 1208.2H1105.3M1010.5 1200.0V1216.4M1105.3 1200.0V1216.4" stroke="#000" stroke-width="1.6" fill="none"/>
<rect x="1028" y="1205.1" width="66.0" height="6.2" rx="2.5" fill="#000"/>
<path d="M1000.6 1208.2a3.1 3.1 0 1 0 6.2 0a3.1 3.1 0 1 0 -6.2 0M1009.9 1208.2a3.1 3.1 0 1 0 6.2 0a3.1 3.1 0 1 0 -6.2 0M1012.9 1208.2a3.1 3.1 0 1 0 6.2 0a3.1 3.1 0 1 0 -6.2 0M1015.9 1208.2a3.1 3.1 0 1 0 6.2 0a3.1 3.1 0 1 0 -6.2 0M1018.9 1208.2a3.1 3.1 0 1 0 6.2 0a3.1 3.1 0 1 0 -6.2 0M1021.9 1208.2a3.1 3.1 0 1 0 6.2 0a3.1 3.1 0 1 0 -6.2 0M1094.9 1208.2a3.1 3.1 0 1 0 6.2 0a3.1 3.1 0 1 0 -6.2 0M1096.9 1208.2a3.1 3.1 0 1 0 6.2 0a3.1 3.1 0 1 0 -6.2 0" fill="none" stroke="#000" stroke-width="1.2"/>
<rect x="482.75" y="1228.8" width="572.5" height="32.7" fill="#FF2E2E" stroke="#000" stroke-width="1.5"/>
<text transform="translate(491.20,1252.02) scale(1.0,1.05)" font-size="21.3" fill="#111">0.749</text>
<text transform="translate(462.50,1255.57) scale(0.9915,1.03)" font-size="25.5" text-anchor="end">X_Met (Sorbitol or mannitol), RI:1928.43</text>
<path d="M1006.7 1245.2H1105.3M1006.7 1237.0V1253.4M1105.3 1237.0V1253.4" stroke="#000" stroke-width="1.6" fill="none"/>
<rect x="1030" y="1242.1" width="64.0" height="6.2" rx="2.5" fill="#000"/>
<path d="M1000.9 1245.2a3.1 3.1 0 1 0 6.2 0a3.1 3.1 0 1 0 -6.2 0M1006.9 1245.2a3.1 3.1 0 1 0 6.2 0a3.1 3.1 0 1 0 -6.2 0M1010.3 1245.2a3.1 3.1 0 1 0 6.2 0a3.1 3.1 0 1 0 -6.2 0M1013.7 1245.2a3.1 3.1 0 1 0 6.2 0a3.1 3.1 0 1 0 -6.2 0M1017.1 1245.2a3.1 3.1 0 1 0 6.2 0a3.1 3.1 0 1 0 -6.2 0M1020.5 1245.2a3.1 3.1 0 1 0 6.2 0a3.1 3.1 0 1 0 -6.2 0M1023.9 1245.2a3.1 3.1 0 1 0 6.2 0a3.1 3.1 0 1 0 -6.2 0M1093.9 1245.2a3.1 3.1 0 1 0 6.2 0a3.1 3.1 0 1 0 -6.2 0M1097.9 1245.2a3.1 3.1 0 1 0 6.2 0a3.1 3.1 0 1 0 -6.2 0" fill="none" stroke="#000" stroke-width="1.2"/>
<rect x="482.75" y="1268.6" width="567.6" height="32.7" fill="#FF3A3A" stroke="#000" stroke-width="1.5"/>
<text transform="translate(491.20,1291.80) scale(1.0,1.05)" font-size="21.3" fill="#111">0.7425</text>
<text transform="translate(462.50,1295.35) scale(1.0,1.03)" font-size="25.5" text-anchor="end">Xlip_69</text>
<path d="M998.5 1285.0H1104M998.5 1276.8V1293.2M1104 1276.8V1293.2" stroke="#000" stroke-width="1.6" fill="none"/>
<rect x="1028" y="1281.9" width="60.0" height="6.2" rx="2.5" fill="#000"/>
<path d="M974.9 1285.0a3.1 3.1 0 1 0 6.2 0a3.1 3.1 0 1 0 -6.2 0M981.9 1285.0a3.1 3.1 0 1 0 6.2 0a3.1 3.1 0 1 0 -6.2 0M993.9 1285.0a3.1 3.1 0 1 0 6.2 0a3.1 3.1 0 1 0 -6.2 0M1086.9 1285.0a3.1 3.1 0 1 0 6.2 0a3.1 3.1 0 1 0 -6.2 0M1008.9 1285.0a3.1 3.1 0 1 0 6.2 0a3.1 3.1 0 1 0 -6.2 0M1012.1 1285.0a3.1 3.1 0 1 0 6.2 0a3.1 3.1 0 1 0 -6.2 0M1015.4 1285.0a3.1 3.1 0 1 0 6.2 0a3.1 3.1 0 1 0 -6.2 0M1018.6 1285.0a3.1 3.1 0 1 0 6.2 0a3.1 3.1 0 1 0 -6.2 0M1021.9 1285.0a3.1 3.1 0 1 0 6.2 0a3.1 3.1 0 1 0 -6.2 0" fill="none" stroke="#000" stroke-width="1.2"/>
<rect x="482.75" y="1308.3" width="552.1" height="32.7" fill="#FF4646" stroke="#000" stroke-width="1.5"/>
<text transform="translate(491.20,1331.58) scale(1.0,1.05)" font-size="21.3" fill="#111">0.7224</text>
<text transform="translate(462.50,1335.13) scale(1.0,1.03)" font-size="25.5" text-anchor="end">PE(P-18:0/22:5) + PE(P-20:1/20:4)</text>
<path d="M984.2 1324.7H1086.5M984.2 1316.5V1332.9M1086.5 1316.5V1332.9" stroke="#000" stroke-width="1.6" fill="none"/>
<rect x="1006.7" y="1321.6" width="69.8" height="6.2" rx="2.5" fill="#000"/>
<path d="M975.9 1324.7a3.1 3.1 0 1 0 6.2 0a3.1 3.1 0 1 0 -6.2 0M1094.0 1324.7a3.1 3.1 0 1 0 6.2 0a3.1 3.1 0 1 0 -6.2 0M981.9 1324.7a3.1 3.1 0 1 0 6.2 0a3.1 3.1 0 1 0 -6.2 0M985.5 1324.7a3.1 3.1 0 1 0 6.2 0a3.1 3.1 0 1 0 -6.2 0M989.1 1324.7a3.1 3.1 0 1 0 6.2 0a3.1 3.1 0 1 0 -6.2 0M992.7 1324.7a3.1 3.1 0 1 0 6.2 0a3.1 3.1 0 1 0 -6.2 0M996.3 1324.7a3.1 3.1 0 1 0 6.2 0a3.1 3.1 0 1 0 -6.2 0M999.9 1324.7a3.1 3.1 0 1 0 6.2 0a3.1 3.1 0 1 0 -6.2 0" fill="none" stroke="#000" stroke-width="1.2"/>
<rect x="482.75" y="1348.1" width="548.9" height="32.7" fill="#FF5151" stroke="#000" stroke-width="1.5"/>
<text transform="translate(491.20,1371.36) scale(1.0,1.05)" font-size="21.3" fill="#111">0.7182</text>
<text transform="translate(462.50,1374.91) scale(1.0,1.03)" font-size="25.5" text-anchor="end">LPC(18:0)</text>
<path d="M980.3 1364.5H1083.9M980.3 1356.3V1372.7M1083.9 1356.3V1372.7" stroke="#000" stroke-width="1.6" fill="none"/>
<rect x="990.5" y="1361.4" width="67.5" height="6.2" rx="2.5" fill="#000"/>
<path d="M950.4 1364.5a3.1 3.1 0 1 0 6.2 0a3.1 3.1 0 1 0 -6.2 0M976.9 1364.5a3.1 3.1 0 1 0 6.2 0a3.1 3.1 0 1 0 -6.2 0M980.9 1364.5a3.1 3.1 0 1 0 6.2 0a3.1 3.1 0 1 0 -6.2 0M1058.9 1364.5a3.1 3.1 0 1 0 6.2 0a3.1 3.1 0 1 0 -6.2 0M1062.3 1364.5a3.1 3.1 0 1 0 6.2 0a3.1 3.1 0 1 0 -6.2 0M1065.7 1364.5a3.1 3.1 0 1 0 6.2 0a3.1 3.1 0 1 0 -6.2 0M1069.1 1364.5a3.1 3.1 0 1 0 6.2 0a3.1 3.1 0 1 0 -6.2 0M1072.5 1364.5a3.1 3.1 0 1 0 6.2 0a3.1 3.1 0 1 0 -6.2 0M1075.9 1364.5a3.1 3.1 0 1 0 6.2 0a3.1 3.1 0 1 0 -6.2 0M1083.9 1364.5a3.1 3.1 0 1 0 6.2 0a3.1 3.1 0 1 0 -6.2 0M1086.9 1364.5a3.1 3.1 0 1 0 6.2 0a3.1 3.1 0 1 0 -6.2 0" fill="none" stroke="#000" stroke-width="1.2"/>
<rect x="482.75" y="1387.9" width="546.6" height="32.7" fill="#FF5D5D" stroke="#000" stroke-width="1.5"/>
<text transform="translate(491.20,1411.14) scale(1.0,1.05)" font-size="21.3" fill="#111">0.7152</text>
<text transform="translate(462.50,1414.69) scale(1.0167464114832536,1.03)" font-size="25.5" text-anchor="end">X_Met, RI:2115.12</text>
<path d="M976.1 1404.3H1083.9M976.1 1396.1V1412.5M1083.9 1396.1V1412.5" stroke="#000" stroke-width="1.6" fill="none"/>
<rect x="999.4" y="1401.2" width="63.9" height="6.2" rx="2.5" fill="#000"/>
<path d="M966.1 1404.3a3.1 3.1 0 1 0 6.2 0a3.1 3.1 0 1 0 -6.2 0M973.9 1404.3a3.1 3.1 0 1 0 6.2 0a3.1 3.1 0 1 0 -6.2 0M977.1 1404.3a3.1 3.1 0 1 0 6.2 0a3.1 3.1 0 1 0 -6.2 0M980.2 1404.3a3.1 3.1 0 1 0 6.2 0a3.1 3.1 0 1 0 -6.2 0M983.4 1404.3a3.1 3.1 0 1 0 6.2 0a3.1 3.1 0 1 0 -6.2 0M986.6 1404.3a3.1 3.1 0 1 0 6.2 0a3.1 3.1 0 1 0 -6.2 0M989.7 1404.3a3.1 3.1 0 1 0 6.2 0a3.1 3.1 0 1 0 -6.2 0M992.9 1404.3a3.1 3.1 0 1 0 6.2 0a3.1 3.1 0 1 0 -6.2 0M1066.9 1404.3a3.1 3.1 0 1 0 6.2 0a3.1 3.1 0 1 0 -6.2 0M1070.4 1404.3a3.1 3.1 0 1 0 6.2 0a3.1 3.1 0 1 0 -6.2 0M1073.9 1404.3a3.1 3.1 0 1 0 6.2 0a3.1 3.1 0 1 0 -6.2 0" fill="none" stroke="#000" stroke-width="1.2"/>
<rect x="482.75" y="1427.7" width="546.5" height="32.7" fill="#FF6868" stroke="#000" stroke-width="1.5"/>
<text transform="translate(491.20,1450.92) scale(1.0,1.05)" font-size="21.3" fill="#111">0.715</text>
<text transform="translate(462.50,1454.47) scale(0.9915,1.03)" font-size="25.5" text-anchor="end">X_Met (Sorbitol or mannitol), RI:1928.75</text>
<path d="M981.4 1444.1H1078.4M981.4 1435.9V1452.3M1078.4 1435.9V1452.3" stroke="#000" stroke-width="1.6" fill="none"/>
<rect x="1004" y="1441.0" width="61.5" height="6.2" rx="2.5" fill="#000"/>
<path d="M974.2 1444.1a3.1 3.1 0 1 0 6.2 0a3.1 3.1 0 1 0 -6.2 0M1080.8 1444.1a3.1 3.1 0 1 0 6.2 0a3.1 3.1 0 1 0 -6.2 0M989.9 1444.1a3.1 3.1 0 1 0 6.2 0a3.1 3.1 0 1 0 -6.2 0M993.9 1444.1a3.1 3.1 0 1 0 6.2 0a3.1 3.1 0 1 0 -6.2 0M1069.9 1444.1a3.1 3.1 0 1 0 6.2 0a3.1 3.1 0 1 0 -6.2 0M1071.9 1444.1a3.1 3.1 0 1 0 6.2 0a3.1 3.1 0 1 0 -6.2 0" fill="none" stroke="#000" stroke-width="1.2"/>
<rect x="482.75" y="1467.5" width="545.9" height="32.7" fill="#FF7474" stroke="#000" stroke-width="1.5"/>
<text transform="translate(491.20,1490.70) scale(1.0,1.05)" font-size="21.3" fill="#111">0.7142</text>
<text transform="translate(462.50,1494.25) scale(0.9926553672316384,1.03)" font-size="25.5" text-anchor="end">D-(+)-Trehalose</text>
<path d="M974.7 1483.8H1083.6M974.7 1475.6V1492.0M1083.6 1475.6V1492.0" stroke="#000" stroke-width="1.6" fill="none"/>
<rect x="993.5" y="1480.8" width="68.3" height="6.2" rx="2.5" fill="#000"/>
<path d="M1070.4 1483.8a3.1 3.1 0 1 0 6.2 0a3.1 3.1 0 1 0 -6.2 0M1095.2 1483.8a3.1 3.1 0 1 0 6.2 0a3.1 3.1 0 1 0 -6.2 0M971.9 1483.8a3.1 3.1 0 1 0 6.2 0a3.1 3.1 0 1 0 -6.2 0M975.4 1483.8a3.1 3.1 0 1 0 6.2 0a3.1 3.1 0 1 0 -6.2 0M978.9 1483.8a3.1 3.1 0 1 0 6.2 0a3.1 3.1 0 1 0 -6.2 0M982.4 1483.8a3.1 3.1 0 1 0 6.2 0a3.1 3.1 0 1 0 -6.2 0M985.9 1483.8a3.1 3.1 0 1 0 6.2 0a3.1 3.1 0 1 0 -6.2 0M1079.9 1483.8a3.1 3.1 0 1 0 6.2 0a3.1 3.1 0 1 0 -6.2 0M1081.9 1483.8a3.1 3.1 0 1 0 6.2 0a3.1 3.1 0 1 0 -6.2 0" fill="none" stroke="#000" stroke-width="1.2"/>
<rect x="482.75" y="1507.2" width="540.7" height="32.7" fill="#FF8080" stroke="#000" stroke-width="1.5"/>
<text transform="translate(491.20,1530.48) scale(1.0,1.05)" font-size="21.3" fill="#111">0.7075</text>
<text transform="translate(462.50,1534.03) scale(0.9675438596491229,1.03)" font-size="25.5" text-anchor="end">Threonine</text>
<path d="M970.7 1523.6H1077M970.7 1515.4V1531.8M1077 1515.4V1531.8" stroke="#000" stroke-width="1.6" fill="none"/>
<rect x="992" y="1520.5" width="55.9" height="6.2" rx="2.5" fill="#000"/>
<path d="M978.9 1523.6a3.1 3.1 0 1 0 6.2 0a3.1 3.1 0 1 0 -6.2 0M982.4 1523.6a3.1 3.1 0 1 0 6.2 0a3.1 3.1 0 1 0 -6.2 0M985.9 1523.6a3.1 3.1 0 1 0 6.2 0a3.1 3.1 0 1 0 -6.2 0M1047.9 1523.6a3.1 3.1 0 1 0 6.2 0a3.1 3.1 0 1 0 -6.2 0M1051.4 1523.6a3.1 3.1 0 1 0 6.2 0a3.1 3.1 0 1 0 -6.2 0M1054.9 1523.6a3.1 3.1 0 1 0 6.2 0a3.1 3.1 0 1 0 -6.2 0M1065.9 1523.6a3.1 3.1 0 1 0 6.2 0a3.1 3.1 0 1 0 -6.2 0M1069.9 1523.6a3.1 3.1 0 1 0 6.2 0a3.1 3.1 0 1 0 -6.2 0M1073.9 1523.6a3.1 3.1 0 1 0 6.2 0a3.1 3.1 0 1 0 -6.2 0" fill="none" stroke="#000" stroke-width="1.2"/>
<rect x="482.75" y="1547.0" width="540.6" height="32.7" fill="#FF8B8B" stroke="#000" stroke-width="1.5"/>
<text transform="translate(491.20,1570.26) scale(1.0,1.05)" font-size="21.3" fill="#111">0.7073</text>
<text transform="translate(462.50,1573.81) scale(0.9798387096774194,1.03)" font-size="25.5" text-anchor="end">Quinic acid</text>
<path d="M971 1563.4H1077M971 1555.2V1571.6M1077 1555.2V1571.6" stroke="#000" stroke-width="1.6" fill="none"/>
<rect x="990.5" y="1560.3" width="58.8" height="6.2" rx="2.5" fill="#000"/>
<path d="M958.3 1563.4a3.1 3.1 0 1 0 6.2 0a3.1 3.1 0 1 0 -6.2 0M968.9 1563.4a3.1 3.1 0 1 0 6.2 0a3.1 3.1 0 1 0 -6.2 0M972.6 1563.4a3.1 3.1 0 1 0 6.2 0a3.1 3.1 0 1 0 -6.2 0M976.4 1563.4a3.1 3.1 0 1 0 6.2 0a3.1 3.1 0 1 0 -6.2 0M980.1 1563.4a3.1 3.1 0 1 0 6.2 0a3.1 3.1 0 1 0 -6.2 0M983.9 1563.4a3.1 3.1 0 1 0 6.2 0a3.1 3.1 0 1 0 -6.2 0M1048.9 1563.4a3.1 3.1 0 1 0 6.2 0a3.1 3.1 0 1 0 -6.2 0M1052.5 1563.4a3.1 3.1 0 1 0 6.2 0a3.1 3.1 0 1 0 -6.2 0M1056.0 1563.4a3.1 3.1 0 1 0 6.2 0a3.1 3.1 0 1 0 -6.2 0M1059.6 1563.4a3.1 3.1 0 1 0 6.2 0a3.1 3.1 0 1 0 -6.2 0M1063.2 1563.4a3.1 3.1 0 1 0 6.2 0a3.1 3.1 0 1 0 -6.2 0M1066.8 1563.4a3.1 3.1 0 1 0 6.2 0a3.1 3.1 0 1 0 -6.2 0M1070.3 1563.4a3.1 3.1 0 1 0 6.2 0a3.1 3.1 0 1 0 -6.2 0M1073.9 1563.4a3.1 3.1 0 1 0 6.2 0a3.1 3.1 0 1 0 -6.2 0" fill="none" stroke="#000" stroke-width="1.2"/>
<rect x="482.75" y="1586.8" width="539.3" height="32.7" fill="#FF9797" stroke="#000" stroke-width="1.5"/>
<text transform="translate(491.20,1610.04) scale(1.0,1.05)" font-size="21.3" fill="#111">0.7057</text>
<text transform="translate(462.50,1613.59) scale(1.01734693877551,1.03)" font-size="25.5" text-anchor="end">Xlip_245</text>
<path d="M974.8 1603.2H1072.1M974.8 1595.0V1611.4M1072.1 1595.0V1611.4" stroke="#000" stroke-width="1.6" fill="none"/>
<rect x="988.3" y="1600.1" width="64.7" height="6.2" rx="2.5" fill="#000"/>
<path d="M961.0 1603.2a3.1 3.1 0 1 0 6.2 0a3.1 3.1 0 1 0 -6.2 0M979.9 1603.2a3.1 3.1 0 1 0 6.2 0a3.1 3.1 0 1 0 -6.2 0M981.9 1603.2a3.1 3.1 0 1 0 6.2 0a3.1 3.1 0 1 0 -6.2 0M1052.9 1603.2a3.1 3.1 0 1 0 6.2 0a3.1 3.1 0 1 0 -6.2 0M1055.9 1603.2a3.1 3.1 0 1 0 6.2 0a3.1 3.1 0 1 0 -6.2 0M1058.9 1603.2a3.1 3.1 0 1 0 6.2 0a3.1 3.1 0 1 0 -6.2 0M1061.9 1603.2a3.1 3.1 0 1 0 6.2 0a3.1 3.1 0 1 0 -6.2 0" fill="none" stroke="#000" stroke-width="1.2"/>
<rect x="482.75" y="1626.6" width="537.8" height="32.7" fill="#FFA2A2" stroke="#000" stroke-width="1.5"/>
<text transform="translate(491.20,1649.82) scale(1.0,1.05)" font-size="21.3" fill="#111">0.7037</text>
<text transform="translate(462.50,1653.37) scale(0.994488188976378,1.03)" font-size="25.5" text-anchor="end">Cholesterol</text>
<path d="M972.2 1643.0H1070.6M972.2 1634.8V1651.2M1070.6 1634.8V1651.2" stroke="#000" stroke-width="1.6" fill="none"/>
<rect x="992" y="1639.9" width="65.4" height="6.2" rx="2.5" fill="#000"/>
<path d="M949.2 1643.0a3.1 3.1 0 1 0 6.2 0a3.1 3.1 0 1 0 -6.2 0M1077.9 1643.0a3.1 3.1 0 1 0 6.2 0a3.1 3.1 0 1 0 -6.2 0M964.9 1643.0a3.1 3.1 0 1 0 6.2 0a3.1 3.1 0 1 0 -6.2 0M968.5 1643.0a3.1 3.1 0 1 0 6.2 0a3.1 3.1 0 1 0 -6.2 0M972.1 1643.0a3.1 3.1 0 1 0 6.2 0a3.1 3.1 0 1 0 -6.2 0M975.7 1643.0a3.1 3.1 0 1 0 6.2 0a3.1 3.1 0 1 0 -6.2 0M979.3 1643.0a3.1 3.1 0 1 0 6.2 0a3.1 3.1 0 1 0 -6.2 0M982.9 1643.0a3.1 3.1 0 1 0 6.2 0a3.1 3.1 0 1 0 -6.2 0M1057.9 1643.0a3.1 3.1 0 1 0 6.2 0a3.1 3.1 0 1 0 -6.2 0M1061.9 1643.0a3.1 3.1 0 1 0 6.2 0a3.1 3.1 0 1 0 -6.2 0M1065.9 1643.0a3.1 3.1 0 1 0 6.2 0a3.1 3.1 0 1 0 -6.2 0" fill="none" stroke="#000" stroke-width="1.2"/>
<rect x="482.75" y="1666.4" width="537.5" height="32.7" fill="#FFAEAE" stroke="#000" stroke-width="1.5"/>
<text transform="translate(491.20,1689.60) scale(1.0,1.05)" font-size="21.3" fill="#111">0.7033</text>
<text transform="translate(462.50,1693.15) scale(0.9881944444444445,1.03)" font-size="25.5" text-anchor="end">Glyceric acid</text>
<path d="M964.1 1682.8H1077M964.1 1674.5V1691.0M1077 1674.5V1691.0" stroke="#000" stroke-width="1.6" fill="none"/>
<rect x="998" y="1679.7" width="50.0" height="6.2" rx="2.5" fill="#000"/>
<path d="M1081.8 1682.8a3.1 3.1 0 1 0 6.2 0a3.1 3.1 0 1 0 -6.2 0M976.9 1682.8a3.1 3.1 0 1 0 6.2 0a3.1 3.1 0 1 0 -6.2 0M980.6 1682.8a3.1 3.1 0 1 0 6.2 0a3.1 3.1 0 1 0 -6.2 0M984.4 1682.8a3.1 3.1 0 1 0 6.2 0a3.1 3.1 0 1 0 -6.2 0M988.1 1682.8a3.1 3.1 0 1 0 6.2 0a3.1 3.1 0 1 0 -6.2 0M991.9 1682.8a3.1 3.1 0 1 0 6.2 0a3.1 3.1 0 1 0 -6.2 0M1047.9 1682.8a3.1 3.1 0 1 0 6.2 0a3.1 3.1 0 1 0 -6.2 0M1050.9 1682.8a3.1 3.1 0 1 0 6.2 0a3.1 3.1 0 1 0 -6.2 0M1053.9 1682.8a3.1 3.1 0 1 0 6.2 0a3.1 3.1 0 1 0 -6.2 0M1056.9 1682.8a3.1 3.1 0 1 0 6.2 0a3.1 3.1 0 1 0 -6.2 0M1059.9 1682.8a3.1 3.1 0 1 0 6.2 0a3.1 3.1 0 1 0 -6.2 0" fill="none" stroke="#000" stroke-width="1.2"/>
<rect x="482.75" y="1706.1" width="537.2" height="32.7" fill="#FFB9B9" stroke="#000" stroke-width="1.5"/>
<text transform="translate(491.20,1729.38) scale(1.0,1.05)" font-size="21.3" fill="#111">0.7029</text>
<text transform="translate(462.50,1732.93) scale(0.975974025974026,1.03)" font-size="25.5" text-anchor="end">D-(+)-Maltose</text>
<path d="M965.3 1722.5H1075.8M965.3 1714.3V1730.7M1075.8 1714.3V1730.7" stroke="#000" stroke-width="1.6" fill="none"/>
<rect x="987" y="1719.4" width="71.0" height="6.2" rx="2.5" fill="#000"/>
<path d="M963.9 1722.5a3.1 3.1 0 1 0 6.2 0a3.1 3.1 0 1 0 -6.2 0M967.3 1722.5a3.1 3.1 0 1 0 6.2 0a3.1 3.1 0 1 0 -6.2 0M970.7 1722.5a3.1 3.1 0 1 0 6.2 0a3.1 3.1 0 1 0 -6.2 0M974.1 1722.5a3.1 3.1 0 1 0 6.2 0a3.1 3.1 0 1 0 -6.2 0M977.5 1722.5a3.1 3.1 0 1 0 6.2 0a3.1 3.1 0 1 0 -6.2 0M980.9 1722.5a3.1 3.1 0 1 0 6.2 0a3.1 3.1 0 1 0 -6.2 0M1057.9 1722.5a3.1 3.1 0 1 0 6.2 0a3.1 3.1 0 1 0 -6.2 0M1060.9 1722.5a3.1 3.1 0 1 0 6.2 0a3.1 3.1 0 1 0 -6.2 0M1063.9 1722.5a3.1 3.1 0 1 0 6.2 0a3.1 3.1 0 1 0 -6.2 0M1066.9 1722.5a3.1 3.1 0 1 0 6.2 0a3.1 3.1 0 1 0 -6.2 0" fill="none" stroke="#000" stroke-width="1.2"/>
<rect x="482.75" y="1745.9" width="535.1" height="32.7" fill="#FFC5C5" stroke="#000" stroke-width="1.5"/>
<text transform="translate(491.20,1769.16) scale(1.0,1.05)" font-size="21.3" fill="#111">0.7001</text>
<text transform="translate(462.50,1772.71) scale(0.9902506963788301,1.03)" font-size="25.5" text-anchor="end">X_Met (amino acid), RI:1655.61</text>
<path d="M962.9 1762.3H1074.3M962.9 1754.1V1770.5M1074.3 1754.1V1770.5" stroke="#000" stroke-width="1.6" fill="none"/>
<rect x="975" y="1759.2" width="84.0" height="6.2" rx="2.5" fill="#000"/>
<path d="M962.9 1762.3a3.1 3.1 0 1 0 6.2 0a3.1 3.1 0 1 0 -6.2 0M965.9 1762.3a3.1 3.1 0 1 0 6.2 0a3.1 3.1 0 1 0 -6.2 0M968.9 1762.3a3.1 3.1 0 1 0 6.2 0a3.1 3.1 0 1 0 -6.2 0M1058.9 1762.3a3.1 3.1 0 1 0 6.2 0a3.1 3.1 0 1 0 -6.2 0M1062.2 1762.3a3.1 3.1 0 1 0 6.2 0a3.1 3.1 0 1 0 -6.2 0M1065.4 1762.3a3.1 3.1 0 1 0 6.2 0a3.1 3.1 0 1 0 -6.2 0M1068.7 1762.3a3.1 3.1 0 1 0 6.2 0a3.1 3.1 0 1 0 -6.2 0M1071.9 1762.3a3.1 3.1 0 1 0 6.2 0a3.1 3.1 0 1 0 -6.2 0" fill="none" stroke="#000" stroke-width="1.2"/>
<rect x="482.75" y="1785.7" width="528.1" height="32.7" fill="#FFD1D1" stroke="#000" stroke-width="1.5"/>
<text transform="translate(491.20,1808.94) scale(1.0,1.05)" font-size="21.3" fill="#111">0.691</text>
<text transform="translate(462.50,1812.49) scale(0.987128712871287,1.03)" font-size="25.5" text-anchor="end">TG(51:2)</text>
<path d="M954.8 1802.1H1067.7M954.8 1793.9V1810.3M1067.7 1793.9V1810.3" stroke="#000" stroke-width="1.6" fill="none"/>
<rect x="968.5" y="1799.0" width="73.5" height="6.2" rx="2.5" fill="#000"/>
<path d="M1087.4 1802.1a3.1 3.1 0 1 0 6.2 0a3.1 3.1 0 1 0 -6.2 0M943.9 1802.1a3.1 3.1 0 1 0 6.2 0a3.1 3.1 0 1 0 -6.2 0M947.9 1802.1a3.1 3.1 0 1 0 6.2 0a3.1 3.1 0 1 0 -6.2 0M954.9 1802.1a3.1 3.1 0 1 0 6.2 0a3.1 3.1 0 1 0 -6.2 0M958.4 1802.1a3.1 3.1 0 1 0 6.2 0a3.1 3.1 0 1 0 -6.2 0M961.9 1802.1a3.1 3.1 0 1 0 6.2 0a3.1 3.1 0 1 0 -6.2 0M1041.9 1802.1a3.1 3.1 0 1 0 6.2 0a3.1 3.1 0 1 0 -6.2 0M1045.2 1802.1a3.1 3.1 0 1 0 6.2 0a3.1 3.1 0 1 0 -6.2 0M1048.4 1802.1a3.1 3.1 0 1 0 6.2 0a3.1 3.1 0 1 0 -6.2 0M1051.7 1802.1a3.1 3.1 0 1 0 6.2 0a3.1 3.1 0 1 0 -6.2 0M1054.9 1802.1a3.1 3.1 0 1 0 6.2 0a3.1 3.1 0 1 0 -6.2 0M1058.2 1802.1a3.1 3.1 0 1 0 6.2 0a3.1 3.1 0 1 0 -6.2 0M1061.4 1802.1a3.1 3.1 0 1 0 6.2 0a3.1 3.1 0 1 0 -6.2 0M1064.7 1802.1a3.1 3.1 0 1 0 6.2 0a3.1 3.1 0 1 0 -6.2 0M1067.9 1802.1a3.1 3.1 0 1 0 6.2 0a3.1 3.1 0 1 0 -6.2 0" fill="none" stroke="#000" stroke-width="1.2"/>
<rect x="482.75" y="1825.5" width="525.6" height="32.7" fill="#FFDCDC" stroke="#000" stroke-width="1.5"/>
<text transform="translate(491.20,1848.72) scale(1.0,1.05)" font-size="21.3" fill="#111">0.6878</text>
<text transform="translate(462.50,1852.27) scale(0.9749999999999999,1.03)" font-size="25.5" text-anchor="end">Serine</text>
<path d="M954.8 1841.9H1064M954.8 1833.7V1850.1M1064 1833.7V1850.1" stroke="#000" stroke-width="1.6" fill="none"/>
<rect x="993.5" y="1838.8" width="42.5" height="6.2" rx="2.5" fill="#000"/>
<path d="M938.5 1841.9a3.1 3.1 0 1 0 6.2 0a3.1 3.1 0 1 0 -6.2 0M955.9 1841.9a3.1 3.1 0 1 0 6.2 0a3.1 3.1 0 1 0 -6.2 0M958.9 1841.9a3.1 3.1 0 1 0 6.2 0a3.1 3.1 0 1 0 -6.2 0M961.9 1841.9a3.1 3.1 0 1 0 6.2 0a3.1 3.1 0 1 0 -6.2 0M964.9 1841.9a3.1 3.1 0 1 0 6.2 0a3.1 3.1 0 1 0 -6.2 0M967.9 1841.9a3.1 3.1 0 1 0 6.2 0a3.1 3.1 0 1 0 -6.2 0M976.9 1841.9a3.1 3.1 0 1 0 6.2 0a3.1 3.1 0 1 0 -6.2 0M980.2 1841.9a3.1 3.1 0 1 0 6.2 0a3.1 3.1 0 1 0 -6.2 0M983.6 1841.9a3.1 3.1 0 1 0 6.2 0a3.1 3.1 0 1 0 -6.2 0M986.9 1841.9a3.1 3.1 0 1 0 6.2 0a3.1 3.1 0 1 0 -6.2 0M1035.9 1841.9a3.1 3.1 0 1 0 6.2 0a3.1 3.1 0 1 0 -6.2 0M1039.7 1841.9a3.1 3.1 0 1 0 6.2 0a3.1 3.1 0 1 0 -6.2 0M1043.4 1841.9a3.1 3.1 0 1 0 6.2 0a3.1 3.1 0 1 0 -6.2 0M1047.2 1841.9a3.1 3.1 0 1 0 6.2 0a3.1 3.1 0 1 0 -6.2 0M1050.9 1841.9a3.1 3.1 0 1 0 6.2 0a3.1 3.1 0 1 0 -6.2 0" fill="none" stroke="#000" stroke-width="1.2"/>
<rect x="482.75" y="1865.2" width="511.8" height="32.7" fill="#FFE8E8" stroke="#000" stroke-width="1.5"/>
<text transform="translate(491.20,1888.50) scale(1.0,1.05)" font-size="21.3" fill="#111">0.6698</text>
<text transform="translate(462.50,1892.05) scale(0.96094674556213,1.03)" font-size="25.5" text-anchor="end">Alanine</text>
<path d="M942.8 1881.7H1047.9M942.8 1873.5V1889.9M1047.9 1873.5V1889.9" stroke="#000" stroke-width="1.6" fill="none"/>
<rect x="958" y="1878.6" width="73.7" height="6.2" rx="2.5" fill="#000"/>
<path d="M1048.4 1881.7a3.1 3.1 0 1 0 6.2 0a3.1 3.1 0 1 0 -6.2 0M949.9 1881.7a3.1 3.1 0 1 0 6.2 0a3.1 3.1 0 1 0 -6.2 0M951.9 1881.7a3.1 3.1 0 1 0 6.2 0a3.1 3.1 0 1 0 -6.2 0M1032.9 1881.7a3.1 3.1 0 1 0 6.2 0a3.1 3.1 0 1 0 -6.2 0M1036.4 1881.7a3.1 3.1 0 1 0 6.2 0a3.1 3.1 0 1 0 -6.2 0M1039.9 1881.7a3.1 3.1 0 1 0 6.2 0a3.1 3.1 0 1 0 -6.2 0" fill="none" stroke="#000" stroke-width="1.2"/>
<rect x="482.75" y="1905.0" width="508.2" height="32.7" fill="#FFF3F3" stroke="#000" stroke-width="1.5"/>
<text transform="translate(491.20,1928.28) scale(1.0,1.05)" font-size="21.3" fill="#111">0.665</text>
<text transform="translate(462.50,1931.83) scale(0.9951048951048952,1.03)" font-size="25.5" text-anchor="end">O-LPC(16:0)</text>
<path d="M937.6 1921.4H1046.4M937.6 1913.2V1929.6M1046.4 1913.2V1929.6" stroke="#000" stroke-width="1.6" fill="none"/>
<rect x="942" y="1918.3" width="102.0" height="6.2" rx="2.5" fill="#000"/>
<path d="M931.6 1921.4a3.1 3.1 0 1 0 6.2 0a3.1 3.1 0 1 0 -6.2 0M1046.2 1921.4a3.1 3.1 0 1 0 6.2 0a3.1 3.1 0 1 0 -6.2 0M1042.9 1921.4a3.1 3.1 0 1 0 6.2 0a3.1 3.1 0 1 0 -6.2 0M1041.9 1921.4a3.1 3.1 0 1 0 6.2 0a3.1 3.1 0 1 0 -6.2 0" fill="none" stroke="#000" stroke-width="1.2"/>
<rect x="482.75" y="1944.8" width="507.8" height="32.7" fill="#FFFFFF" stroke="#000" stroke-width="1.5"/>
<text transform="translate(491.20,1968.06) scale(1.0,1.05)" font-size="21.3" fill="#111">0.6646</text>
<text transform="translate(462.50,1971.61) scale(1.0,1.03)" font-size="25.5" text-anchor="end">X_Met (phenolic compound),RI:1738.39</text>
<path d="M936.5 1961.2H1046.4M936.5 1953.0V1969.4M1046.4 1953.0V1969.4" stroke="#000" stroke-width="1.6" fill="none"/>
<rect x="949" y="1958.1" width="79.8" height="6.2" rx="2.5" fill="#000"/>
<path d="M1027.9 1961.2a3.1 3.1 0 1 0 6.2 0a3.1 3.1 0 1 0 -6.2 0M1048.4 1961.2a3.1 3.1 0 1 0 6.2 0a3.1 3.1 0 1 0 -6.2 0M940.9 1961.2a3.1 3.1 0 1 0 6.2 0a3.1 3.1 0 1 0 -6.2 0M944.9 1961.2a3.1 3.1 0 1 0 6.2 0a3.1 3.1 0 1 0 -6.2 0" fill="none" stroke="#000" stroke-width="1.2"/>
<path d="M482 2014.5H1248.4M482.0 2014.5V2024.5M635.3 2014.5V2024.5M788.6 2014.5V2024.5M941.8 2014.5V2024.5M1095.1 2014.5V2024.5M1248.4 2014.5V2024.5" stroke="#000" stroke-width="1.5" fill="none"/>
<text x="481.4" y="2049.6" font-size="25.5" text-anchor="middle" font-family="Liberation Sans, sans-serif">0.0</text>
<text x="634.7" y="2049.6" font-size="25.5" text-anchor="middle" font-family="Liberation Sans, sans-serif">0.2</text>
<text x="788.0" y="2049.6" font-size="25.5" text-anchor="middle" font-family="Liberation Sans, sans-serif">0.4</text>
<text x="941.2" y="2049.6" font-size="25.5" text-anchor="middle" font-family="Liberation Sans, sans-serif">0.6</text>
<text x="1094.5" y="2049.6" font-size="25.5" text-anchor="middle" font-family="Liberation Sans, sans-serif">0.8</text>
<text x="1247.8" y="2049.6" font-size="25.5" text-anchor="middle" font-family="Liberation Sans, sans-serif">1.0</text>
</svg></body></html>
